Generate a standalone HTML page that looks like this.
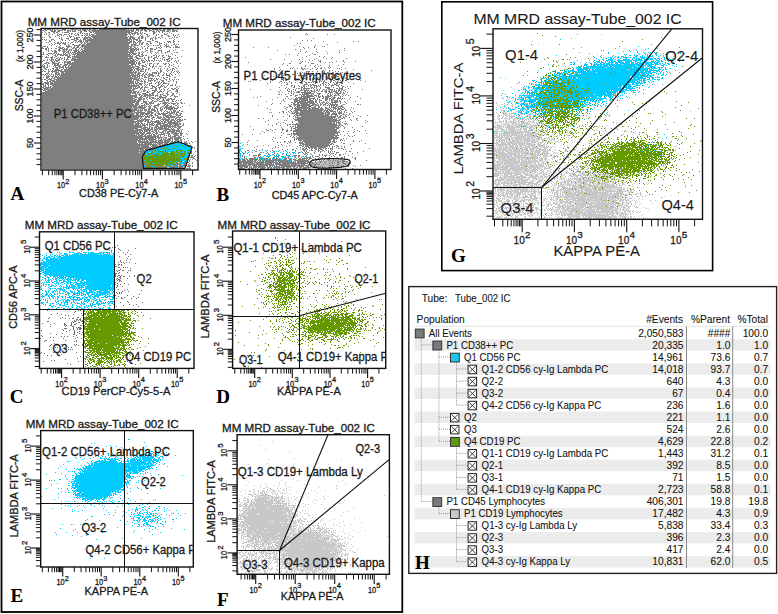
<!DOCTYPE html>
<html><head><meta charset="utf-8"><style>
html,body{margin:0;padding:0;background:#fff;overflow:hidden;width:778px;height:614px;}
svg{display:block;font-family:"Liberation Sans",sans-serif;}
text{stroke:#1a1a1a;stroke-width:0.3px;}
.tb text{stroke-width:0.08px;}
</style></head><body>
<svg width="778" height="614" viewBox="0 0 778 614">
<defs><clipPath id="cD"><rect x="232.6" y="231" width="152.4" height="137.4"/></clipPath><clipPath id="cE"><rect x="40.7" y="430.6" width="151.9" height="136.4"/></clipPath></defs>
<rect width="778" height="614" fill="#fff"/>
<g><path d="M44 29.5h2m1 0h4m1 0h1m1 0h1m2 0h1m4 0h4m5 0h3m1 0h2m1 0h1m1 0h1m1 0h4m1 0h1m1 0h2m2 0h3m1 0h1m1 0h28m1 0h1m2 0h1m1 0h1m2 0h3m2 0h2m1 0h2m1 0h3m2 0h6m1 0h2m2 0h3m1 0h4m1 0h2m3 0h1M42 30.5h2m1 0h2m3 0h3m1 0h2m2 0h5m1 0h2m1 0h4m1 0h1m1 0h2m2 0h3m1 0h5m1 0h2m1 0h43m2 0h3m1 0h3m1 0h3m2 0h3m1 0h1m2 0h3m1 0h5m2 0h3m2 0h5M44 31.5h1m6 0h5m1 0h3m7 0h2m1 0h1m1 0h4m4 0h2m2 0h3m2 0h2m1 0h38m1 0h3m1 0h1m2 0h1m1 0h1m4 0h2m2 0h1m2 0h3m1 0h1m1 0h2m2 0h3m1 0h3m1 0h1m1 0h3m1 0h2M42 32.5h1m2 0h1m2 0h2m3 0h2m1 0h2m4 0h1m1 0h5m9 0h1m1 0h2m8 0h2m1 0h1m1 0h37m2 0h4m2 0h1m1 0h1m10 0h3m3 0h1m2 0h1m6 0h1M46 33.5h1m2 0h1m4 0h1m3 0h1m10 0h1m1 0h2m2 0h1m1 0h1m2 0h1m1 0h1m1 0h1m1 0h2m1 0h1m4 0h33m1 0h2m1 0h5m1 0h2m1 0h2m2 0h2m7 0h2m9 0h1m2 0h1m3 0h1m134 0h1M44 34.5h1m1 0h1m2 0h1m2 0h1m4 0h1m1 0h3m2 0h3m1 0h1m2 0h1m2 0h1m2 0h2m6 0h1m1 0h1m1 0h1m1 0h3m2 0h32m1 0h2m1 0h1m1 0h1m2 0h2m2 0h1m4 0h2m5 0h1m2 0h1m1 0h1m5 0h3m6 0h1m4 0h1m126 0h1m1 0h1m19 0h1m6 0h1M48 35.5h1m8 0h2m2 0h1m1 0h1m5 0h1m5 0h2m1 0h1m2 0h2m1 0h1m1 0h2m1 0h2m1 0h35m3 0h1m2 0h1m6 0h1m1 0h1m4 0h1m1 0h1m6 0h1m4 0h2m4 0h2m4 0h1m1 0h1m1 0h1M49 36.5h1m5 0h1m3 0h1m7 0h1m1 0h3m1 0h1m11 0h1m2 0h1m2 0h36m1 0h1m1 0h3m6 0h1m1 0h2m4 0h2m6 0h1m5 0h1m6 0h2m4 0h1m4 0h1M42 37.5h1m1 0h1m4 0h2m10 0h1m8 0h1m3 0h1m1 0h4m2 0h1m1 0h7m1 0h36m1 0h6m3 0h2m1 0h3m1 0h1m7 0h1m1 0h1m2 0h2m2 0h1m9 0h1m1 0h1m1 0h2m112 0h1M59 38.5h1m1 0h1m4 0h3m5 0h4m5 0h5m1 0h3m1 0h35m1 0h2m1 0h3m3 0h2m1 0h2m2 0h1m4 0h3m2 0h2m3 0h1m4 0h1m3 0h1m1 0h1m141 0h1M42 39.5h1m1 0h1m1 0h1m4 0h3m7 0h2m5 0h1m2 0h4m1 0h3m1 0h1m2 0h3m1 0h45m1 0h5m1 0h1m5 0h1m4 0h1m1 0h1m2 0h1m18 0h1M45 40.5h1m3 0h1m1 0h1m2 0h1m7 0h1m2 0h1m3 0h1m4 0h3m2 0h3m1 0h1m1 0h45m1 0h1m1 0h1m2 0h2m1 0h3m3 0h1m6 0h2m19 0h1m128 0h1m4 0h1m3 0h1M49 41.5h2m9 0h1m12 0h1m2 0h1m1 0h4m1 0h1m1 0h3m1 0h39m1 0h3m1 0h2m3 0h3m6 0h4m4 0h3m9 0h4m2 0h2m3 0h1m144 0h1m29 0h1m4 0h1M46 42.5h1m1 0h1m5 0h1m2 0h2m2 0h1m1 0h1m1 0h1m2 0h1m2 0h2m2 0h1m1 0h1m2 0h3m1 0h1m1 0h3m1 0h42m1 0h3m1 0h1m1 0h2m1 0h2m6 0h1m6 0h1m1 0h1m4 0h1m3 0h1m1 0h1m2 0h1m163 0h1M51 43.5h1m3 0h1m1 0h4m1 0h4m4 0h1m10 0h1m2 0h2m1 0h43m3 0h1m1 0h2m2 0h1m1 0h2m3 0h2m2 0h2m7 0h3m4 0h1m7 0h1m122 0h1m2 0h1M49 44.5h1m2 0h1m1 0h1m4 0h1m4 0h2m2 0h1m3 0h2m5 0h2m1 0h3m1 0h43m2 0h5m3 0h1m1 0h2m3 0h1m1 0h1m10 0h1m4 0h1m1 0h1m6 0h2m1 0h1m1 0h1m148 0h1M51 45.5h1m8 0h1m5 0h1m1 0h2m4 0h6m1 0h48m2 0h2m1 0h5m8 0h1m2 0h1m2 0h1m1 0h1m1 0h2m1 0h1m4 0h2m1 0h1m2 0h1m3 0h1m118 0h1m20 0h1M43 46.5h3m1 0h1m8 0h1m2 0h1m6 0h5m3 0h1m2 0h2m2 0h51m1 0h2m6 0h1m2 0h1m3 0h1m11 0h1m3 0h1m1 0h3m6 0h3m121 0h1m14 0h1m7 0h1m1 0h1M42 47.5h1m4 0h1m10 0h3m1 0h2m3 0h2m2 0h1m1 0h2m1 0h3m1 0h1m1 0h1m1 0h45m1 0h2m2 0h2m1 0h1m4 0h1m4 0h1m8 0h1m1 0h2m1 0h1m4 0h1m2 0h2m2 0h1m1 0h5m73 0h1m14 0h1m34 0h1m4 0h1m5 0h1M42 48.5h2m1 0h2m1 0h1m2 0h1m3 0h2m2 0h4m1 0h1m1 0h2m4 0h2m1 0h2m2 0h1m1 0h1m1 0h51m1 0h2m1 0h1m3 0h1m2 0h1m1 0h1m2 0h3m3 0h1m3 0h1m143 0h1m39 0h1M45 49.5h2m1 0h1m9 0h2m2 0h6m1 0h3m3 0h2m1 0h1m2 0h2m1 0h45m1 0h9m1 0h1m4 0h1m4 0h3m1 0h2m19 0h1m119 0h1m4 0h1m15 0h1M46 50.5h1m1 0h1m2 0h1m2 0h2m2 0h3m2 0h2m1 0h1m1 0h2m1 0h1m1 0h6m1 0h1m1 0h46m1 0h6m1 0h1m1 0h1m7 0h2m2 0h1m7 0h4m7 0h1m3 0h1m8 0h1m94 0h1m61 0h1m4 0h1M48 51.5h1m3 0h1m1 0h3m2 0h1m2 0h4m1 0h2m1 0h1m3 0h3m1 0h2m1 0h48m1 0h4m1 0h1m6 0h1m2 0h1m4 0h3m5 0h1m2 0h1m5 0h3m130 0h1m5 0h1m9 0h1m9 0h1M43 52.5h1m10 0h3m6 0h2m1 0h3m1 0h1m1 0h4m1 0h57m4 0h2m1 0h1m1 0h1m3 0h1m2 0h1m4 0h1m1 0h1m3 0h1m3 0h1m1 0h1m6 0h1m1 0h2m127 0h1m11 0h1m21 0h1M43 53.5h1m4 0h4m1 0h2m1 0h1m1 0h1m4 0h1m1 0h1m2 0h2m1 0h1m1 0h1m1 0h53m1 0h2m1 0h5m1 0h2m2 0h1m8 0h1m4 0h1m1 0h1m3 0h1m2 0h1m5 0h1m126 0h1m13 0h1m14 0h1M42 54.5h2m2 0h2m4 0h1m2 0h1m1 0h5m1 0h5m1 0h1m2 0h4m1 0h53m1 0h1m1 0h3m2 0h1m2 0h2m12 0h1m16 0h1m112 0h1m3 0h1m24 0h2M48 55.5h1m5 0h2m1 0h1m2 0h4m1 0h3m1 0h2m3 0h1m1 0h55m1 0h1m3 0h4m2 0h2m1 0h2m6 0h2m1 0h1m2 0h1m2 0h2m2 0h1m1 0h1m6 0h1m121 0h1m11 0h1M42 56.5h1m3 0h1m5 0h1m2 0h2m10 0h3m2 0h61m2 0h2m2 0h4m5 0h1m2 0h1m4 0h1m1 0h1m3 0h1m5 0h3m10 0h1m124 0h1m12 0h1m4 0h1M45 57.5h4m1 0h3m1 0h1m3 0h1m1 0h1m3 0h1m2 0h4m1 0h1m1 0h54m1 0h4m1 0h1m1 0h2m6 0h1m3 0h2m1 0h1m2 0h3m6 0h2m4 0h1m7 0h1m67 0h1m56 0h1m20 0h1m8 0h1M51 58.5h2m3 0h2m1 0h1m1 0h2m1 0h1m2 0h1m4 0h4m1 0h56m3 0h5m1 0h1m1 0h1m3 0h1m4 0h2m2 0h1m2 0h1m1 0h1m5 0h2m1 0h2m2 0h1m140 0h1m9 0h1m4 0h1m14 0h1M47 59.5h1m1 0h1m1 0h3m1 0h1m2 0h2m1 0h1m2 0h1m1 0h3m2 0h60m1 0h2m1 0h1m2 0h1m2 0h1m3 0h1m2 0h1m5 0h1m7 0h1m1 0h1m1 0h3m2 0h1m98 0h1m13 0h1m14 0h1m2 0h1m11 0h1M43 60.5h2m2 0h1m2 0h2m1 0h1m1 0h5m3 0h1m2 0h1m4 0h58m1 0h5m1 0h2m3 0h3m2 0h1m1 0h2m1 0h2m1 0h1m1 0h1m1 0h1m1 0h1m3 0h1m2 0h1m1 0h1m5 0h1m2 0h1m130 0h1m2 0h1m5 0h1m1 0h1m22 0h1M42 61.5h1m8 0h2m1 0h1m1 0h2m6 0h2m1 0h4m3 0h62m3 0h1m2 0h1m1 0h2m1 0h1m1 0h1m3 0h1m5 0h1m1 0h1m5 0h3m4 0h1m1 0h1m1 0h1m112 0h1m8 0h1m1 0h1m2 0h1m13 0h2m15 0h1m6 0h1m11 0h1M46 62.5h3m3 0h3m3 0h2m2 0h1m1 0h7m1 0h63m1 0h1m1 0h2m2 0h3m26 0h1m4 0h1m71 0h1m52 0h1m6 0h1m11 0h1m4 0h1m3 0h1m2 0h1m11 0h1M44 63.5h3m1 0h2m2 0h7m5 0h1m2 0h68m1 0h1m1 0h3m6 0h1m1 0h3m2 0h1m2 0h2m4 0h1m1 0h2m1 0h1m8 0h1m2 0h1m102 0h1m5 0h2m8 0h2m10 0h3M43 64.5h1m3 0h1m4 0h1m1 0h2m1 0h2m1 0h2m2 0h4m1 0h60m2 0h5m2 0h2m5 0h1m3 0h1m3 0h1m3 0h1m6 0h2m3 0h1m3 0h1m108 0h1m34 0h1m25 0h1M42 65.5h1m1 0h1m2 0h1m6 0h6m3 0h4m1 0h2m1 0h62m2 0h1m3 0h1m1 0h3m2 0h1m2 0h1m3 0h1m15 0h1m1 0h1m115 0h1m17 0h1m4 0h1m4 0h1m4 0h1m8 0h1m8 0h1M42 66.5h3m2 0h1m1 0h1m3 0h1m1 0h1m2 0h3m1 0h2m1 0h1m2 0h1m1 0h61m1 0h2m1 0h4m3 0h4m4 0h1m1 0h2m1 0h2m2 0h3m3 0h1m2 0h1m4 0h1m4 0h1m126 0h1m8 0h1m3 0h1m10 0h1M43 67.5h2m1 0h2m7 0h3m1 0h5m1 0h70m2 0h3m2 0h1m3 0h1m5 0h1m16 0h1m5 0h1m103 0h1m13 0h1m7 0h1m13 0h1m5 0h1m2 0h1m3 0h1m1 0h1m10 0h1M44 68.5h2m6 0h2m2 0h2m1 0h1m3 0h1m2 0h1m1 0h64m1 0h1m1 0h4m1 0h1m1 0h2m4 0h2m4 0h1m3 0h1m1 0h1m3 0h1m2 0h1m4 0h2m2 0h1m97 0h1m15 0h1m1 0h1m4 0h1m3 0h2m1 0h1m2 0h1m4 0h1m4 0h1m2 0h2m7 0h1m7 0h1m1 0h1m5 0h1M42 69.5h1m2 0h2m1 0h1m1 0h1m2 0h1m1 0h4m2 0h2m1 0h69m1 0h1m1 0h4m1 0h3m1 0h2m1 0h1m11 0h1m6 0h1m2 0h1m1 0h1m1 0h1m99 0h1m5 0h1m13 0h1m7 0h2m1 0h1m4 0h1m5 0h1m8 0h1m15 0h1m11 0h1M43 70.5h1m4 0h1m3 0h1m1 0h8m2 0h69m1 0h1m2 0h2m1 0h2m3 0h1m4 0h1m5 0h1m3 0h2m4 0h1m1 0h1m3 0h1m4 0h1m101 0h1m2 0h1m40 0h1m5 0h1m2 0h1m38 0h1M42 71.5h1m1 0h2m2 0h2m1 0h6m1 0h1m1 0h72m1 0h1m1 0h2m1 0h1m1 0h4m1 0h1m11 0h1m2 0h2m5 0h1m3 0h1m2 0h1m1 0h1m1 0h1m127 0h4m2 0h1m4 0h1m6 0h1m4 0h1m5 0h1m2 0h1M48 72.5h1m3 0h1m2 0h4m2 0h3m1 0h72m1 0h2m4 0h1m2 0h1m4 0h5m1 0h1m1 0h1m2 0h1m7 0h1m1 0h1m3 0h1m1 0h1m101 0h1m18 0h1m1 0h1m3 0h1m1 0h1m15 0h1m2 0h2m3 0h2m8 0h1M46 73.5h3m2 0h1m3 0h2m1 0h2m1 0h72m1 0h2m1 0h4m2 0h1m2 0h1m2 0h1m2 0h1m1 0h3m1 0h2m4 0h1m1 0h1m3 0h1m7 0h1m103 0h1m1 0h1m12 0h1m14 0h2m3 0h1m9 0h3m1 0h1m1 0h1M42 74.5h2m1 0h1m1 0h1m1 0h1m1 0h1m1 0h1m1 0h5m1 0h69m1 0h3m1 0h1m1 0h3m2 0h2m1 0h2m1 0h5m5 0h1m4 0h1m2 0h1m2 0h1m1 0h1m3 0h1m94 0h1m7 0h1m13 0h2m14 0h1m3 0h1m6 0h1m8 0h1m2 0h1m2 0h1m2 0h1m15 0h1M44 75.5h1m1 0h1m1 0h1m1 0h1m2 0h1m1 0h1m1 0h1m1 0h79m1 0h1m1 0h2m1 0h1m2 0h1m1 0h5m3 0h2m3 0h2m2 0h4m2 0h1m6 0h1m84 0h1m18 0h1m14 0h3m1 0h1m2 0h2m3 0h2m2 0h2m6 0h1m5 0h1m5 0h1m1 0h1m9 0h1m8 0h1m4 0h1M46 76.5h4m1 0h3m1 0h2m1 0h1m1 0h71m1 0h4m1 0h3m2 0h1m1 0h2m2 0h2m2 0h2m1 0h1m3 0h1m9 0h2m102 0h1m3 0h2m11 0h1m10 0h1m2 0h1m1 0h1m2 0h2m9 0h1m2 0h1m2 0h1m4 0h1m3 0h4M43 77.5h1m2 0h3m3 0h1m1 0h79m1 0h4m1 0h1m4 0h3m1 0h1m12 0h1m1 0h1m2 0h2m6 0h2m100 0h1m6 0h1m11 0h1m10 0h1m6 0h1m4 0h1m3 0h1m4 0h1m3 0h2m1 0h1m6 0h1M46 78.5h2m1 0h1m1 0h1m1 0h2m2 0h80m1 0h2m1 0h2m5 0h5m1 0h1m1 0h1m1 0h1m4 0h2m4 0h1m113 0h1m10 0h1m8 0h3m6 0h1m1 0h2m1 0h1m1 0h1m2 0h1m4 0h4m3 0h1m2 0h1m7 0h1M42 79.5h1m1 0h2m2 0h4m2 0h78m1 0h6m1 0h1m2 0h1m1 0h1m2 0h1m2 0h1m1 0h1m2 0h2m2 0h1m4 0h2m2 0h1m2 0h1m1 0h1m1 0h1m1 0h1m104 0h1m10 0h1m8 0h1m6 0h1m1 0h1m3 0h1m13 0h1m5 0h1m1 0h2M46 80.5h2m2 0h5m1 0h76m1 0h1m2 0h4m1 0h1m2 0h1m3 0h5m1 0h2m5 0h3m2 0h1m3 0h1m2 0h1m86 0h1m11 0h1m10 0h1m1 0h2m8 0h1m4 0h1m9 0h1m1 0h1m6 0h2m3 0h1m5 0h2m1 0h2m3 0h1m1 0h1m1 0h1m2 0h2m13 0h1M42 81.5h1m4 0h1m1 0h2m1 0h82m1 0h1m1 0h1m2 0h3m1 0h2m2 0h1m1 0h1m3 0h1m2 0h1m1 0h1m2 0h2m4 0h2m3 0h1m2 0h1m71 0h1m1 0h1m19 0h1m9 0h2m7 0h1m12 0h1m1 0h1m7 0h4m3 0h1m1 0h1m1 0h2m5 0h2m3 0h1m1 0h1m4 0h1m22 0h1M44 82.5h5m1 0h3m1 0h80m1 0h1m1 0h2m5 0h2m1 0h1m3 0h1m4 0h1m1 0h2m1 0h1m1 0h2m11 0h1m93 0h1m8 0h1m4 0h1m1 0h1m4 0h1m3 0h1m9 0h2m1 0h2m1 0h1m1 0h1m1 0h3m1 0h1m3 0h1m1 0h2m3 0h1m2 0h1m2 0h4m8 0h1M42 83.5h2m1 0h4m1 0h84m1 0h3m1 0h4m1 0h1m4 0h3m3 0h1m2 0h1m1 0h1m2 0h4m1 0h1m7 0h1m90 0h1m13 0h1m5 0h1m3 0h1m9 0h2m3 0h1m8 0h1m6 0h2m4 0h1m5 0h1m1 0h2m3 0h2m10 0h1M42 84.5h2m1 0h1m1 0h2m1 0h80m1 0h1m1 0h2m1 0h1m1 0h4m3 0h1m1 0h1m1 0h1m8 0h2m2 0h1m5 0h1m3 0h1m2 0h1m110 0h2m16 0h4m2 0h1m1 0h2m6 0h1m2 0h1m1 0h1m3 0h1m2 0h1m1 0h3m2 0h1M43 85.5h1m1 0h1m2 0h1m3 0h87m2 0h1m2 0h1m1 0h1m2 0h1m1 0h2m4 0h2m2 0h1m1 0h1m3 0h1m2 0h3m2 0h1m105 0h1m2 0h1m6 0h2m1 0h1m3 0h1m4 0h2m3 0h1m1 0h2m1 0h4m1 0h1m1 0h1m2 0h1m2 0h1m1 0h1m2 0h3m2 0h3m2 0h1M43 86.5h3m2 0h1m1 0h2m1 0h84m1 0h2m2 0h1m2 0h1m6 0h3m1 0h1m3 0h3m1 0h1m1 0h1m10 0h1m1 0h1m111 0h1m2 0h1m4 0h1m1 0h1m1 0h2m1 0h1m3 0h1m3 0h1m1 0h2m1 0h1m5 0h1m5 0h1m6 0h1m3 0h2m3 0h1m2 0h1M42 87.5h2m1 0h6m1 0h80m1 0h1m1 0h1m1 0h3m1 0h2m1 0h4m4 0h1m1 0h2m2 0h3m3 0h2m10 0h1m102 0h1m6 0h1m6 0h2m6 0h2m1 0h1m6 0h2m1 0h1m1 0h1m3 0h1m4 0h5m3 0h1m5 0h1m2 0h1m2 0h1M43 88.5h6m1 0h82m1 0h5m2 0h2m2 0h1m5 0h3m2 0h2m2 0h1m3 0h1m4 0h1m2 0h2m1 0h2m2 0h1m106 0h1m2 0h1m7 0h1m1 0h2m1 0h1m1 0h7m1 0h1m1 0h1m2 0h1m3 0h1m6 0h3m6 0h2m1 0h4m5 0h1M42 89.5h1m1 0h87m1 0h3m5 0h1m1 0h1m1 0h1m3 0h1m6 0h2m2 0h1m1 0h1m2 0h1m2 0h1m4 0h2m2 0h2m72 0h1m19 0h1m16 0h1m1 0h1m3 0h1m1 0h1m5 0h1m1 0h2m1 0h1m1 0h1m5 0h1m2 0h1m1 0h1m3 0h2m1 0h1m1 0h5m1 0h1m3 0h2m1 0h2m2 0h1m16 0h1M43 90.5h3m1 0h87m5 0h1m3 0h3m6 0h5m3 0h1m3 0h1m4 0h2m5 0h2m102 0h1m6 0h1m3 0h1m3 0h1m4 0h3m1 0h5m1 0h2m2 0h1m1 0h2m1 0h1m2 0h1m2 0h2m2 0h1m1 0h2m1 0h1m1 0h1m1 0h2m1 0h1m1 0h2M45 91.5h87m1 0h4m1 0h1m2 0h1m1 0h2m2 0h1m1 0h1m4 0h2m1 0h1m1 0h3m1 0h1m3 0h2m6 0h3m100 0h1m9 0h2m1 0h1m1 0h1m3 0h3m4 0h2m1 0h1m1 0h1m1 0h4m3 0h1m2 0h2m1 0h3m1 0h2m1 0h1m1 0h4m1 0h1m1 0h1m4 0h1M42 92.5h94m1 0h2m1 0h1m5 0h3m3 0h3m3 0h2m2 0h1m4 0h1m3 0h1m5 0h1m101 0h1m2 0h1m8 0h1m2 0h1m1 0h4m1 0h10m3 0h1m1 0h1m8 0h2m2 0h4m2 0h3m2 0h2m1 0h1m3 0h1M42 93.5h89m1 0h4m1 0h1m1 0h1m2 0h4m3 0h1m1 0h3m3 0h1m5 0h1m2 0h2m4 0h2m2 0h1m111 0h1m2 0h1m1 0h1m8 0h1m1 0h10m3 0h4m7 0h1m1 0h1m3 0h1m1 0h5m2 0h2M42 94.5h89m4 0h2m1 0h3m2 0h5m1 0h2m1 0h2m3 0h1m2 0h3m4 0h2m3 0h2m5 0h1m98 0h2m1 0h1m3 0h1m7 0h1m5 0h2m1 0h7m2 0h1m1 0h1m4 0h2m7 0h1m2 0h1m1 0h1m2 0h1m1 0h2m3 0h1m3 0h1M42 95.5h95m2 0h1m1 0h2m1 0h10m1 0h3m2 0h1m2 0h3m1 0h1m3 0h2m1 0h1m115 0h2m3 0h3m3 0h1m1 0h2m1 0h7m1 0h3m1 0h1m3 0h1m4 0h2m1 0h2m2 0h3m1 0h2m3 0h1m1 0h1m2 0h1M42 96.5h95m3 0h2m1 0h3m1 0h1m1 0h2m4 0h1m1 0h1m1 0h3m3 0h2m3 0h1m3 0h4m82 0h1m25 0h2m7 0h1m5 0h13m2 0h1m1 0h3m1 0h2m1 0h6m1 0h1m1 0h1m5 0h1m1 0h1m14 0h1M42 97.5h91m1 0h4m1 0h4m3 0h2m1 0h1m1 0h3m5 0h7m9 0h1m77 0h1m3 0h1m19 0h1m18 0h1m1 0h4m1 0h7m4 0h1m3 0h2m3 0h1m1 0h4m2 0h1m1 0h3m2 0h1m1 0h1m9 0h1M42 98.5h93m3 0h4m1 0h2m1 0h1m2 0h2m1 0h4m1 0h2m1 0h1m1 0h2m1 0h1m2 0h1m1 0h2m2 0h1m110 0h1m2 0h1m2 0h1m3 0h3m1 0h9m1 0h6m2 0h1m4 0h2m1 0h3m1 0h2m1 0h3m2 0h4m1 0h1m1 0h1m15 0h1M42 99.5h91m1 0h3m1 0h4m1 0h2m2 0h1m3 0h1m4 0h2m1 0h1m3 0h1m2 0h4m1 0h4m6 0h1m90 0h1m10 0h1m6 0h1m2 0h5m1 0h9m1 0h2m2 0h1m1 0h1m1 0h1m1 0h1m5 0h3m1 0h1m1 0h3m3 0h1m3 0h1m7 0h1M42 100.5h94m1 0h4m2 0h1m8 0h2m3 0h2m3 0h3m1 0h3m3 0h1m3 0h1m1 0h1m1 0h1m102 0h1m10 0h6m1 0h7m1 0h4m2 0h2m2 0h3m3 0h2m2 0h1m1 0h2m1 0h4m1 0h1m7 0h1M42 101.5h98m3 0h4m1 0h1m2 0h2m1 0h3m2 0h4m1 0h1m3 0h1m3 0h2m1 0h1m90 0h1m14 0h1m2 0h1m9 0h4m1 0h7m1 0h7m1 0h2m2 0h1m3 0h1m3 0h1m3 0h2m1 0h4m1 0h2m3 0h1m10 0h1M42 102.5h93m1 0h3m4 0h4m2 0h3m1 0h1m9 0h5m3 0h1m4 0h1m3 0h2m109 0h2m1 0h2m1 0h17m1 0h2m2 0h1m1 0h4m1 0h1m1 0h1m2 0h7m2 0h1m4 0h1M42 103.5h91m2 0h4m2 0h2m2 0h3m1 0h5m4 0h1m1 0h1m1 0h5m1 0h2m1 0h5m1 0h2m2 0h2m1 0h1m87 0h1m7 0h1m12 0h2m2 0h2m1 0h8m1 0h6m2 0h1m2 0h1m1 0h1m2 0h3m1 0h2m1 0h1m2 0h1m4 0h1m5 0h1M42 104.5h92m1 0h4m5 0h1m1 0h3m1 0h1m6 0h3m4 0h2m1 0h1m5 0h2m2 0h1m93 0h1m16 0h1m2 0h1m1 0h7m1 0h9m2 0h5m1 0h1m1 0h2m1 0h3m2 0h1m1 0h8m5 0h2m12 0h2m1 0h1M42 105.5h96m1 0h1m1 0h5m3 0h1m1 0h1m2 0h5m5 0h1m1 0h3m2 0h1m3 0h2m1 0h1m10 0h1m68 0h1m30 0h2m3 0h2m1 0h17m1 0h4m1 0h1m2 0h1m1 0h1m1 0h1m1 0h1m1 0h4m1 0h2m3 0h2M42 106.5h95m1 0h5m1 0h1m1 0h1m1 0h3m2 0h3m2 0h1m3 0h2m1 0h3m1 0h3m1 0h1m3 0h1m4 0h1m101 0h1m4 0h3m2 0h1m1 0h4m1 0h6m1 0h3m3 0h2m2 0h2m9 0h1m1 0h1m1 0h1m1 0h2m1 0h5M42 107.5h90m1 0h13m3 0h2m3 0h3m3 0h2m2 0h11m2 0h2m1 0h1m105 0h2m4 0h1m2 0h1m1 0h13m1 0h5m2 0h2m1 0h1m3 0h2m2 0h1m1 0h5m1 0h2m1 0h1m1 0h2m7 0h1M42 108.5h91m1 0h4m1 0h6m3 0h3m1 0h1m1 0h1m1 0h2m2 0h1m1 0h1m1 0h1m1 0h7m1 0h4m89 0h1m17 0h1m6 0h1m1 0h17m1 0h7m1 0h3m2 0h4m1 0h1m2 0h4m1 0h4m2 0h1m8 0h1M42 109.5h95m1 0h1m1 0h1m1 0h1m1 0h3m1 0h2m1 0h4m2 0h1m2 0h3m3 0h1m1 0h5m1 0h1m1 0h1m93 0h1m15 0h1m4 0h1m3 0h7m1 0h4m1 0h16m1 0h1m1 0h3m1 0h1m1 0h1m1 0h1m1 0h3m1 0h3m1 0h1m4 0h1M42 110.5h101m1 0h3m1 0h2m1 0h5m1 0h1m2 0h2m3 0h1m4 0h1m2 0h3m3 0h1m110 0h1m3 0h29m1 0h4m1 0h4m4 0h1m2 0h1m4 0h2M42 111.5h93m2 0h2m1 0h2m3 0h1m1 0h5m2 0h2m1 0h2m2 0h1m2 0h1m1 0h2m1 0h1m1 0h1m1 0h3m1 0h2m2 0h2m99 0h2m4 0h1m2 0h1m1 0h1m1 0h3m2 0h22m1 0h2m1 0h3m1 0h6m1 0h1m1 0h1m1 0h1m2 0h1m6 0h1m2 0h1M42 112.5h91m1 0h11m2 0h7m2 0h1m1 0h1m4 0h1m3 0h3m1 0h4m1 0h3m90 0h1m1 0h1m7 0h1m3 0h1m2 0h1m2 0h1m2 0h1m1 0h5m1 0h24m1 0h5m3 0h1m1 0h1m2 0h4m2 0h1m1 0h1m5 0h1M42 113.5h93m1 0h3m1 0h10m1 0h2m2 0h1m1 0h3m1 0h7m1 0h4m1 0h1m1 0h1m2 0h3m101 0h1m7 0h4m1 0h30m1 0h3m2 0h5m1 0h4m1 0h1m5 0h1M42 114.5h92m2 0h3m1 0h4m1 0h4m1 0h2m2 0h2m2 0h3m1 0h4m3 0h2m2 0h1m1 0h3m2 0h1m106 0h1m7 0h3m1 0h25m1 0h5m1 0h6m2 0h1m2 0h3m1 0h1m2 0h1M42 115.5h99m1 0h1m1 0h1m2 0h1m1 0h4m2 0h3m5 0h9m4 0h5m91 0h1m16 0h1m4 0h1m1 0h33m2 0h1m3 0h3m2 0h2m3 0h1m2 0h1m9 0h1m8 0h1M42 116.5h102m1 0h5m1 0h1m1 0h1m3 0h2m1 0h1m2 0h1m1 0h4m1 0h6m2 0h1m2 0h2m89 0h1m10 0h1m5 0h1m3 0h1m1 0h1m1 0h1m3 0h35m1 0h1m1 0h2m2 0h1m1 0h2m6 0h1m6 0h1M42 117.5h97m1 0h2m3 0h2m1 0h2m2 0h3m2 0h5m1 0h2m1 0h9m1 0h5m114 0h41m2 0h3m2 0h2m4 0h1M42 118.5h97m1 0h1m1 0h1m1 0h2m5 0h2m3 0h1m1 0h3m1 0h1m1 0h2m2 0h2m5 0h2m2 0h1m78 0h1m4 0h1m23 0h1m5 0h1m3 0h36m1 0h1m1 0h1m1 0h1m2 0h2m1 0h1m11 0h2M42 119.5h96m1 0h1m1 0h9m2 0h1m1 0h1m6 0h9m1 0h3m1 0h1m1 0h4m1 0h1m1 0h2m91 0h1m16 0h43m2 0h2m9 0h1m5 0h1M42 120.5h92m3 0h7m1 0h4m2 0h1m4 0h3m1 0h1m2 0h1m1 0h4m1 0h5m1 0h2m1 0h4m85 0h1m15 0h1m1 0h1m8 0h45m11 0h1m5 0h1m7 0h1M42 121.5h101m1 0h2m1 0h2m1 0h10m1 0h2m1 0h2m1 0h5m2 0h2m1 0h4m84 0h1m26 0h1m5 0h39m1 0h1m1 0h1m4 0h1m21 0h1M42 122.5h94m1 0h2m1 0h2m5 0h4m1 0h1m1 0h7m1 0h1m1 0h3m1 0h11m99 0h1m4 0h1m8 0h1m5 0h34m1 0h2m1 0h4m2 0h1m22 0h1M42 123.5h92m1 0h5m1 0h2m1 0h1m2 0h1m1 0h1m1 0h3m3 0h8m2 0h11m1 0h2m2 0h1m92 0h1m3 0h1m4 0h1m10 0h2m1 0h36m1 0h1m1 0h3m3 0h3M42 124.5h92m1 0h4m1 0h1m1 0h3m1 0h2m1 0h4m1 0h1m1 0h5m2 0h5m1 0h3m1 0h8m2 0h1m84 0h1m7 0h1m10 0h1m1 0h2m1 0h45m2 0h2m4 0h1m1 0h1M42 125.5h99m1 0h4m1 0h1m1 0h1m1 0h3m1 0h3m2 0h11m1 0h1m1 0h5m3 0h2m88 0h1m7 0h1m6 0h1m7 0h1m1 0h43m1 0h2M42 126.5h101m1 0h2m3 0h2m4 0h4m1 0h16m1 0h5m68 0h1m39 0h1m1 0h2m1 0h1m1 0h40m1 0h1m1 0h1m2 0h1m18 0h1M42 127.5h100m1 0h5m1 0h1m1 0h2m1 0h3m1 0h5m1 0h3m1 0h3m1 0h1m1 0h3m1 0h3m100 0h1m9 0h1m3 0h45m4 0h1m7 0h1M42 128.5h96m3 0h5m1 0h3m1 0h2m1 0h1m1 0h13m2 0h1m1 0h1m3 0h3m102 0h1m8 0h1m1 0h3m1 0h38m1 0h3m5 0h1M42 129.5h92m1 0h7m1 0h10m1 0h4m1 0h4m1 0h11m2 0h2m1 0h1m1 0h1m70 0h1m12 0h1m3 0h1m4 0h1m6 0h2m3 0h1m3 0h1m3 0h42m17 0h1M42 130.5h101m1 0h7m1 0h1m1 0h3m1 0h1m4 0h4m2 0h2m1 0h8m1 0h1m85 0h2m3 0h1m9 0h1m3 0h2m2 0h2m1 0h44m2 0h1m17 0h1m7 0h1M42 131.5h96m1 0h2m1 0h1m1 0h4m1 0h1m1 0h3m1 0h2m1 0h1m3 0h2m1 0h1m1 0h8m1 0h4m1 0h1m6 0h1m73 0h1m23 0h2m5 0h44m1 0h1m4 0h1m4 0h1m5 0h1m4 0h1M42 132.5h100m1 0h2m2 0h4m2 0h2m1 0h2m1 0h5m1 0h1m1 0h2m2 0h6m2 0h3m82 0h1m9 0h1m6 0h1m11 0h1m2 0h44m13 0h1M42 133.5h97m1 0h5m1 0h5m1 0h1m2 0h3m3 0h1m1 0h2m1 0h4m1 0h2m1 0h5m1 0h3m3 0h1m73 0h1m22 0h1m7 0h1m1 0h45m9 0h1m18 0h1M42 134.5h93m1 0h4m1 0h3m1 0h2m2 0h1m1 0h1m1 0h2m1 0h1m1 0h7m3 0h2m3 0h5m2 0h2m5 0h1m54 0h1m9 0h1m34 0h3m1 0h1m1 0h42m2 0h1m2 0h1M42 135.5h95m1 0h5m1 0h2m1 0h5m1 0h3m1 0h2m1 0h1m3 0h1m1 0h1m1 0h1m1 0h1m3 0h5m1 0h2m99 0h1m9 0h1m2 0h1m2 0h42m5 0h1m3 0h1m5 0h1M42 136.5h117m1 0h1m2 0h1m4 0h3m1 0h4m2 0h2m3 0h1m106 0h1m2 0h1m2 0h1m2 0h35m1 0h2m12 0h1m2 0h1M42 137.5h101m2 0h11m1 0h6m1 0h3m3 0h3m1 0h8m91 0h1m6 0h1m5 0h1m5 0h1m1 0h1m2 0h42M42 138.5h112m1 0h2m1 0h2m1 0h1m1 0h1m1 0h2m1 0h5m1 0h7m2 0h1m3 0h1m87 0h1m18 0h1m1 0h42m5 0h1m2 0h1M42 139.5h96m1 0h8m1 0h8m2 0h1m1 0h2m1 0h3m1 0h4m1 0h1m1 0h5m1 0h2m2 0h1m87 0h1m21 0h1m1 0h1m1 0h34m1 0h2m1 0h1m3 0h2M42 140.5h99m1 0h1m1 0h1m1 0h2m1 0h5m1 0h2m1 0h5m1 0h7m1 0h1m2 0h4m1 0h2m6 0h1m59 0h1m8 0h1m32 0h1m3 0h1m3 0h4m1 0h28m2 0h2m5 0h1m1 0h1m1 0h1m8 0h1m7 0h1M42 141.5h95m1 0h11m1 0h7m1 0h5m1 0h6m1 0h2m1 0h2m1 0h2m2 0h1m2 0h1m1 0h1m4 0h1m3 0h1m77 0h1m10 0h2m2 0h1m1 0h1m9 0h1m1 0h29m1 0h3m1 0h1m16 0h1m5 0h1M42 142.5h95m1 0h31m1 0h6m1 0h1m3 0h1m2 0h3m2 0h1m2 0h1m54 0h1m29 0h1m2 0h1m3 0h1m4 0h2m4 0h1m3 0h4m1 0h27m2 0h3m5 0h1M42 143.5h96m1 0h1m1 0h2m1 0h8m1 0h1m1 0h1m1 0h6m1 0h4m1 0h2m6 0h2m5 0h4m1 0h1m97 0h1m11 0h5m1 0h25m1 0h2m10 0h2m20 0h1M42 144.5h115m1 0h3m1 0h6m79 0h1m33 0h1m18 0h1m1 0h27m1 0h2m1 0h1m16 0h1M42 145.5h107m1 0h1m1 0h6m1 0h4m11 0h1m14 0h2m77 0h1m9 0h1m3 0h1m6 0h1m9 0h3m1 0h1m1 0h25m6 0h2M42 146.5h98m1 0h8m2 0h10m96 0h1m17 0h1m10 0h1m10 0h1m4 0h2m1 0h4m1 0h18m1 0h1m2 0h1m1 0h1m2 0h2m2 0h1m2 0h1M42 147.5h109m1 0h3m1 0h1m35 0h1m1 0h1m59 0h1m20 0h1m2 0h1m21 0h1m3 0h1m1 0h1m1 0h9m1 0h8m6 0h1m3 0h1m7 0h1M42 148.5h110m1 0h1m6 0h1m33 0h1m47 0h1m29 0h1m23 0h1m5 0h2m1 0h2m2 0h1m1 0h2m1 0h3m1 0h4m1 0h1m1 0h2m1 0h1m1 0h3m5 0h2m1 0h2m8 0h1m17 0h1M42 149.5h102m1 0h5m1 0h1m3 0h1m33 0h1m66 0h1m5 0h1m19 0h1m4 0h1m4 0h2m6 0h1m1 0h4m1 0h1m3 0h1m3 0h2m1 0h1m1 0h3m2 0h1m4 0h1m1 0h1m10 0h1m1 0h1M42 150.5h97m1 0h5m1 0h1m4 0h2m86 0h1m7 0h2m5 0h1m4 0h1m5 0h1m6 0h1m12 0h1m9 0h1m7 0h2m1 0h1m2 0h1m1 0h2m1 0h1m3 0h2m2 0h2m2 0h1m1 0h1m2 0h1M42 151.5h103m2 0h1m4 0h1m38 0h1m3 0h1m45 0h1m3 0h1m10 0h1m13 0h1m2 0h2m26 0h1m2 0h1m1 0h1m8 0h1m2 0h1m1 0h2m2 0h1m3 0h1m1 0h1m1 0h1m1 0h1m11 0h1m2 0h2m12 0h1M42 152.5h97m1 0h6m45 0h1m60 0h1m7 0h2m1 0h1m3 0h1m6 0h1m12 0h1m1 0h1m3 0h1m4 0h2m2 0h1m2 0h1m1 0h2m5 0h1m5 0h1m7 0h1m1 0h1m5 0h3m18 0h1M42 153.5h103m45 0h2m51 0h2m2 0h1m11 0h1m6 0h1m1 0h1m5 0h1m2 0h1m5 0h1m9 0h1m4 0h1m4 0h1m1 0h2m3 0h1m3 0h1m14 0h1m1 0h3m2 0h1m8 0h1m6 0h1M42 154.5h102m4 0h1m3 0h1m40 0h1m49 0h1m5 0h1m8 0h3m12 0h1m4 0h1m3 0h1m3 0h1m17 0h2m1 0h1m3 0h1m7 0h1m2 0h1m3 0h1m3 0h1m4 0h1m3 0h2m2 0h1M42 155.5h101m46 0h1m1 0h2m2 0h1m46 0h1m10 0h4m1 0h1m15 0h1m1 0h1m10 0h1m1 0h1m3 0h4m1 0h2m6 0h1m5 0h1m6 0h1m2 0h1m1 0h3m2 0h1m3 0h1m5 0h2m7 0h1M42 156.5h101m46 0h1m1 0h2m1 0h1m45 0h1m1 0h1m1 0h1m8 0h1m4 0h1m1 0h1m6 0h1m1 0h1m7 0h2m4 0h1m1 0h1m2 0h2m4 0h2m2 0h1m3 0h2m1 0h1m4 0h1m1 0h1m2 0h4m6 0h1m5 0h1m2 0h1m9 0h1M42 157.5h100m30 0h1m17 0h4m50 0h1m9 0h2m3 0h3m11 0h2m1 0h1m1 0h1m4 0h1m1 0h1m2 0h1m6 0h1m2 0h1m2 0h1m2 0h1m1 0h5m2 0h1m5 0h1m2 0h1m6 0h1m7 0h1m3 0h2m1 0h1m7 0h1m2 0h1M42 158.5h100m51 0h2m44 0h1m4 0h3m2 0h7m1 0h1m1 0h1m3 0h2m1 0h2m2 0h1m2 0h1m2 0h2m1 0h1m4 0h3m1 0h1m2 0h1m2 0h1m1 0h1m2 0h2m1 0h2m1 0h3m1 0h3m3 0h1m2 0h1m2 0h1m7 0h1m4 0h1m1 0h1m1 0h1m2 0h1m2 0h1m9 0h2M42 159.5h100m3 0h1m42 0h1m1 0h1m1 0h1m2 0h1m46 0h3m1 0h2m1 0h1m2 0h4m1 0h1m1 0h1m1 0h2m1 0h3m2 0h2m1 0h8m3 0h4m2 0h3m1 0h3m3 0h6m1 0h1m1 0h2m2 0h1m3 0h3m5 0h1m2 0h3m3 0h1m6 0h1m3 0h3m8 0h1M42 160.5h102m43 0h1m1 0h1m6 0h1m42 0h2m1 0h4m1 0h6m1 0h3m1 0h1m1 0h1m1 0h2m1 0h4m1 0h1m1 0h18m1 0h1m2 0h15m7 0h1m2 0h1m1 0h1m1 0h1m4 0h1m1 0h1m2 0h1m1 0h1m1 0h1m4 0h3m21 0h1M42 161.5h101m46 0h1m49 0h14m1 0h2m1 0h1m1 0h2m1 0h2m1 0h9m4 0h1m1 0h5m1 0h2m1 0h3m1 0h1m1 0h1m1 0h12m1 0h1m4 0h1m4 0h2m2 0h1m4 0h1m2 0h1m4 0h2m1 0h1m1 0h3m1 0h2M42 162.5h101m1 0h1m18 0h1m12 0h1m7 0h2m1 0h2m3 0h1m46 0h14m1 0h9m1 0h5m1 0h5m1 0h1m3 0h16m1 0h9m1 0h6m2 0h1m4 0h1m4 0h1m6 0h1m1 0h1m2 0h3m2 0h2M42 163.5h101m1 0h1m1 0h1m6 0h1m9 0h1m12 0h2m5 0h2m4 0h1m2 0h1m46 0h3m1 0h12m1 0h8m1 0h7m1 0h1m1 0h6m1 0h26m1 0h1m2 0h2m2 0h1m1 0h1m6 0h1m3 0h2m1 0h1m5 0h1m4 0h3m2 0h1M42 164.5h101m1 0h3m2 0h1m17 0h1m5 0h1m2 0h1m1 0h3m3 0h1m3 0h1m51 0h1m1 0h5m1 0h26m1 0h15m1 0h6m1 0h2m1 0h4m3 0h2m1 0h2m1 0h2m1 0h1m1 0h1m3 0h1m13 0h2m6 0h1M42 165.5h101m6 0h3m2 0h4m1 0h1m3 0h1m2 0h3m5 0h2m1 0h1m2 0h1m2 0h4m1 0h3m1 0h1m46 0h12m1 0h5m1 0h10m1 0h6m1 0h1m2 0h30m1 0h2m2 0h2m13 0h2m1 0h2m2 0h1m3 0h1m2 0h1m4 0h1m4 0h1m6 0h1M42 166.5h101m2 0h2m1 0h1m1 0h1m3 0h1m2 0h2m1 0h1m1 0h1m1 0h3m2 0h2m1 0h1m1 0h1m1 0h7m2 0h1m1 0h3m2 0h1m46 0h9m1 0h1m1 0h1m1 0h12m1 0h2m1 0h2m1 0h1m2 0h5m1 0h15m1 0h7m2 0h3m4 0h2m1 0h1m1 0h1m1 0h1m1 0h1m7 0h1m2 0h1m3 0h1m3 0h2m2 0h1m2 0h1m6 0h1M42 167.5h104m5 0h2m2 0h3m1 0h5m1 0h1m5 0h5m1 0h1m1 0h2m1 0h1m6 0h1m50 0h3m1 0h4m1 0h3m1 0h4m1 0h8m1 0h5m1 0h12m1 0h5m2 0h2m1 0h2m1 0h3m1 0h8m11 0h1m1 0h1m3 0h2m1 0h1m1 0h1m1 0h1m2 0h1m2 0h1M42 168.5h105m1 0h4m2 0h1m1 0h5m1 0h3m1 0h3m1 0h3m2 0h1m3 0h1m1 0h1m1 0h2m1 0h5m48 0h6m3 0h2m1 0h3m1 0h1m1 0h1m2 0h5m2 0h2m1 0h2m1 0h2m1 0h2m1 0h1m2 0h3m1 0h3m1 0h2m1 0h4m2 0h2m1 0h5m1 0h1m9 0h1m6 0h1m3 0h1m1 0h1m13 0h1m6 0h1" stroke="#7f7f7f" stroke-width="1" fill="none"/><path d="M577 34.5h1M571 38.5h1M560 39.5h1M651 44.5h1M638 46.5h1M581 47.5h1M573 48.5h1m41 0h1m32 0h1m8 0h1M645 49.5h1M601 50.5h1m1 0h1m25 0h1m6 0h1m22 0h1M623 51.5h1m6 0h1m6 0h1M579 52.5h1m28 0h1m28 0h1m5 0h1m4 0h1m1 0h1m1 0h1m1 0h1m1 0h2m22 0h1M589 53.5h1m18 0h1m9 0h1m19 0h1m5 0h2m3 0h1m5 0h1m7 0h1m2 0h1m13 0h1m3 0h1M624 54.5h1m1 0h1m7 0h1m4 0h1m5 0h1m1 0h1m7 0h2m4 0h1m3 0h3M556 55.5h1m44 0h1m11 0h1m11 0h1m3 0h2m3 0h1m1 0h2m4 0h1m4 0h1m1 0h2m1 0h1m3 0h1m3 0h1m2 0h1M593 56.5h1m6 0h1m11 0h1m2 0h1m2 0h1m2 0h3m1 0h1m9 0h2m3 0h1m1 0h1m1 0h1m2 0h1m1 0h4m5 0h1m4 0h1m2 0h1m6 0h1M575 57.5h1m18 0h1m6 0h1m1 0h1m4 0h1m1 0h2m2 0h1m2 0h2m2 0h1m1 0h6m1 0h1m2 0h2m1 0h1m3 0h5m1 0h1m1 0h2m3 0h1m10 0h1M596 58.5h1m8 0h2m3 0h2m1 0h1m6 0h1m4 0h2m5 0h1m1 0h1m1 0h4m1 0h4m1 0h1m1 0h5m1 0h2m1 0h3m1 0h1m2 0h1m1 0h1m5 0h1M567 59.5h1m30 0h1m3 0h2m4 0h5m2 0h1m2 0h2m3 0h7m2 0h1m2 0h2m1 0h4m2 0h2m1 0h2m1 0h3m2 0h2m2 0h1m4 0h1m5 0h1m6 0h1m5 0h1M553 60.5h1m23 0h1m11 0h1m4 0h1m4 0h1m3 0h1m2 0h3m1 0h3m1 0h1m2 0h15m1 0h10m1 0h1m1 0h2m3 0h1m1 0h1m2 0h3m2 0h1m3 0h1m1 0h1m2 0h1M553 61.5h1m39 0h1m2 0h4m1 0h1m3 0h1m1 0h1m1 0h1m1 0h5m2 0h1m1 0h2m3 0h7m3 0h2m3 0h1m2 0h2m1 0h1m4 0h3m1 0h1m1 0h3m1 0h2m5 0h1m3 0h1m6 0h1M570 62.5h2m1 0h2m5 0h1m5 0h1m2 0h1m4 0h2m1 0h3m1 0h3m1 0h1m2 0h6m1 0h9m1 0h5m1 0h3m1 0h1m1 0h4m1 0h13m1 0h3m6 0h1m7 0h1M574 63.5h1m10 0h1m4 0h2m2 0h1m1 0h1m3 0h2m1 0h2m1 0h4m1 0h2m2 0h3m2 0h10m1 0h3m1 0h3m1 0h5m1 0h4m1 0h2m2 0h4m1 0h2m1 0h1m2 0h1m1 0h2M548 64.5h1m21 0h2m1 0h2m9 0h4m3 0h1m1 0h12m1 0h9m1 0h6m1 0h21m1 0h2m1 0h6m1 0h4m1 0h1m2 0h2m3 0h2m6 0h1M581 65.5h1m2 0h3m4 0h1m1 0h3m1 0h2m1 0h2m1 0h5m1 0h26m1 0h10m1 0h5m3 0h1m5 0h3m2 0h1m5 0h1M565 66.5h1m13 0h3m1 0h1m2 0h23m1 0h2m1 0h24m1 0h2m1 0h3m1 0h1m1 0h2m1 0h5m8 0h1m10 0h1m1 0h1M572 67.5h1m3 0h5m2 0h6m1 0h16m1 0h7m1 0h17m1 0h6m1 0h4m2 0h1m2 0h7m1 0h3m1 0h2m2 0h1M541 68.5h1m27 0h1m3 0h1m2 0h1m1 0h4m1 0h3m1 0h4m1 0h3m1 0h32m1 0h21m1 0h2m1 0h3m2 0h1m1 0h1m3 0h1m4 0h1M549 69.5h1m22 0h2m3 0h2m1 0h8m1 0h1m1 0h3m1 0h33m1 0h19m1 0h3m1 0h1m4 0h3m2 0h1m1 0h2M538 70.5h1m22 0h2m3 0h1m1 0h1m1 0h4m3 0h7m1 0h6m1 0h56m1 0h11m2 0h1m12 0h1M552 71.5h1m11 0h1m1 0h1m1 0h3m1 0h5m1 0h3m1 0h4m1 0h52m1 0h4m1 0h6m2 0h1m2 0h2m1 0h1m1 0h1m4 0h1M550 72.5h1m4 0h1m1 0h3m1 0h1m2 0h1m1 0h1m2 0h1m3 0h1m1 0h21m1 0h18m1 0h31m1 0h3m1 0h4m4 0h1m2 0h1m3 0h1m1 0h1m9 0h1M554 73.5h1m3 0h2m1 0h2m3 0h2m2 0h2m1 0h1m1 0h3m1 0h1m1 0h29m1 0h29m1 0h4m1 0h3m1 0h2m4 0h1m1 0h1m1 0h1m2 0h1M554 74.5h1m1 0h1m2 0h2m1 0h2m3 0h5m2 0h2m1 0h64m1 0h4m1 0h2m2 0h1m1 0h1m4 0h1m3 0h2m2 0h1M527 75.5h1m20 0h1m1 0h1m2 0h7m2 0h1m1 0h1m4 0h8m1 0h64m1 0h8m1 0h2m7 0h2m2 0h1M550 76.5h1m5 0h1m2 0h2m1 0h4m1 0h2m1 0h15m1 0h44m2 0h7m1 0h8m1 0h3m5 0h1M500 77.5h1m36 0h1m2 0h1m6 0h1m5 0h2m3 0h3m1 0h3m1 0h1m1 0h3m3 0h2m1 0h53m1 0h12m2 0h1m1 0h3m1 0h3m1 0h1m1 0h3m2 0h1M541 78.5h1m1 0h2m3 0h2m4 0h2m1 0h3m1 0h12m1 0h3m1 0h8m1 0h45m1 0h3m1 0h9m3 0h1m2 0h2m7 0h2M540 79.5h1m5 0h1m1 0h2m5 0h1m1 0h3m2 0h6m1 0h71m1 0h1m1 0h2m2 0h3m2 0h1m1 0h2m1 0h3M532 80.5h3m11 0h1m2 0h1m2 0h1m2 0h1m1 0h1m1 0h5m1 0h2m2 0h3m1 0h65m1 0h3m1 0h3m4 0h1m7 0h1M533 81.5h1m2 0h1m4 0h2m1 0h1m1 0h3m1 0h3m4 0h2m2 0h1m1 0h5m2 0h7m1 0h57m2 0h3m1 0h1m1 0h2m3 0h1m3 0h2M538 82.5h2m1 0h1m8 0h1m1 0h2m4 0h4m4 0h1m4 0h3m1 0h12m1 0h52m1 0h1m1 0h3m3 0h1m1 0h1M517 83.5h1m11 0h1m11 0h1m5 0h1m1 0h1m2 0h1m4 0h1m4 0h5m2 0h4m1 0h5m1 0h24m1 0h24m3 0h2m1 0h4m1 0h3m1 0h1M531 84.5h1m1 0h1m1 0h2m1 0h1m2 0h1m1 0h1m1 0h1m1 0h1m1 0h1m2 0h3m1 0h1m1 0h1m5 0h2m3 0h18m1 0h5m1 0h37m1 0h3m1 0h2m2 0h1m6 0h1m4 0h1m9 0h1M535 85.5h8m1 0h1m1 0h1m7 0h2m1 0h3m2 0h2m1 0h2m1 0h1m1 0h2m1 0h3m1 0h8m1 0h36m1 0h2m1 0h5m4 0h5m2 0h2M524 86.5h1m1 0h1m1 0h1m3 0h2m4 0h2m2 0h7m1 0h1m1 0h1m2 0h2m1 0h1m1 0h1m6 0h9m1 0h45m1 0h4m1 0h4m1 0h3m13 0h1M523 87.5h1m4 0h2m1 0h1m1 0h2m1 0h2m1 0h2m5 0h2m3 0h2m2 0h1m5 0h1m1 0h2m1 0h3m1 0h1m3 0h2m1 0h18m1 0h22m1 0h2m1 0h9m1 0h1m3 0h2m1 0h1m8 0h1M523 88.5h1m1 0h1m2 0h1m4 0h4m1 0h1m1 0h2m1 0h1m2 0h2m1 0h2m1 0h4m2 0h2m3 0h1m2 0h1m1 0h1m3 0h2m1 0h7m1 0h5m1 0h35m2 0h9m4 0h1M521 89.5h1m1 0h3m6 0h1m2 0h3m1 0h4m1 0h3m1 0h3m4 0h3m2 0h1m2 0h1m1 0h2m1 0h1m2 0h2m1 0h3m1 0h44m1 0h4m2 0h3M518 90.5h2m5 0h2m4 0h1m2 0h3m1 0h1m1 0h4m1 0h1m3 0h2m1 0h1m3 0h1m2 0h2m2 0h1m1 0h1m1 0h1m1 0h1m2 0h2m1 0h2m1 0h6m1 0h1m1 0h1m1 0h21m1 0h1m1 0h11m1 0h4m1 0h1m1 0h4m1 0h1M525 91.5h1m1 0h2m3 0h1m1 0h4m1 0h2m2 0h1m1 0h2m1 0h1m1 0h1m1 0h2m1 0h2m3 0h1m1 0h1m3 0h1m4 0h1m1 0h2m3 0h1m2 0h4m1 0h32m1 0h6m6 0h1m1 0h1m5 0h1M522 92.5h1m2 0h1m1 0h2m2 0h1m2 0h3m2 0h1m1 0h1m1 0h1m3 0h1m1 0h1m1 0h1m1 0h1m1 0h3m4 0h1m1 0h2m7 0h2m1 0h1m1 0h1m1 0h1m1 0h4m1 0h3m1 0h25m1 0h1m2 0h3m1 0h1m8 0h2m3 0h1M502 93.5h1m9 0h1m8 0h1m2 0h1m2 0h1m1 0h4m4 0h2m2 0h3m2 0h1m1 0h1m1 0h1m1 0h1m2 0h1m1 0h1m2 0h2m1 0h1m2 0h3m3 0h1m1 0h1m1 0h2m1 0h2m1 0h3m1 0h20m1 0h5m1 0h3m1 0h2m5 0h1M505 94.5h1m17 0h1m3 0h1m1 0h1m1 0h4m1 0h2m1 0h5m1 0h1m2 0h2m2 0h1m1 0h1m3 0h1m1 0h2m1 0h3m1 0h3m2 0h1m1 0h2m4 0h14m1 0h19m1 0h1m1 0h1m4 0h1m12 0h1M501 95.5h1m13 0h1m3 0h2m1 0h5m1 0h13m1 0h1m1 0h2m1 0h2m1 0h1m1 0h2m5 0h5m1 0h1m2 0h1m1 0h1m1 0h3m3 0h3m1 0h1m1 0h19m1 0h8m1 0h1m1 0h1m1 0h1m2 0h1m1 0h1M506 96.5h2m11 0h1m1 0h1m2 0h1m2 0h3m1 0h3m2 0h1m1 0h3m1 0h5m1 0h1m3 0h1m2 0h8m4 0h3m1 0h4m2 0h6m1 0h13m1 0h4m4 0h1m1 0h5m2 0h2m1 0h1m7 0h1M509 97.5h1m2 0h2m4 0h1m1 0h2m1 0h1m1 0h7m1 0h1m1 0h1m2 0h1m3 0h1m2 0h1m3 0h2m2 0h1m3 0h1m1 0h1m1 0h1m1 0h5m2 0h1m3 0h4m1 0h3m1 0h2m2 0h3m1 0h6m1 0h1m1 0h1m3 0h2m3 0h2m1 0h1m4 0h1m9 0h1m1 0h1M503 98.5h1m11 0h1m3 0h1m1 0h3m1 0h1m2 0h3m3 0h5m2 0h3m2 0h1m2 0h2m1 0h3m1 0h4m1 0h1m1 0h3m2 0h9m1 0h1m3 0h2m1 0h21m4 0h2m8 0h1m1 0h1M515 99.5h1m1 0h2m1 0h4m1 0h1m1 0h1m1 0h7m1 0h5m1 0h4m3 0h1m1 0h1m8 0h1m3 0h1m2 0h5m1 0h1m1 0h18m2 0h2m1 0h4m3 0h1m3 0h1m6 0h1M506 100.5h1m8 0h1m5 0h6m1 0h8m2 0h1m3 0h1m1 0h6m2 0h1m3 0h1m4 0h2m3 0h1m3 0h3m1 0h2m5 0h1m3 0h4m1 0h4m1 0h2m1 0h3m8 0h2m6 0h1m1 0h1M509 101.5h2m3 0h1m5 0h2m2 0h7m1 0h4m2 0h3m2 0h2m4 0h1m12 0h2m3 0h1m1 0h1m6 0h1m2 0h7m1 0h1m2 0h1m1 0h5m1 0h1m3 0h3m1 0h1M508 102.5h1m8 0h1m5 0h2m4 0h5m2 0h2m1 0h2m1 0h1m1 0h2m7 0h5m2 0h3m1 0h2m2 0h1m1 0h4m4 0h1m1 0h3m1 0h1m1 0h2m1 0h1m5 0h1m2 0h2m2 0h1M511 103.5h1m4 0h3m2 0h3m1 0h1m1 0h1m1 0h1m1 0h1m1 0h5m4 0h1m2 0h1m1 0h2m2 0h4m13 0h1m9 0h1m5 0h2m3 0h2m4 0h1m1 0h1m3 0h1m4 0h1m8 0h1M507 104.5h1m12 0h8m1 0h1m1 0h3m2 0h2m2 0h2m6 0h2m1 0h1m5 0h2m2 0h1m2 0h1m3 0h5m3 0h1m1 0h1m2 0h2m2 0h2m1 0h1m3 0h1m5 0h1m4 0h1M518 105.5h1m2 0h1m2 0h1m1 0h3m1 0h11m1 0h1m1 0h1m1 0h1m7 0h1m4 0h1m3 0h1m3 0h1m3 0h1m1 0h3m5 0h2m1 0h1m2 0h1m1 0h2m3 0h2m1 0h1m2 0h1m5 0h1M504 106.5h1m13 0h1m2 0h1m3 0h1m1 0h1m1 0h4m1 0h2m1 0h2m3 0h1m2 0h1m1 0h2m2 0h1m15 0h1m5 0h1m3 0h1m2 0h1m1 0h4m15 0h1m3 0h1M500 107.5h1m4 0h1m2 0h1m7 0h2m4 0h2m2 0h9m2 0h1m2 0h1m3 0h1m1 0h1m2 0h1m2 0h1m1 0h1m3 0h1m12 0h1m1 0h2m1 0h1m1 0h1m2 0h1m1 0h1m3 0h1m6 0h1M503 108.5h1m4 0h2m8 0h2m1 0h4m3 0h1m6 0h1m4 0h2m3 0h1m1 0h2m1 0h2m1 0h2m9 0h1m3 0h1m1 0h2m6 0h1m12 0h1M496 109.5h1m13 0h1m1 0h2m6 0h1m1 0h1m2 0h1m1 0h2m3 0h2m8 0h2m1 0h1m3 0h1m10 0h1m13 0h1m3 0h2m3 0h1m2 0h1m3 0h1m1 0h1M510 110.5h2m6 0h1m1 0h1m1 0h1m3 0h1m3 0h2m3 0h2m4 0h1m1 0h1m8 0h1m2 0h2m5 0h2m3 0h1m1 0h1m6 0h1m1 0h1m3 0h2m44 0h1M504 111.5h1m2 0h2m10 0h1m1 0h1m1 0h1m2 0h3m2 0h1m3 0h5m2 0h1m1 0h1m4 0h2m6 0h1m6 0h1m4 0h2m2 0h1m16 0h1M518 112.5h1m1 0h2m3 0h2m1 0h1m5 0h1m4 0h1m2 0h2m2 0h1m4 0h1m25 0h1m29 0h1M503 113.5h1m5 0h1m1 0h1m2 0h2m5 0h2m1 0h1m1 0h1m11 0h1m5 0h1m9 0h1m15 0h1m7 0h1m4 0h1m3 0h1m1 0h1m16 0h1M518 114.5h1m11 0h1m9 0h1m1 0h2m63 0h1M516 115.5h1m2 0h1m14 0h1m8 0h1m3 0h1m1 0h1m1 0h1m24 0h1m1 0h1M503 116.5h1m17 0h1m5 0h1m1 0h1m9 0h1m4 0h1m7 0h1m11 0h1M516 117.5h1m7 0h1m8 0h1m2 0h1m8 0h1m8 0h1m34 0h1M520 118.5h1m1 0h1m7 0h1m26 0h1M535 119.5h1m1 0h1m16 0h1m10 0h1m18 0h1M545 120.5h1M513 121.5h1m7 0h1M540 122.5h1M539 123.5h1M557 124.5h1M548 125.5h1M524 126.5h1m49 0h1M548 127.5h1m8 0h1M562 128.5h1M667 129.5h1M531 130.5h2M494 131.5h1M504 132.5h1M664 134.5h1M666 137.5h1M662 138.5h1M651 139.5h1M545 140.5h1m131 0h1M652 141.5h1m18 0h1M176 142.5h1m1 0h3m60 0h1m401 0h1m17 0h1M172 143.5h5m2 0h4m57 0h1m416 0h1M168 144.5h15m1 0h2m57 0h1m404 0h1m6 0h1M165 145.5h9m1 0h4m1 0h2m2 0h4m54 0h1m20 0h1m383 0h1m10 0h1M161 146.5h15m1 0h11m2 0h1m48 0h2m434 0h1M157 147.5h7m1 0h27m454 0h1M154 148.5h6m1 0h1m1 0h3m1 0h7m1 0h17m48 0h1m418 0h1M153 149.5h2m1 0h1m1 0h6m1 0h3m2 0h1m1 0h17m1 0h1m48 0h2m414 0h1m1 0h1M147 150.5h1m1 0h2m2 0h1m2 0h1m3 0h5m1 0h1m1 0h8m1 0h1m3 0h1m1 0h5m1 0h2m49 0h1m11 0h1m9 0h1m4 0h1m11 0h1m12 0h1m348 0h1m7 0h1m4 0h1m20 0h1M145 151.5h2m1 0h1m1 0h2m1 0h1m1 0h2m1 0h1m5 0h1m1 0h1m1 0h3m3 0h2m2 0h2m2 0h2m1 0h5m49 0h1m9 0h1m5 0h1m10 0h1m9 0h1m1 0h1m4 0h1m2 0h1m8 0h1m346 0h1m7 0h1m8 0h2M146 152.5h1m1 0h1m1 0h1m2 0h6m1 0h1m2 0h1m1 0h1m2 0h1m6 0h1m1 0h1m1 0h2m1 0h2m1 0h3m1 0h1m49 0h1m2 0h1m2 0h1m2 0h1m23 0h1m7 0h1m11 0h1m1 0h1m5 0h1M145 153.5h2m5 0h1m1 0h1m4 0h4m10 0h1m2 0h1m8 0h2m52 0h2m41 0h1m3 0h1m8 0h1m367 0h1M145 154.5h3m2 0h2m1 0h1m2 0h1m2 0h2m7 0h1m6 0h1m1 0h1m1 0h2m2 0h1m1 0h5m50 0h1m27 0h2m2 0h1m3 0h1m13 0h1M148 155.5h2m1 0h1m6 0h1m10 0h1m9 0h1m5 0h3m51 0h2m8 0h1m9 0h1m4 0h2m1 0h1m1 0h2m7 0h2m6 0h1m1 0h1m370 0h2M143 156.5h1m2 0h1m28 0h1m1 0h1m2 0h1m3 0h1m1 0h1m1 0h1m57 0h1m16 0h1m2 0h1m1 0h1m5 0h3m4 0h2m7 0h1m1 0h1m6 0h1m6 0h1M154 157.5h1m16 0h1m9 0h2m1 0h3m1 0h1m51 0h1m16 0h1m4 0h1m19 0h1m1 0h1m2 0h1M147 158.5h1m27 0h1m4 0h4m1 0h1m55 0h2m13 0h1m3 0h3m2 0h1m3 0h1m2 0h1m1 0h1m5 0h1m1 0h1m6 0h2m360 0h1M167 159.5h1m14 0h2m1 0h1m1 0h1m51 0h2m19 0h1m2 0h1m3 0h2m11 0h1M144 160.5h2m4 0h1m29 0h1m1 0h1m1 0h3m72 0h1m4 0h1m25 0h1M170 161.5h1m4 0h2m2 0h1m2 0h1m1 0h1m1 0h1m66 0h1m7 0h1m13 0h2m8 0h1m2 0h1m376 0h1M145 162.5h1m27 0h1m1 0h1m3 0h5m91 0h1m1 0h1M147 163.5h1m4 0h1m1 0h1m2 0h1m10 0h1m5 0h2m3 0h2m1 0h1m2 0h1M147 164.5h1m17 0h1m4 0h1m10 0h1m1 0h1m1 0h1M144 165.5h1m20 0h1m3 0h1m1 0h3m2 0h1m2 0h1m1 0h2M143 166.5h2m7 0h2m7 0h1m1 0h1m3 0h2m2 0h1m3 0h1m7 0h2m89 0h1M154 167.5h1m14 0h2m5 0h1m4 0h1M79 248.5h1m8 0h1m15 0h1M91 249.5h1m14 0h1M50 250.5h1m2 0h1m34 0h1m20 0h1M69 251.5h1m11 0h1m29 0h1M50 252.5h1m6 0h1m1 0h1m9 0h2m1 0h2m3 0h1m1 0h1m3 0h4m1 0h1m1 0h4m5 0h3m1 0h7m1 0h1M46 253.5h1m13 0h2m2 0h3m7 0h8m3 0h1m2 0h13m1 0h2m3 0h1m1 0h1m2 0h2M40 254.5h1m9 0h1m1 0h1m3 0h1m2 0h1m4 0h4m1 0h1m2 0h7m1 0h19m1 0h2m1 0h7m1 0h1m1 0h1M42 255.5h1m3 0h1m3 0h1m3 0h2m1 0h1m1 0h1m1 0h3m1 0h3m1 0h42m1 0h2M44 256.5h1m3 0h2m1 0h2m1 0h1m1 0h1m1 0h3m2 0h51M44 257.5h1m1 0h5m2 0h2m2 0h57M40 258.5h1m2 0h2m1 0h2m2 0h8m1 0h55M42 259.5h1m2 0h69M41 260.5h2m3 0h68M43 261.5h2m1 0h68M41 262.5h6m1 0h66M40 263.5h74M40 264.5h74M40 265.5h2m1 0h6m1 0h64M41 266.5h73M40 267.5h7m1 0h66M40 268.5h4m1 0h69M40 269.5h74M41 270.5h3m1 0h69M40 271.5h2m1 0h71M42 272.5h72M40 273.5h2m2 0h5m1 0h64M40 274.5h1m2 0h1m1 0h69M44 275.5h3m2 0h65M40 276.5h1m4 0h1m1 0h1m2 0h1m2 0h5m1 0h5m1 0h49M42 277.5h2m3 0h3m3 0h1m1 0h1m1 0h2m1 0h6m2 0h46M44 278.5h2m2 0h1m3 0h1m2 0h3m1 0h5m1 0h1m1 0h2m1 0h1m2 0h1m1 0h39M42 279.5h1m2 0h1m2 0h1m1 0h1m2 0h1m1 0h2m1 0h1m3 0h1m1 0h1m1 0h6m1 0h7m1 0h33M41 280.5h1m3 0h1m1 0h3m1 0h1m4 0h2m1 0h3m1 0h2m2 0h2m1 0h1m1 0h4m1 0h2m2 0h3m2 0h28M46 281.5h1m1 0h1m2 0h1m2 0h3m2 0h1m3 0h4m1 0h3m4 0h1m1 0h2m1 0h2m2 0h1m1 0h28M42 282.5h1m1 0h1m1 0h4m2 0h2m2 0h3m2 0h3m2 0h3m1 0h3m1 0h3m3 0h34M41 283.5h1m1 0h1m10 0h1m1 0h1m1 0h1m1 0h1m3 0h1m2 0h2m1 0h1m2 0h1m2 0h9m1 0h28M43 284.5h1m1 0h2m1 0h2m1 0h1m3 0h1m2 0h1m3 0h1m3 0h1m3 0h3m2 0h6m1 0h32M41 285.5h1m1 0h1m4 0h1m2 0h3m2 0h1m3 0h1m5 0h2m1 0h1m1 0h4m2 0h8m2 0h24m1 0h2M41 286.5h1m3 0h1m3 0h3m2 0h2m3 0h1m1 0h1m1 0h1m2 0h2m1 0h1m1 0h5m1 0h3m1 0h2m2 0h26m1 0h2M40 287.5h1m7 0h1m11 0h1m2 0h4m1 0h7m1 0h1m1 0h6m1 0h29M41 288.5h1m7 0h2m1 0h1m1 0h2m1 0h5m1 0h1m2 0h4m2 0h3m1 0h1m1 0h2m1 0h1m3 0h29M40 289.5h2m8 0h1m5 0h1m2 0h4m1 0h1m8 0h1m1 0h1m1 0h1m2 0h2m1 0h4m1 0h26M42 290.5h1m2 0h1m2 0h2m4 0h1m1 0h1m3 0h1m1 0h4m4 0h1m6 0h3m1 0h2m1 0h1m1 0h1m2 0h3m1 0h3m3 0h9m1 0h2m1 0h1M45 291.5h2m1 0h1m3 0h2m1 0h1m1 0h1m1 0h1m3 0h2m1 0h1m3 0h3m1 0h1m3 0h2m2 0h5m2 0h5m2 0h6m1 0h7m1 0h1m1 0h1M46 292.5h1m1 0h1m3 0h2m5 0h1m5 0h1m1 0h2m2 0h2m1 0h1m2 0h5m1 0h1m2 0h7m1 0h2m1 0h13m2 0h2M42 293.5h1m3 0h2m2 0h1m3 0h1m2 0h1m1 0h2m1 0h2m3 0h3m3 0h7m1 0h3m2 0h4m2 0h1m1 0h1m1 0h2m1 0h9m1 0h2m1 0h1M41 294.5h1m3 0h3m1 0h1m1 0h1m2 0h2m1 0h1m7 0h1m2 0h1m4 0h1m1 0h1m1 0h1m1 0h1m1 0h1m1 0h3m1 0h2m2 0h4m1 0h10m1 0h2m1 0h1m2 0h1M42 295.5h1m2 0h2m1 0h1m1 0h1m1 0h2m5 0h1m8 0h1m3 0h1m3 0h3m2 0h2m2 0h1m2 0h1m1 0h2m2 0h7m1 0h1m2 0h2m2 0h1M41 296.5h4m3 0h2m1 0h2m1 0h1m2 0h2m2 0h2m2 0h1m3 0h3m1 0h3m8 0h1m3 0h3m1 0h1m1 0h5m5 0h2m1 0h7M42 297.5h1m6 0h1m2 0h2m3 0h2m3 0h1m2 0h1m1 0h4m1 0h3m1 0h1m1 0h2m2 0h2m1 0h3m1 0h2m2 0h2m2 0h2m2 0h3m1 0h3m4 0h1M47 298.5h1m1 0h1m3 0h1m1 0h1m1 0h1m7 0h1m4 0h1m2 0h1m3 0h1m1 0h2m1 0h1m1 0h1m1 0h1m3 0h1m3 0h2m3 0h1m9 0h1m2 0h2M41 299.5h1m1 0h1m1 0h1m4 0h1m6 0h1m4 0h1m1 0h1m2 0h2m2 0h7m1 0h3m2 0h2m1 0h3m2 0h2m2 0h2m1 0h1m2 0h1m2 0h1m4 0h3M40 300.5h1m4 0h1m1 0h1m7 0h1m2 0h1m1 0h1m2 0h1m1 0h5m3 0h1m1 0h2m1 0h2m4 0h1m1 0h4m1 0h1m2 0h3m2 0h2m3 0h1M47 301.5h1m7 0h1m1 0h2m4 0h1m1 0h3m1 0h1m3 0h1m7 0h1m2 0h3m1 0h1m2 0h1m1 0h1m3 0h5m6 0h1m1 0h1m2 0h1M41 302.5h3m2 0h2m8 0h1m4 0h2m1 0h3m4 0h1m1 0h2m2 0h1m3 0h1m1 0h1m3 0h1m5 0h1m2 0h2m3 0h1m1 0h1m1 0h1m1 0h1m1 0h2m1 0h1M41 303.5h2m7 0h1m1 0h2m4 0h1m2 0h1m2 0h1m2 0h1m3 0h1m3 0h1m1 0h3m1 0h2m1 0h1m5 0h1m1 0h1m3 0h4m1 0h4m3 0h2m1 0h2M43 304.5h1m1 0h1m4 0h1m5 0h1m2 0h2m3 0h1m1 0h2m4 0h1m7 0h1m2 0h2m7 0h4m1 0h4m7 0h1m4 0h1M45 305.5h1m3 0h2m2 0h1m5 0h2m1 0h3m7 0h1m3 0h1m4 0h1m4 0h1m1 0h1m1 0h3m5 0h1m4 0h2m4 0h2M51 306.5h2m2 0h1m9 0h2m1 0h1m3 0h1m4 0h3m1 0h1m2 0h1m3 0h1m2 0h1m2 0h2m9 0h1M52 307.5h1m4 0h3m1 0h1m6 0h1m2 0h2m3 0h1m2 0h2m3 0h2m1 0h1m3 0h1m6 0h1m4 0h1m4 0h2M48 308.5h1m7 0h1m7 0h1m2 0h1m1 0h2m5 0h2m3 0h2m1 0h1m3 0h1m5 0h1m4 0h2m1 0h1m5 0h3M124 435.5h1M128 439.5h2M144 442.5h1M91 443.5h1m2 0h1M89 445.5h1m20 0h1M106 446.5h1m9 0h1m29 0h1M121 447.5h1M129 448.5h1M161 449.5h1M105 451.5h1m5 0h1m22 0h1m8 0h1m1 0h1m2 0h2m1 0h2m3 0h1M132 452.5h1m5 0h1m4 0h1m3 0h1m1 0h1m3 0h1m1 0h3m5 0h1m2 0h1M91 453.5h1m15 0h2m3 0h1m24 0h2m10 0h4m2 0h1m2 0h1m2 0h1m2 0h1M63 454.5h1m44 0h1m4 0h1m17 0h1m2 0h1m2 0h1m2 0h5m1 0h1m1 0h4m1 0h1m2 0h2m5 0h1M46 455.5h1m54 0h1m6 0h1m5 0h1m7 0h1m9 0h1m4 0h1m3 0h1m1 0h1m1 0h1m2 0h2m1 0h1m1 0h1m2 0h1m1 0h1m16 0h1M95 456.5h1m2 0h1m3 0h1m2 0h1m4 0h1m5 0h1m16 0h1m2 0h2m1 0h7m1 0h2m1 0h4m1 0h2m3 0h3M75 457.5h1m4 0h1m12 0h1m6 0h1m4 0h1m3 0h1m5 0h1m1 0h1m9 0h1m3 0h1m2 0h2m1 0h2m1 0h1m1 0h12m3 0h1m1 0h1m2 0h2M76 458.5h1m7 0h1m5 0h1m9 0h3m1 0h1m1 0h1m1 0h1m2 0h2m1 0h2m2 0h1m1 0h2m3 0h1m2 0h1m3 0h3m1 0h1m2 0h2m1 0h11m1 0h1m3 0h2M82 459.5h1m21 0h2m1 0h6m1 0h4m6 0h1m2 0h1m2 0h11m1 0h10m1 0h4m1 0h1m1 0h1m1 0h1M92 460.5h1m5 0h2m1 0h2m1 0h2m3 0h7m2 0h2m4 0h1m2 0h2m1 0h6m1 0h5m1 0h16m1 0h1M67 461.5h2m1 0h1m20 0h1m3 0h22m4 0h1m1 0h1m1 0h4m1 0h17m1 0h3m1 0h2m2 0h3M41 462.5h1m36 0h1m8 0h1m3 0h1m1 0h5m1 0h19m1 0h3m2 0h1m3 0h1m1 0h16m1 0h4m1 0h4m3 0h1M88 463.5h1m2 0h2m1 0h58m1 0h1m2 0h1m7 0h1M63 464.5h1m25 0h1m1 0h2m1 0h49m1 0h5m1 0h3m2 0h1m3 0h1m3 0h1M81 465.5h1m2 0h1m3 0h42m1 0h10m1 0h3m1 0h1m1 0h7M60 466.5h1m24 0h7m1 0h44m1 0h13m16 0h1M82 467.5h2m1 0h65m1 0h1m4 0h1M58 468.5h1m15 0h1m2 0h1m2 0h1m2 0h44m1 0h18m2 0h3m1 0h1M66 469.5h1m9 0h1m1 0h4m1 0h3m1 0h50m1 0h7m1 0h2m1 0h1m6 0h1M79 470.5h1m1 0h2m1 0h58m3 0h1M68 471.5h1m3 0h1m1 0h1m5 0h1m1 0h49m1 0h6m1 0h2m1 0h2M55 472.5h1m18 0h1m3 0h1m1 0h1m1 0h1m1 0h43m2 0h3m1 0h6m6 0h1m1 0h1M61 473.5h1m13 0h2m2 0h47m1 0h1m1 0h2m1 0h6m2 0h1m4 0h1m4 0h1M46 474.5h1m29 0h1m3 0h50m13 0h1m14 0h1M65 475.5h1m6 0h2m2 0h49m1 0h4m21 0h1m30 0h1M65 476.5h1m9 0h56m1 0h2m3 0h1m1 0h1m2 0h1M72 477.5h1m2 0h51m1 0h4m2 0h1m1 0h1m8 0h1M66 478.5h1m7 0h52m3 0h1m1 0h2m22 0h1M59 479.5h2m6 0h1m4 0h2m1 0h52M49 480.5h1m1 0h1m2 0h1m19 0h51m2 0h1m1 0h2m7 0h1m5 0h1M69 481.5h1m1 0h55m1 0h2M71 482.5h1m2 0h1m1 0h53m7 0h1m1 0h1M57 483.5h1m10 0h1m3 0h51m1 0h3m1 0h1M51 484.5h1m20 0h2m1 0h3m1 0h46m1 0h1m2 0h1M68 485.5h2m2 0h52m2 0h1m28 0h1M71 486.5h2m2 0h49m3 0h1M72 487.5h51m4 0h1m9 0h1M46 488.5h1m11 0h1m2 0h1m5 0h1m3 0h1m1 0h3m1 0h44m2 0h1m6 0h1m7 0h1m21 0h1M67 489.5h1m8 0h48m17 0h1M68 490.5h1m3 0h1m1 0h42m1 0h2m2 0h3M61 491.5h1m11 0h2m1 0h43m1 0h1m9 0h1M65 492.5h1m2 0h2m3 0h1m1 0h1m3 0h3m1 0h28m1 0h1m2 0h1m1 0h4M58 493.5h1m15 0h2m1 0h35m1 0h3m11 0h1m19 0h1M73 494.5h1m1 0h5m1 0h29m1 0h1m1 0h1m1 0h2M75 495.5h37m1 0h1m6 0h1M41 496.5h1m35 0h1m1 0h29m1 0h1M58 497.5h1m15 0h1m1 0h1m1 0h1m1 0h1m1 0h1m2 0h18m1 0h3m2 0h1m1 0h2M77 498.5h1m1 0h1m2 0h20m1 0h3m4 0h1m9 0h1m7 0h1M54 499.5h1m18 0h1m8 0h4m1 0h7m2 0h1m1 0h2m2 0h3m36 0h1m13 0h1M85 500.5h3m2 0h2m3 0h1m1 0h1m5 0h1m5 0h1m2 0h1m9 0h1m7 0h1m22 0h1M61 501.5h1m6 0h1m5 0h2m6 0h1m2 0h1m2 0h2m7 0h2m1 0h1m3 0h1m1 0h1m3 0h2m2 0h1m3 0h2m4 0h1m10 0h1M87 502.5h1m6 0h1m7 0h1m9 0h2m13 0h1m21 0h1M85 503.5h1m3 0h1m4 0h1m2 0h1m5 0h1m4 0h1M61 504.5h1m28 0h1m8 0h1m28 0h1m13 0h1m4 0h1M65 505.5h1m2 0h1m10 0h1m3 0h1m7 0h1m10 0h1m19 0h1m16 0h1M70 506.5h1m6 0h1m16 0h1m9 0h1m12 0h1m26 0h1m4 0h1m8 0h2M84 507.5h1m51 0h1m5 0h2m20 0h1M52 508.5h1m8 0h1m41 0h1m20 0h1m11 0h1m2 0h1m8 0h2m6 0h1m2 0h1m7 0h1M72 509.5h1m59 0h1m2 0h3m4 0h1m2 0h1m18 0h1M74 510.5h1m7 0h1m23 0h1m8 0h1m12 0h1m6 0h1m1 0h1m5 0h1m2 0h1m7 0h2m2 0h1m7 0h1m2 0h1m6 0h1M72 511.5h1m5 0h1m44 0h1m11 0h1m4 0h1m6 0h1m4 0h1m11 0h1M108 512.5h1m6 0h1m10 0h1m4 0h1m5 0h1m1 0h1m4 0h1m1 0h2m1 0h1M134 513.5h1m2 0h1m1 0h2m1 0h1m4 0h1m2 0h2m1 0h1m1 0h2m14 0h1m1 0h1m4 0h1m6 0h1M104 514.5h1m4 0h1m21 0h1m1 0h1m4 0h2m3 0h1m2 0h1m1 0h1m1 0h2m1 0h1m3 0h1m3 0h1m4 0h1M113 515.5h1m9 0h1m10 0h1m1 0h5m8 0h1m2 0h2m1 0h1m3 0h1m9 0h1m10 0h1M91 516.5h2m29 0h1m7 0h1m3 0h1m5 0h1m1 0h2m2 0h5m2 0h1m4 0h1M133 517.5h1m2 0h4m2 0h1m2 0h2m1 0h1m1 0h1m4 0h3m2 0h1M131 518.5h1m1 0h1m4 0h2m4 0h1m2 0h1m5 0h2m3 0h1m5 0h1m11 0h1M87 519.5h1m45 0h1m4 0h1m1 0h1m2 0h3m3 0h2m1 0h1m2 0h1m1 0h1m2 0h1m11 0h2M85 520.5h1m13 0h1m20 0h1m3 0h1m8 0h2m1 0h2m1 0h1m3 0h4m1 0h1m2 0h3m1 0h1m2 0h1M127 521.5h1m9 0h1m1 0h1m2 0h1m1 0h2m2 0h1m1 0h1m1 0h1m1 0h1m2 0h1m4 0h1m2 0h1m7 0h1M132 522.5h1m5 0h1m7 0h2m3 0h1m5 0h1m7 0h1M134 523.5h1m9 0h1m1 0h2m8 0h1m3 0h2M62 524.5h1m8 0h1m1 0h1m6 0h1m3 0h1m41 0h1m11 0h2m3 0h1m2 0h3m13 0h2M100 525.5h1m31 0h1m6 0h1m3 0h2m2 0h1m1 0h2M137 526.5h2m2 0h1m8 0h1m1 0h2m4 0h1m4 0h1M117 527.5h1m37 0h1M60 528.5h1m21 0h1m66 0h1m5 0h1m15 0h1M75 529.5h1m68 0h1m7 0h1m4 0h1m26 0h1M73 530.5h1m60 0h1M106 531.5h1m42 0h1M55 532.5h1m10 0h1m10 0h1m24 0h1m30 0h1m26 0h1M56 534.5h1m95 0h1M72 535.5h1m13 0h1M81 536.5h1M122 538.5h1m18 0h1M96 539.5h1M90 546.5h1M90 558.5h1m13 0h1" stroke="#00ccff" stroke-width="1" fill="none"/><path d="M537 33.5h1M542 35.5h1M555 36.5h1M661 37.5h1M642 39.5h1M622 41.5h1M531 44.5h1m27 0h1M619 46.5h1M679 47.5h1M656 53.5h1M566 54.5h1M547 57.5h1m22 0h1M548 58.5h1m39 0h1M526 59.5h1m17 0h1m17 0h2m5 0h1M556 61.5h1m62 0h1M520 62.5h1m36 0h1M564 63.5h1M553 64.5h1M552 65.5h1m5 0h1M552 66.5h2m2 0h1m21 0h1m103 0h1M543 67.5h1M540 68.5h1m27 0h1m1 0h1m15 0h1m41 0h1M564 69.5h1m2 0h1m11 0h1M555 70.5h1m4 0h1m3 0h1M527 71.5h1m25 0h3m9 0h1m15 0h1M537 72.5h1m25 0h1m4 0h1m3 0h1m42 0h1M548 73.5h1m1 0h1m6 0h1m2 0h1m3 0h2m6 0h1m37 0h1m59 0h1M546 74.5h1m5 0h1m11 0h2m10 0h1M523 75.5h1m21 0h2m2 0h1m2 0h1m10 0h1m1 0h1m11 0h1m64 0h1M543 76.5h1m4 0h2m4 0h2m5 0h1m4 0h1m2 0h1m15 0h1M543 77.5h1m1 0h1m2 0h1m2 0h2m3 0h2m7 0h1m5 0h1m1 0h1M542 78.5h1m3 0h1m3 0h2m1 0h1m6 0h1m12 0h1m12 0h1M541 79.5h1m5 0h1m3 0h2m1 0h1m5 0h2m6 0h1M541 80.5h1m2 0h2m2 0h1m1 0h1m2 0h1m2 0h1m1 0h1m5 0h1m2 0h2m3 0h1M545 81.5h1m3 0h1m3 0h4m5 0h1m5 0h2m7 0h1M519 82.5h1m15 0h1m4 0h1m2 0h1m1 0h5m1 0h1m2 0h4m4 0h4m1 0h4m3 0h1m12 0h1M531 83.5h1m11 0h1m1 0h2m1 0h1m1 0h2m1 0h4m1 0h4m5 0h2m4 0h1m5 0h1m24 0h1M539 84.5h1m4 0h1m1 0h1m3 0h1m4 0h1m1 0h1m1 0h5m3 0h2m18 0h1m5 0h1M543 85.5h1m1 0h1m1 0h7m2 0h1m3 0h2m2 0h1m2 0h1m1 0h1m2 0h1m3 0h1m8 0h1m39 0h1M534 86.5h1m14 0h1m1 0h1m1 0h2m2 0h1m1 0h1m1 0h6m9 0h1M538 87.5h1m2 0h4m3 0h3m2 0h2m1 0h5m1 0h1m2 0h1m3 0h1m1 0h3m2 0h1m18 0h1M537 88.5h1m1 0h1m2 0h1m2 0h1m2 0h1m2 0h1m4 0h2m2 0h3m1 0h2m1 0h1m1 0h3m2 0h1m7 0h1m5 0h1M543 89.5h1m3 0h1m3 0h4m3 0h2m1 0h2m1 0h1m2 0h1m1 0h2m2 0h1m3 0h1m65 0h1M529 90.5h1m14 0h1m1 0h3m2 0h1m1 0h3m1 0h2m2 0h2m1 0h1m1 0h1m1 0h1m1 0h2m2 0h1m2 0h1m6 0h1m1 0h1m1 0h1M541 91.5h2m4 0h1m1 0h1m1 0h1m2 0h1m2 0h3m1 0h1m1 0h3m1 0h4m1 0h1m2 0h3m1 0h2m4 0h1m78 0h1m10 0h1M529 92.5h1m2 0h2m6 0h1m1 0h1m1 0h3m1 0h1m1 0h1m1 0h1m1 0h1m3 0h4m1 0h1m2 0h7m2 0h1m1 0h1m1 0h1m1 0h1m4 0h1m3 0h1M534 93.5h1m1 0h1m2 0h2m3 0h2m3 0h1m1 0h1m1 0h2m1 0h1m1 0h2m2 0h1m1 0h2m3 0h3m1 0h1m1 0h1m2 0h1m2 0h1m3 0h1m57 0h1m22 0h1M538 94.5h1m5 0h1m1 0h2m2 0h2m1 0h1m1 0h3m1 0h1m2 0h1m3 0h1m3 0h2m1 0h1m2 0h4M541 95.5h1m1 0h1m2 0h1m2 0h1m1 0h1m2 0h5m5 0h1m1 0h2m1 0h1m1 0h1m3 0h3m3 0h1m1 0h1m30 0h1M537 96.5h1m3 0h1m5 0h1m1 0h3m1 0h2m8 0h4m3 0h1m4 0h2m6 0h1m20 0h1M536 97.5h1m2 0h3m1 0h2m1 0h3m2 0h2m1 0h3m1 0h1m1 0h1m1 0h1m5 0h2m1 0h3m4 0h1m3 0h1m3 0h1M539 98.5h2m3 0h2m1 0h2m2 0h1m3 0h1m4 0h1m1 0h1m3 0h2m9 0h1m1 0h3m2 0h1M536 99.5h1m5 0h1m4 0h3m1 0h1m1 0h8m1 0h3m1 0h2m5 0h1m1 0h1m18 0h1m17 0h2M539 100.5h2m2 0h1m6 0h2m1 0h3m1 0h4m2 0h3m1 0h3m3 0h1m2 0h4m4 0h1M531 101.5h1m5 0h1m3 0h2m2 0h4m1 0h12m2 0h3m1 0h1m1 0h2m1 0h3m1 0h2m70 0h1m26 0h1M516 102.5h1m21 0h1m2 0h1m1 0h1m2 0h7m5 0h2m3 0h1m2 0h2m1 0h1m4 0h4m54 0h1m13 0h1m41 0h1M538 103.5h4m1 0h2m1 0h1m2 0h2m5 0h12m1 0h2m1 0h6m1 0h2m1 0h1m59 0h1m3 0h1M534 104.5h1m3 0h2m2 0h6m2 0h1m1 0h3m1 0h1m2 0h2m1 0h2m1 0h3m5 0h3m1 0h1m2 0h1m2 0h1m10 0h1m39 0h1M541 105.5h1m1 0h1m1 0h1m1 0h7m1 0h4m1 0h3m1 0h3m1 0h3m1 0h1m3 0h3m1 0h1m100 0h1M526 106.5h1m6 0h1m2 0h1m3 0h1m2 0h2m1 0h1m2 0h2m1 0h15m1 0h4m2 0h3m1 0h2m17 0h1m9 0h1m9 0h1M536 107.5h1m2 0h1m2 0h2m1 0h1m1 0h1m2 0h2m1 0h1m1 0h3m1 0h12m1 0h1m2 0h1m1 0h1m1 0h1m2 0h1m5 0h1m86 0h1M527 108.5h1m3 0h1m4 0h2m5 0h2m4 0h1m2 0h1m2 0h5m1 0h2m2 0h3m1 0h1m2 0h1m4 0h1m2 0h1m9 0h1m107 0h1M534 109.5h1m1 0h1m1 0h2m1 0h1m2 0h1m1 0h3m1 0h3m2 0h1m1 0h1m1 0h1m1 0h2m1 0h4m1 0h1m2 0h2m1 0h2m3 0h2m5 0h1m18 0h1m37 0h1M533 110.5h2m3 0h2m2 0h1m2 0h2m1 0h4m2 0h1m3 0h1m1 0h2m2 0h2m2 0h1m2 0h2m7 0h1m6 0h1m49 0h1m1 0h1m40 0h1M532 111.5h1m8 0h1m3 0h1m1 0h2m2 0h6m1 0h6m1 0h1m1 0h2m3 0h1m1 0h1m1 0h1m2 0h1m1 0h1m5 0h1m73 0h1M500 112.5h1m32 0h1m1 0h1m8 0h2m1 0h4m1 0h1m3 0h4m1 0h9m2 0h1m6 0h1m6 0h1m75 0h1M527 113.5h1m7 0h1m4 0h2m1 0h1m1 0h1m1 0h1m1 0h4m2 0h1m1 0h11m3 0h2m3 0h1m5 0h1m17 0h1m36 0h1m10 0h1m1 0h1M537 114.5h1m3 0h1m2 0h3m1 0h2m1 0h3m1 0h6m2 0h4m1 0h2m1 0h2m1 0h2m1 0h1m26 0h1m19 0h1m40 0h1M535 115.5h1m3 0h1m1 0h1m2 0h1m1 0h1m1 0h1m1 0h1m1 0h1m2 0h5m1 0h2m1 0h2m1 0h2m2 0h1m2 0h2m3 0h1m3 0h1m21 0h1m3 0h1M526 116.5h1m6 0h2m3 0h1m1 0h1m1 0h2m1 0h3m2 0h2m1 0h1m1 0h2m1 0h6m1 0h7m1 0h2m20 0h1m2 0h1m2 0h1m30 0h1m29 0h1M537 117.5h1m3 0h1m1 0h1m2 0h1m3 0h2m1 0h1m1 0h4m1 0h8m3 0h2m2 0h5m18 0h1M518 118.5h1m13 0h1m3 0h1m2 0h1m3 0h1m1 0h1m2 0h4m1 0h1m1 0h2m1 0h1m1 0h2m1 0h2m2 0h2m3 0h4m1 0h3m2 0h1m5 0h1m47 0h1m49 0h1m7 0h1M543 119.5h1m3 0h4m1 0h1m2 0h1m2 0h5m1 0h1m3 0h1m1 0h5m1 0h2m1 0h1m25 0h1M538 120.5h1m2 0h2m1 0h1m2 0h3m1 0h2m2 0h3m1 0h2m1 0h2m1 0h2m4 0h1m2 0h3m2 0h1m24 0h1m1 0h1m22 0h1m22 0h1M540 121.5h4m1 0h3m1 0h3m1 0h2m1 0h1m1 0h5m2 0h1m1 0h1m3 0h1m1 0h2m3 0h1m11 0h1M539 122.5h1m6 0h4m1 0h2m1 0h1m1 0h1m2 0h1m1 0h1m1 0h1m1 0h1m1 0h3m1 0h1m2 0h1m12 0h1m25 0h1m12 0h1m9 0h1m37 0h1M541 123.5h1m4 0h6m4 0h1m1 0h1m4 0h2m5 0h2m1 0h2m1 0h1m14 0h1m48 0h1m9 0h1M537 124.5h1m6 0h1m7 0h2m1 0h2m6 0h2m1 0h2m1 0h1m1 0h2m12 0h1m35 0h1m43 0h1m25 0h1M538 125.5h1m2 0h1m3 0h2m4 0h2m2 0h4m1 0h1m1 0h1m3 0h3m3 0h2m8 0h1m7 0h1m99 0h1M521 126.5h1m1 0h1m17 0h1m1 0h1m3 0h1m1 0h1m3 0h1m1 0h1m2 0h1m5 0h1m3 0h1m4 0h1m5 0h1m5 0h1m3 0h1m4 0h1m1 0h1m5 0h1m19 0h1m5 0h1m9 0h1m55 0h1M536 127.5h1m3 0h1m1 0h1m6 0h2m1 0h4m2 0h1m1 0h4m2 0h1m10 0h1m15 0h1m41 0h1M536 128.5h1m8 0h1m4 0h2m1 0h1m1 0h1m2 0h1m1 0h1m10 0h2m7 0h3m3 0h1m4 0h1m9 0h1m2 0h1m6 0h1m19 0h1m12 0h1m43 0h1M542 129.5h1m4 0h1m1 0h1m3 0h1m5 0h1m1 0h1m3 0h1m7 0h2m12 0h1m4 0h1m24 0h1m15 0h1m23 0h1M536 130.5h1m6 0h1m1 0h1m6 0h1m4 0h3m2 0h1m1 0h1m1 0h1m7 0h1m1 0h1m6 0h1m10 0h1m10 0h1m40 0h1M540 131.5h3m3 0h1m2 0h1m2 0h1m2 0h1m2 0h3m1 0h1m2 0h1m4 0h1m4 0h1m23 0h1m24 0h1m6 0h1m47 0h1M532 132.5h2m9 0h2m3 0h1m3 0h1m1 0h1m1 0h1m5 0h1m2 0h1m3 0h1m1 0h2m5 0h1m3 0h1m16 0h1m14 0h1m18 0h1m5 0h1m2 0h2m12 0h2m23 0h1M519 133.5h1m35 0h1m3 0h1m2 0h1m7 0h2m1 0h1m2 0h1m5 0h1m12 0h1m3 0h1m72 0h1M538 134.5h1m1 0h1m6 0h2m5 0h1m5 0h1m11 0h1m13 0h1m7 0h1m44 0h1m6 0h1m10 0h1m35 0h1M533 135.5h1m9 0h1m17 0h1m2 0h1m4 0h1m3 0h1m26 0h2m5 0h1m13 0h1m5 0h1m19 0h1m33 0h1M537 136.5h1m12 0h2m4 0h1m17 0h1m1 0h1m1 0h1m18 0h1m26 0h1m2 0h1m9 0h1m2 0h1m6 0h1m1 0h1m4 0h1m17 0h2m2 0h1m5 0h1M561 137.5h1m9 0h1m3 0h1m15 0h1m16 0h1m8 0h1m13 0h1m1 0h1m3 0h1m6 0h1m2 0h1m10 0h1M554 138.5h1m2 0h1m6 0h1m15 0h1m16 0h1m10 0h1m17 0h1m8 0h1m2 0h1m2 0h1m3 0h1m7 0h2m20 0h2m9 0h1M509 139.5h1m50 0h1m1 0h1m27 0h1m3 0h1m10 0h1m11 0h2m2 0h1m4 0h1m3 0h2m1 0h2m11 0h1m2 0h1m7 0h1m20 0h1M544 140.5h1m49 0h1m9 0h1m20 0h1m3 0h1m4 0h1m3 0h1m1 0h5m10 0h1m45 0h1M542 141.5h1m5 0h1m17 0h1m23 0h1m16 0h2m9 0h1m2 0h1m5 0h1m3 0h1m1 0h4m1 0h1m1 0h2m4 0h1m10 0h1m3 0h1m38 0h1M564 142.5h1m2 0h1m9 0h1m23 0h2m3 0h2m1 0h1m3 0h1m4 0h2m1 0h3m2 0h2m4 0h3m2 0h4m1 0h1m1 0h1m3 0h2m1 0h1m1 0h2m1 0h3m1 0h1m4 0h1m4 0h1m11 0h1M547 143.5h1m2 0h1m3 0h1m34 0h1m1 0h1m4 0h1m3 0h1m13 0h1m1 0h4m1 0h2m1 0h1m1 0h11m2 0h1m1 0h5m12 0h1m1 0h2m3 0h1m3 0h1m7 0h1m3 0h1m12 0h1M563 144.5h1m14 0h1m21 0h1m2 0h1m1 0h1m1 0h2m1 0h1m1 0h2m1 0h2m2 0h3m2 0h3m1 0h8m1 0h1m1 0h5m1 0h3m1 0h3m1 0h1m2 0h1m1 0h1m1 0h2m1 0h1m2 0h1m3 0h1m8 0h1M179 145.5h1m2 0h2m357 0h1m41 0h1m9 0h1m3 0h1m2 0h3m2 0h1m7 0h3m1 0h2m2 0h16m2 0h3m1 0h4m1 0h1m1 0h1m1 0h5m2 0h4m4 0h2m1 0h1M176 146.5h1m11 0h1m347 0h1m11 0h1m49 0h1m2 0h1m1 0h2m1 0h1m1 0h1m2 0h3m1 0h15m1 0h5m1 0h3m1 0h2m1 0h3m1 0h1m1 0h6m3 0h2m1 0h1m27 0h1M164 147.5h1m402 0h2m19 0h1m5 0h1m6 0h2m1 0h1m1 0h1m3 0h3m1 0h3m2 0h7m1 0h1m1 0h2m1 0h10m1 0h1m1 0h1m1 0h2m2 0h3m1 0h1m1 0h3m1 0h2m1 0h4m2 0h1M162 148.5h1m3 0h1m7 0h1m341 0h1m46 0h1m21 0h1m2 0h1m10 0h1m2 0h1m4 0h7m1 0h1m1 0h2m1 0h13m2 0h3m1 0h3m1 0h10m1 0h1m1 0h2m5 0h1m1 0h1m2 0h1m10 0h1M150 149.5h1m1 0h1m4 0h1m6 0h1m3 0h2m1 0h1m402 0h1m20 0h2m4 0h1m2 0h2m3 0h1m1 0h2m1 0h11m1 0h9m1 0h13m1 0h5m1 0h1m2 0h4m1 0h1m3 0h3m1 0h2M154 150.5h2m1 0h3m5 0h1m1 0h1m8 0h1m1 0h3m1 0h1m5 0h1m338 0h1m31 0h1m5 0h1m16 0h1m5 0h1m2 0h3m1 0h3m5 0h1m2 0h1m1 0h3m1 0h3m2 0h3m1 0h3m1 0h5m1 0h8m1 0h1m1 0h1m1 0h5m1 0h1m1 0h2m1 0h1m5 0h2m1 0h4m1 0h2m1 0h2m25 0h1M149 151.5h1m4 0h1m2 0h1m1 0h5m1 0h1m1 0h1m3 0h3m2 0h2m2 0h2m2 0h1m5 0h1m369 0h1m6 0h1m2 0h1m23 0h1m2 0h7m1 0h2m3 0h1m1 0h23m1 0h1m1 0h4m1 0h2m1 0h3m2 0h2m1 0h5m2 0h1m2 0h2m7 0h1m16 0h1M147 152.5h1m3 0h2m6 0h1m1 0h2m1 0h1m1 0h2m2 0h5m1 0h1m1 0h1m2 0h1m2 0h1m3 0h1m374 0h1m15 0h2m3 0h1m2 0h1m4 0h1m1 0h2m1 0h3m1 0h6m1 0h1m4 0h32m1 0h6m1 0h3m1 0h8m2 0h1m2 0h3m14 0h1M147 153.5h5m1 0h1m1 0h4m4 0h10m1 0h2m1 0h8m2 0h3m337 0h1m4 0h1m27 0h2m24 0h1m4 0h6m2 0h4m1 0h1m1 0h2m1 0h1m1 0h22m1 0h5m1 0h22m2 0h1m4 0h1m1 0h1M144 154.5h1m4 0h1m4 0h2m1 0h2m2 0h7m1 0h6m1 0h1m1 0h1m2 0h2m1 0h1m357 0h1m27 0h1m2 0h1m1 0h1m2 0h2m1 0h1m3 0h1m5 0h3m5 0h3m1 0h1m1 0h6m1 0h16m1 0h19m1 0h13m1 0h2m1 0h4m1 0h1m2 0h1m8 0h1m14 0h1M143 155.5h5m2 0h1m1 0h6m1 0h10m1 0h9m1 0h5m3 0h1m307 0h1m54 0h1m10 0h1m11 0h1m13 0h3m4 0h1m1 0h1m2 0h3m1 0h4m1 0h6m1 0h11m1 0h3m1 0h1m1 0h6m1 0h11m1 0h6m2 0h1m7 0h1m1 0h2m3 0h1m3 0h1M144 156.5h2m1 0h28m1 0h1m1 0h2m1 0h3m1 0h1m1 0h1m366 0h2m1 0h1m27 0h1m1 0h1m5 0h3m2 0h2m1 0h3m1 0h20m1 0h27m1 0h3m1 0h7m3 0h2m3 0h2M142 157.5h12m1 0h16m2 0h8m2 0h1m3 0h1m80 0h1m258 0h1m40 0h1m10 0h3m2 0h1m1 0h1m1 0h1m5 0h2m1 0h2m1 0h12m1 0h28m1 0h5m1 0h2m1 0h6m1 0h1m1 0h2m3 0h1m1 0h2m2 0h1m4 0h1m13 0h1M142 158.5h5m1 0h27m1 0h4m4 0h1m1 0h2m116 0h1m227 0h1m30 0h1m16 0h1m1 0h1m1 0h1m1 0h1m2 0h2m1 0h1m2 0h1m1 0h1m1 0h5m1 0h46m1 0h1m1 0h4m1 0h1m1 0h2m1 0h1m1 0h1m2 0h1m1 0h1m1 0h1m1 0h1m8 0h1M142 159.5h3m1 0h21m1 0h14m2 0h1m1 0h1m63 0h2m4 0h1m24 0h1m16 0h1m261 0h1m9 0h1m8 0h1m1 0h1m9 0h1m1 0h3m1 0h16m1 0h27m1 0h6m1 0h1m1 0h3m1 0h2m1 0h5m1 0h3m1 0h2m2 0h1m6 0h1M146 160.5h4m1 0h29m1 0h1m1 0h1m85 0h1m1 0h1m283 0h1m19 0h1m11 0h1m1 0h1m1 0h3m1 0h6m1 0h20m1 0h7m1 0h2m1 0h2m1 0h8m1 0h6m1 0h4m1 0h1m2 0h1m3 0h4m6 0h1M143 161.5h27m1 0h4m2 0h2m1 0h2m3 0h1m93 0h1m273 0h1m2 0h1m14 0h1m12 0h3m1 0h1m2 0h19m1 0h15m1 0h9m1 0h10m1 0h5m1 0h1m1 0h9m2 0h1m1 0h1m4 0h1M143 162.5h1m2 0h17m1 0h9m1 0h1m2 0h1m8 0h1m76 0h1m5 0h1m9 0h1m267 0h2m15 0h1m3 0h1m5 0h1m7 0h1m2 0h1m5 0h1m2 0h1m1 0h3m1 0h15m2 0h38m4 0h2m1 0h2m1 0h1m1 0h4m27 0h1M143 163.5h1m1 0h1m2 0h4m3 0h2m1 0h5m1 0h4m1 0h5m4 0h1m2 0h1m365 0h1m34 0h2m1 0h1m1 0h1m2 0h1m1 0h2m4 0h9m2 0h6m2 0h40m1 0h3m1 0h3m1 0h2m1 0h1M143 164.5h1m4 0h1m1 0h15m1 0h1m1 0h2m1 0h2m1 0h2m1 0h1m63 0h1m308 0h1m38 0h1m2 0h2m1 0h3m1 0h1m1 0h32m1 0h1m1 0h6m1 0h2m1 0h13m2 0h1m3 0h1m1 0h1m4 0h1m11 0h1M143 165.5h1m1 0h4m3 0h2m4 0h1m1 0h3m7 0h1m381 0h1m19 0h1m13 0h1m2 0h1m2 0h2m2 0h3m2 0h12m1 0h11m1 0h11m1 0h5m2 0h1m1 0h3m1 0h1m1 0h2m1 0h2m3 0h1m1 0h1m7 0h2m3 0h1M147 166.5h1m1 0h1m1 0h1m3 0h2m2 0h1m13 0h1m352 0h1m53 0h1m1 0h2m6 0h1m2 0h2m1 0h1m3 0h35m1 0h13m2 0h4m1 0h1m1 0h2m6 0h1m6 0h1M146 167.5h5m2 0h1m4 0h1m5 0h1m1 0h1m406 0h1m7 0h1m2 0h1m6 0h2m1 0h3m1 0h5m1 0h3m1 0h6m1 0h4m1 0h2m1 0h2m1 0h15m1 0h1m1 0h3m1 0h4m2 0h2m3 0h1m5 0h2m3 0h2m1 0h1M559 168.5h1m9 0h1m12 0h2m6 0h1m1 0h4m1 0h3m3 0h2m1 0h1m1 0h6m1 0h1m1 0h5m1 0h6m1 0h7m1 0h3m1 0h7m1 0h1m1 0h1m1 0h1m2 0h1m2 0h1m4 0h1m2 0h1m7 0h1M582 169.5h1m8 0h2m1 0h2m1 0h3m1 0h5m1 0h1m1 0h2m1 0h2m2 0h4m1 0h11m1 0h7m2 0h3m2 0h2m1 0h2m1 0h1m3 0h1m2 0h3m1 0h1m14 0h1m12 0h1M571 170.5h1m22 0h3m2 0h2m1 0h6m3 0h2m1 0h6m1 0h4m1 0h2m1 0h2m1 0h10m1 0h3m1 0h6m5 0h1m4 0h1m6 0h1m5 0h1M573 171.5h1m3 0h1m1 0h2m4 0h1m2 0h1m4 0h2m2 0h2m2 0h3m2 0h2m2 0h1m1 0h1m1 0h1m1 0h15m1 0h8m1 0h1m1 0h2m1 0h1m3 0h2m2 0h1m8 0h1m1 0h1m33 0h1M566 172.5h1m18 0h3m5 0h1m3 0h1m2 0h1m1 0h1m1 0h4m3 0h9m1 0h1m1 0h12m2 0h2m1 0h1m4 0h1m3 0h1m2 0h2m27 0h1m4 0h1m2 0h1M588 173.5h1m3 0h1m10 0h1m1 0h1m1 0h7m1 0h9m2 0h2m2 0h1m2 0h2m4 0h1m1 0h1m2 0h1m1 0h1m1 0h1m1 0h1m3 0h1m5 0h1M561 174.5h1m11 0h1m14 0h1m6 0h1m3 0h1m4 0h1m5 0h5m3 0h5m1 0h1m1 0h3m1 0h1m1 0h2m2 0h3m2 0h2m2 0h1m4 0h1m5 0h1m7 0h1m4 0h1m4 0h1m8 0h1M587 175.5h1m7 0h2m12 0h1m5 0h5m1 0h2m2 0h3m1 0h2m1 0h1m1 0h3m1 0h2m1 0h1m3 0h1m2 0h1m6 0h2m6 0h1m6 0h1m11 0h1m10 0h1M560 176.5h1m35 0h1m1 0h1m2 0h4m1 0h2m2 0h3m3 0h2m1 0h2m7 0h2m2 0h1m3 0h2m6 0h2m2 0h1m1 0h1m3 0h1m9 0h1m7 0h1M585 177.5h1m6 0h1m7 0h2m1 0h1m3 0h1m1 0h2m3 0h1m4 0h2m1 0h3m1 0h2m4 0h1m14 0h2m12 0h1m26 0h1M552 178.5h1m30 0h1m4 0h1m5 0h1m6 0h6m16 0h1m1 0h2m2 0h1m6 0h1m6 0h3m8 0h1m23 0h1M579 179.5h1m26 0h1m5 0h1m1 0h1m1 0h1m13 0h1m8 0h1m14 0h1m8 0h1m9 0h1m9 0h1m7 0h1M544 180.5h1m57 0h1m1 0h1m13 0h1m3 0h2m5 0h1m3 0h1m2 0h1m2 0h1m8 0h1m1 0h1M571 181.5h1m22 0h1m9 0h1m3 0h1m1 0h1m7 0h1m7 0h1m3 0h1m4 0h1m3 0h1M547 182.5h1m27 0h1m7 0h1m8 0h1m5 0h1m16 0h1m6 0h1m5 0h1m55 0h1M558 183.5h1m24 0h1m15 0h1m15 0h1m11 0h1m11 0h1m3 0h1m7 0h1M644 184.5h1M580 185.5h1m9 0h1m38 0h1m32 0h1m7 0h1m20 0h1M583 186.5h1m101 0h1M546 187.5h1m1 0h1m32 0h1m12 0h1m7 0h1m34 0h1m21 0h1m5 0h1M563 188.5h1m8 0h1m22 0h1m6 0h1m27 0h1M575 189.5h1m22 0h1m31 0h1m30 0h1M553 190.5h1m65 0h1m19 0h1m26 0h1m29 0h1M646 191.5h1m8 0h1M566 192.5h1m65 0h1m14 0h1m30 0h1m10 0h1M584 193.5h1m1 0h1M589 194.5h1m39 0h1m19 0h1m2 0h1M577 195.5h1m47 0h1M615 196.5h1M622 197.5h1m38 0h1M560 199.5h1m40 0h1M604 200.5h1m3 0h1M523 201.5h1m89 0h1M586 202.5h1m29 0h1M575 203.5h1m42 0h1M606 206.5h1m4 0h1m5 0h1m45 0h1M587 207.5h1M576 211.5h1M545 214.5h1M589 217.5h1M275 237.5h1M275 238.5h1M285 239.5h1M277 240.5h1M341 241.5h1M284 243.5h1m24 0h1M293 245.5h1M287 248.5h1m4 0h1m6 0h1m14 0h1M277 249.5h2m7 0h1m14 0h1M286 250.5h1m64 0h1M279 251.5h1M242 252.5h1m28 0h1m10 0h1m4 0h1m4 0h1M263 253.5h1m25 0h1m4 0h1m4 0h1m3 0h1m15 0h1M279 254.5h2m9 0h1M273 255.5h1m7 0h1m5 0h1m61 0h1M281 256.5h1m2 0h1m7 0h1m33 0h1M269 257.5h1m5 0h1m4 0h1m6 0h1m2 0h1M262 258.5h1m8 0h2m2 0h1m6 0h1m13 0h1m42 0h1M279 259.5h1m5 0h2m1 0h1m35 0h1m5 0h1M255 260.5h1m12 0h1m9 0h1m1 0h1m7 0h2m1 0h3m32 0h1m9 0h1m4 0h2M251 261.5h1m1 0h1m20 0h2m3 0h1m2 0h1m3 0h1m1 0h1m15 0h1m2 0h1m1 0h1m4 0h1m24 0h1M270 262.5h2m4 0h1m3 0h1m2 0h1m2 0h1m1 0h3m3 0h1m9 0h1m23 0h1m9 0h1M266 263.5h1m1 0h1m7 0h1m3 0h1m5 0h1m5 0h2m7 0h1m1 0h1m42 0h2M264 264.5h1m14 0h1m2 0h1m2 0h3m2 0h2m18 0h1m25 0h1m6 0h1M268 265.5h1m1 0h1m5 0h1m3 0h2m1 0h1m2 0h1m1 0h2M255 266.5h1m13 0h1m5 0h1m1 0h1m1 0h2m7 0h1m2 0h1M265 267.5h1m6 0h1m3 0h1m5 0h1m6 0h1m1 0h1m14 0h1m58 0h1M266 268.5h1m6 0h1m1 0h1m1 0h1m4 0h2m1 0h1m4 0h1m1 0h1m2 0h1m2 0h1m11 0h2m4 0h1m6 0h1m23 0h1M267 269.5h1m9 0h1m3 0h2m1 0h2m5 0h1m3 0h1m4 0h1m3 0h1m9 0h2m7 0h1m3 0h1m4 0h1m14 0h1M271 270.5h4m2 0h1m1 0h3m1 0h1m3 0h1m1 0h2m1 0h1m4 0h1m1 0h1M250 271.5h1m21 0h1m4 0h1m1 0h1m1 0h1m2 0h1m2 0h1m1 0h2m1 0h3m1 0h1m4 0h1m1 0h1m29 0h1M265 272.5h1m5 0h1m1 0h1m4 0h6m1 0h2m1 0h2m1 0h1m1 0h2m1 0h1m3 0h1m1 0h2m1 0h1m4 0h1m14 0h1m1 0h1M268 273.5h2m2 0h3m1 0h1m3 0h2m1 0h2m1 0h7m5 0h1m2 0h1m7 0h1m7 0h1m21 0h1M261 274.5h2m3 0h1m3 0h3m1 0h2m1 0h1m2 0h2m1 0h2m3 0h5m3 0h7m22 0h1m4 0h1m8 0h1M258 275.5h1m11 0h1m3 0h4m2 0h4m2 0h2m1 0h5m4 0h1m4 0h2m19 0h1m4 0h1m19 0h1M268 276.5h1m4 0h1m3 0h3m2 0h2m2 0h2m1 0h4m1 0h1m1 0h1m3 0h1m6 0h1m27 0h1m4 0h1m9 0h1M263 277.5h1m1 0h1m2 0h2m3 0h1m2 0h1m1 0h5m1 0h3m1 0h4m2 0h1m1 0h1m3 0h1m13 0h1m25 0h1m12 0h1M259 278.5h1m5 0h1m4 0h1m2 0h2m1 0h1m1 0h4m1 0h3m1 0h4m3 0h1m1 0h1m1 0h1m2 0h1m1 0h2m5 0h1m14 0h1m2 0h1m7 0h1m7 0h1M262 279.5h1m4 0h1m1 0h1m4 0h1m2 0h4m1 0h6m1 0h1m1 0h3m1 0h2m22 0h1m10 0h1m25 0h1M254 280.5h1m9 0h2m8 0h1m2 0h19m8 0h1m24 0h1m9 0h2m14 0h1M240 281.5h1m14 0h1m5 0h2m1 0h1m6 0h1m3 0h1m1 0h8m1 0h1m1 0h3m1 0h2m4 0h1m8 0h1m7 0h1m19 0h1m12 0h1m7 0h1M266 282.5h2m1 0h1m3 0h2m1 0h2m1 0h3m1 0h3m1 0h1m1 0h2m2 0h2m1 0h2m4 0h2m5 0h1m2 0h1m3 0h1m2 0h1m4 0h1m2 0h1m7 0h1m2 0h1M265 283.5h1m7 0h1m1 0h3m1 0h1m1 0h14m2 0h1m1 0h1m1 0h1m3 0h1m2 0h1m4 0h1m5 0h1m13 0h1M247 284.5h1m15 0h1m5 0h3m1 0h1m1 0h2m1 0h4m2 0h5m1 0h3m1 0h1m12 0h1m6 0h1m6 0h1m22 0h1m17 0h1M257 285.5h1m11 0h2m1 0h2m3 0h5m1 0h3m2 0h3m1 0h2m1 0h2m30 0h1m22 0h1M268 286.5h4m1 0h14m1 0h1m1 0h3m1 0h1m2 0h1m1 0h1m2 0h1m2 0h1m21 0h1m3 0h1m1 0h1m5 0h1m5 0h1m1 0h1m4 0h1m3 0h1m15 0h1M267 287.5h1m1 0h2m3 0h4m1 0h8m1 0h1m1 0h1m1 0h3m1 0h1m3 0h1m2 0h1m27 0h1m19 0h1m8 0h1M261 288.5h1m7 0h1m1 0h1m3 0h1m2 0h2m1 0h4m3 0h1m2 0h2m3 0h1m4 0h1m28 0h1m2 0h1m2 0h1m7 0h1m13 0h1M256 289.5h1m6 0h1m10 0h11m2 0h2m1 0h4m2 0h1m1 0h1m46 0h1m7 0h1M258 290.5h2m6 0h1m1 0h1m1 0h2m1 0h1m2 0h14m1 0h2m5 0h1m1 0h1m15 0h1m2 0h1m7 0h1m6 0h1m17 0h1M256 291.5h1m13 0h3m6 0h7m1 0h6m1 0h1m9 0h1m28 0h1m3 0h1m7 0h1m3 0h1M261 292.5h1m9 0h1m5 0h4m1 0h1m1 0h8m1 0h1m5 0h2m35 0h1m8 0h1m2 0h1m22 0h1M267 293.5h1m4 0h1m1 0h1m1 0h2m1 0h4m1 0h2m1 0h8m2 0h1m1 0h1m2 0h1m2 0h1m7 0h2m2 0h1m11 0h1m2 0h1m1 0h1m1 0h1m1 0h1m3 0h1M259 294.5h1m2 0h1m8 0h1m1 0h1m1 0h2m1 0h6m1 0h1m1 0h4m1 0h2m7 0h1m33 0h1m5 0h1m12 0h1M266 295.5h1m1 0h1m5 0h1m1 0h1m1 0h1m1 0h1m1 0h6m2 0h4m2 0h2m28 0h1m5 0h2M261 296.5h1m5 0h4m1 0h1m1 0h1m2 0h6m1 0h1m1 0h1m1 0h2m1 0h2m1 0h1m3 0h1m3 0h1m6 0h1m21 0h1m1 0h1m4 0h1m3 0h1m2 0h1M264 297.5h1m1 0h1m7 0h3m1 0h1m2 0h1m1 0h9m1 0h3m5 0h1m13 0h1m8 0h1m3 0h1m2 0h1m3 0h1M257 298.5h1m10 0h1m4 0h1m2 0h3m1 0h2m1 0h4m2 0h3m2 0h1m1 0h1m3 0h2m1 0h1m3 0h1m15 0h1m12 0h1m5 0h2M268 299.5h1m2 0h1m3 0h3m1 0h2m1 0h1m2 0h2m1 0h1m2 0h1m1 0h2m1 0h1m36 0h1m7 0h1m14 0h1m22 0h1m1 0h1M266 300.5h1m5 0h1m2 0h2m1 0h1m1 0h1m2 0h1m2 0h1m1 0h1m2 0h1m4 0h1m19 0h1m20 0h1M265 301.5h1m2 0h1m2 0h1m6 0h2m2 0h5m4 0h2m50 0h1m2 0h1m6 0h2M261 302.5h1m1 0h1m5 0h1m8 0h1m1 0h3m1 0h2m1 0h1m1 0h2m9 0h1m16 0h1m27 0h1M263 303.5h1m2 0h1m5 0h1m1 0h1m1 0h1m1 0h1m3 0h1m1 0h2m1 0h1m5 0h2m42 0h1m10 0h1m2 0h1M254 304.5h1m9 0h1m1 0h1m6 0h1m4 0h1m1 0h7m2 0h2m19 0h1m11 0h1m3 0h1m26 0h1m28 0h1M274 305.5h1m2 0h1m1 0h1m1 0h1m1 0h1m32 0h1m7 0h1m11 0h1m7 0h1m3 0h1m4 0h1m19 0h1M242 306.5h1m22 0h1m8 0h1m2 0h1m2 0h1m3 0h1m2 0h1m1 0h1m1 0h1m4 0h1m14 0h1m3 0h1m9 0h1m2 0h1m2 0h1m3 0h1m5 0h1m4 0h1m1 0h1m23 0h1M263 307.5h1m8 0h2m1 0h1m1 0h3m1 0h1m2 0h1m1 0h1m1 0h1m8 0h1m4 0h1m11 0h1m9 0h1m4 0h1m8 0h1m2 0h1m4 0h1m8 0h1m5 0h1m3 0h1M258 308.5h1m10 0h1m4 0h1m8 0h1m2 0h1m4 0h1m28 0h1m9 0h1m2 0h1m9 0h2m1 0h1m4 0h1m11 0h1M84 309.5h2m5 0h4m1 0h4m2 0h6m1 0h6m1 0h2m1 0h5m154 0h1m1 0h1m1 0h1m3 0h1m1 0h1m1 0h1m17 0h1m7 0h2m1 0h1m1 0h1m3 0h1m1 0h1m4 0h1m1 0h1m2 0h2m2 0h2m11 0h1m4 0h1m20 0h1M84 310.5h1m2 0h1m1 0h2m1 0h2m1 0h6m1 0h9m1 0h8m1 0h4m2 0h2m5 0h1m138 0h1m3 0h2m7 0h1m13 0h1m13 0h1m1 0h1m1 0h2m10 0h1m3 0h1m2 0h1m2 0h1m1 0h1m1 0h1m1 0h2m5 0h1m4 0h2m1 0h2M84 311.5h1m1 0h1m1 0h1m1 0h4m3 0h20m1 0h4m1 0h1m8 0h1m2 0h1m133 0h1m1 0h1m3 0h1m21 0h1m1 0h1m10 0h1m6 0h3m4 0h1m5 0h1m3 0h1m3 0h2m1 0h1m2 0h2m12 0h1m6 0h1M86 312.5h1m1 0h7m1 0h15m1 0h4m1 0h1m1 0h2m1 0h4m2 0h1m2 0h1m5 0h1m3 0h1m138 0h1m4 0h2m2 0h1m8 0h1m7 0h1m5 0h1m2 0h1m1 0h1m3 0h1m3 0h2m1 0h2m2 0h5m1 0h1m1 0h1m5 0h1m5 0h3m7 0h1M85 313.5h1m1 0h5m1 0h9m1 0h4m1 0h14m1 0h2m3 0h1m3 0h1m2 0h1m123 0h1m12 0h1m5 0h1m6 0h1m5 0h3m21 0h4m1 0h2m1 0h2m2 0h2m2 0h1m5 0h1m3 0h3m1 0h5m3 0h1m5 0h1m2 0h1m7 0h1M84 314.5h2m1 0h2m2 0h8m1 0h8m1 0h9m1 0h4m1 0h1m3 0h2m4 0h1m134 0h1m3 0h1m3 0h1m9 0h1m7 0h1m3 0h1m11 0h2m1 0h2m1 0h3m2 0h1m2 0h4m1 0h1m2 0h6m1 0h3m1 0h4m3 0h2m6 0h1m1 0h1m1 0h2m1 0h1m5 0h2m10 0h1M87 315.5h19m1 0h13m1 0h6m3 0h1m6 0h1m5 0h1m137 0h1m7 0h1m5 0h1m5 0h1m1 0h1m2 0h1m5 0h1m1 0h1m1 0h6m1 0h9m1 0h1m1 0h2m1 0h2m1 0h2m2 0h2m2 0h5m3 0h3m10 0h2m9 0h1M86 316.5h1m1 0h9m1 0h2m1 0h21m1 0h4m1 0h3m7 0h1m123 0h1m5 0h1m28 0h1m1 0h2m2 0h1m3 0h4m1 0h7m1 0h3m1 0h3m2 0h1m1 0h5m1 0h2m3 0h2m1 0h8m9 0h1m4 0h1M84 317.5h8m1 0h31m3 0h1m1 0h1m136 0h1m10 0h1m6 0h2m1 0h1m3 0h2m9 0h1m2 0h1m4 0h1m1 0h1m2 0h5m1 0h5m1 0h9m1 0h13m2 0h1m1 0h2m3 0h1m3 0h1m1 0h1m7 0h1m2 0h1m2 0h1M84 318.5h4m1 0h14m1 0h16m1 0h6m1 0h1m1 0h1m2 0h1m16 0h1m129 0h1m1 0h1m5 0h1m8 0h2m1 0h1m1 0h4m1 0h1m1 0h1m3 0h3m1 0h3m1 0h7m1 0h1m1 0h8m2 0h3m1 0h6m1 0h4m1 0h3m9 0h1m11 0h1M84 319.5h2m1 0h37m1 0h6m132 0h1m12 0h1m2 0h1m4 0h1m5 0h1m5 0h1m3 0h3m2 0h4m1 0h1m1 0h1m2 0h1m1 0h1m1 0h11m1 0h21m2 0h2m1 0h3m1 0h2m1 0h2m15 0h1M85 320.5h2m2 0h33m1 0h8m2 0h3m2 0h1m111 0h1m19 0h1m5 0h1m5 0h1m8 0h1m3 0h1m4 0h3m1 0h1m1 0h1m1 0h1m2 0h4m1 0h32m1 0h4m1 0h1m1 0h1m2 0h2m1 0h2m10 0h1M84 321.5h1m1 0h36m2 0h3m5 0h1m2 0h1m134 0h1m5 0h1m2 0h1m8 0h1m4 0h1m1 0h1m2 0h1m3 0h2m2 0h3m1 0h13m1 0h6m1 0h9m1 0h1m1 0h6m1 0h3m1 0h1m2 0h1m2 0h3m4 0h2M84 322.5h2m3 0h30m1 0h6m1 0h2m2 0h1m106 0h1m44 0h1m2 0h1m4 0h1m8 0h3m2 0h1m2 0h1m1 0h24m1 0h12m1 0h8m1 0h1m1 0h1m2 0h1m4 0h1M85 323.5h2m1 0h32m1 0h8m2 0h3m138 0h1m16 0h2m5 0h4m4 0h1m1 0h2m1 0h6m2 0h2m1 0h15m1 0h21m4 0h1m3 0h2M85 324.5h11m1 0h23m1 0h6m2 0h2m161 0h1m2 0h1m2 0h2m1 0h2m1 0h1m5 0h1m2 0h3m1 0h17m1 0h11m1 0h9m2 0h2m4 0h2m6 0h1M84 325.5h1m2 0h34m1 0h6m2 0h2m1 0h1m155 0h1m2 0h2m8 0h3m2 0h2m1 0h1m1 0h32m1 0h5m1 0h5m1 0h1m1 0h3m3 0h1m2 0h1m4 0h1m9 0h1M84 326.5h46m1 0h1m127 0h1m10 0h1m3 0h1m3 0h1m2 0h1m1 0h1m7 0h1m1 0h2m3 0h2m1 0h1m1 0h4m1 0h2m1 0h34m2 0h1m1 0h2m1 0h2m1 0h2m4 0h2m2 0h2M84 327.5h2m1 0h39m2 0h3m2 0h1m139 0h1m5 0h1m5 0h1m4 0h1m3 0h3m2 0h1m2 0h3m2 0h20m1 0h12m1 0h1m1 0h11m1 0h1m4 0h1m11 0h1m6 0h1M84 328.5h10m1 0h26m1 0h6m2 0h1m1 0h2m1 0h1m6 0h1m135 0h1m8 0h1m5 0h1m3 0h1m2 0h2m1 0h4m1 0h35m1 0h2m1 0h5m1 0h2m2 0h1m2 0h2m1 0h1m1 0h1m6 0h1m6 0h1m2 0h1M84 329.5h15m1 0h28m1 0h1m142 0h1m2 0h2m1 0h1m2 0h1m7 0h1m1 0h1m1 0h1m4 0h1m7 0h30m1 0h5m2 0h9m1 0h1m1 0h1m1 0h4m3 0h1m9 0h1m8 0h1M86 330.5h2m1 0h34m2 0h1m1 0h3m105 0h1m27 0h1m24 0h1m3 0h2m5 0h1m4 0h1m3 0h5m1 0h14m1 0h6m1 0h15m1 0h2m2 0h1m7 0h1m1 0h1m1 0h1m1 0h1m9 0h1M84 331.5h1m1 0h39m1 0h2m1 0h1m1 0h1m144 0h1m9 0h1m2 0h1m6 0h1m2 0h1m4 0h2m1 0h2m1 0h6m1 0h4m1 0h1m1 0h2m1 0h6m1 0h7m1 0h3m1 0h1m2 0h1m1 0h1m1 0h1m2 0h5m17 0h1M85 332.5h39m1 0h3m1 0h1m1 0h5m113 0h1m24 0h1m12 0h2m2 0h1m2 0h1m4 0h1m2 0h2m2 0h1m1 0h6m1 0h8m1 0h7m2 0h1m1 0h8m1 0h5m3 0h1m4 0h1m19 0h1M84 333.5h5m1 0h2m1 0h41m132 0h1m15 0h1m16 0h1m5 0h1m3 0h1m2 0h1m4 0h2m2 0h1m1 0h4m1 0h6m1 0h2m1 0h9m1 0h2m4 0h3m2 0h2m16 0h1M84 334.5h1m1 0h41m1 0h3m2 0h2m127 0h1m29 0h2m1 0h1m2 0h1m2 0h3m1 0h1m4 0h1m1 0h1m1 0h1m5 0h6m7 0h5m1 0h3m2 0h3M84 335.5h1m2 0h25m1 0h11m1 0h2m1 0h3m3 0h2m99 0h1m22 0h1m24 0h1m12 0h1m7 0h2m2 0h4m2 0h1m1 0h2m5 0h4m3 0h1m3 0h1m1 0h3m1 0h1m2 0h1m7 0h1m1 0h2m1 0h1m1 0h1m14 0h1M84 336.5h3m1 0h29m1 0h4m1 0h3m1 0h2m1 0h2m6 0h1m146 0h1m4 0h1m1 0h2m8 0h2m1 0h2m1 0h1m2 0h3m1 0h1m6 0h1m2 0h3m3 0h3m1 0h2m3 0h1m1 0h2m5 0h2m8 0h1m2 0h1M84 337.5h1m2 0h33m1 0h2m1 0h1m1 0h1m3 0h2m1 0h1m7 0h1m142 0h2m1 0h1m20 0h3m4 0h1m2 0h5m2 0h2m6 0h1m1 0h1m2 0h1m2 0h1m3 0h2m3 0h2m2 0h1m28 0h1M85 338.5h2m1 0h1m1 0h32m3 0h5m2 0h3m13 0h1m109 0h1m15 0h1m13 0h1m13 0h1m5 0h2m4 0h1m2 0h1m1 0h1m4 0h1m6 0h1m1 0h1m5 0h1m3 0h1m4 0h1m2 0h1m2 0h1m8 0h2M86 339.5h2m1 0h42m1 0h1m149 0h1m6 0h1m7 0h1m3 0h2m4 0h2m3 0h1m2 0h3m3 0h3m3 0h7m1 0h1m1 0h1m6 0h1m12 0h1m15 0h1M84 340.5h41m3 0h1m2 0h1m1 0h2m1 0h2m144 0h1m7 0h1m7 0h1m1 0h1m2 0h1m5 0h1m1 0h2m10 0h2m6 0h1m5 0h1m12 0h1m19 0h1M84 341.5h1m2 0h6m1 0h30m1 0h1m1 0h2m1 0h1m4 0h1m4 0h1m151 0h1m1 0h1m10 0h1m4 0h1m13 0h1m1 0h1m3 0h1m7 0h2m9 0h1M84 342.5h1m2 0h42m109 0h1m58 0h1m10 0h1m10 0h1m1 0h1m8 0h1m27 0h1m19 0h1M84 343.5h3m1 0h10m1 0h7m1 0h13m1 0h3m2 0h1m1 0h1m10 0h1m8 0h1m116 0h1m14 0h1m20 0h2m22 0h1m20 0h1m7 0h1m21 0h1M85 344.5h1m2 0h4m1 0h28m1 0h4m1 0h1m1 0h1m1 0h1m1 0h1m134 0h1m29 0h1m1 0h1m11 0h1m11 0h1m6 0h1m14 0h1M85 345.5h32m1 0h9m1 0h2m114 0h1m13 0h1m9 0h1m30 0h1m8 0h1m25 0h2m2 0h1m4 0h2M84 346.5h4m1 0h25m1 0h2m1 0h2m2 0h3m20 0h1m202 0h1m25 0h1M84 347.5h2m3 0h4m1 0h21m1 0h4m1 0h1m1 0h2m4 0h2m9 0h1m137 0h1m59 0h3m1 0h1M85 348.5h1m1 0h15m1 0h16m1 0h5m1 0h1m1 0h1m8 0h1m172 0h1m1 0h1m17 0h1m6 0h1M89 349.5h1m2 0h24m1 0h5m1 0h3m3 0h1m1 0h3m132 0h1m34 0h1m10 0h1M86 350.5h2m1 0h6m1 0h5m1 0h14m1 0h1m1 0h2m1 0h2m1 0h1m17 0h1m121 0h1m18 0h1M84 351.5h2m4 0h2m1 0h7m1 0h1m1 0h12m1 0h2m1 0h1m4 0h3m3 0h1m200 0h1M85 352.5h6m1 0h3m1 0h9m1 0h4m1 0h12m2 0h2m1 0h1m122 0h1m2 0h1m57 0h1m47 0h1M88 353.5h1m2 0h2m2 0h1m1 0h5m1 0h10m1 0h6m2 0h3m1 0h1m1 0h1m190 0h1M87 354.5h1m1 0h3m1 0h4m1 0h13m1 0h3m1 0h1m2 0h2m4 0h3m1 0h1m156 0h1m10 0h1M87 355.5h1m3 0h4m2 0h1m1 0h8m2 0h3m1 0h6m3 0h6m2 0h1m2 0h1m113 0h1m5 0h1M85 356.5h2m2 0h1m3 0h1m1 0h4m2 0h1m2 0h4m2 0h2m1 0h2m1 0h1m1 0h1m4 0h1m8 0h1m136 0h1m9 0h1M87 357.5h2m3 0h2m2 0h1m4 0h3m1 0h8m1 0h1m1 0h5m1 0h2m3 0h1m170 0h1m35 0h1m14 0h1M84 358.5h2m3 0h2m1 0h1m1 0h2m1 0h8m1 0h7m2 0h2m3 0h1m1 0h1m171 0h1M85 359.5h1m1 0h1m1 0h5m4 0h2m1 0h1m1 0h1m1 0h2m1 0h1m1 0h3m1 0h1m3 0h2m1 0h1m1 0h1m8 0h1m1 0h1m99 0h1m62 0h1M88 360.5h1m1 0h2m1 0h2m2 0h5m2 0h1m2 0h1m1 0h1m1 0h1m1 0h1m2 0h5M85 361.5h1m2 0h2m2 0h3m1 0h1m1 0h6m2 0h3m1 0h2m1 0h2m1 0h2m1 0h2m3 0h2m1 0h1M89 362.5h1m1 0h1m2 0h1m2 0h6m1 0h2m2 0h2m1 0h1m2 0h1m1 0h1m3 0h2m9 0h1m107 0h1M87 363.5h1m1 0h2m5 0h5m3 0h1m2 0h1m1 0h1m1 0h1m2 0h1m9 0h1m15 0h1m121 0h1M85 364.5h2m8 0h2m1 0h2m1 0h1m1 0h1m6 0h2m2 0h1m3 0h2m2 0h2m1 0h1m9 0h1M87 365.5h1m4 0h1m3 0h2m1 0h1m1 0h1m4 0h2m6 0h2m1 0h1m1 0h1m4 0h1M85 366.5h1m4 0h1m2 0h3m5 0h1m1 0h1m4 0h1m2 0h1m1 0h1m10 0h1m123 0h1M88 367.5h1m8 0h1m4 0h1m1 0h1m3 0h2m15 0h1m6 0h1m128 0h1" stroke="#669900" stroke-width="1" fill="none"/><path d="M325 160.5h3m1 0h1m1 0h2m1 0h1m1 0h1m1 0h4M317 161.5h3m2 0h2m1 0h4m1 0h2m1 0h4m2 0h1m1 0h1m3 0h1M313 162.5h2m1 0h4m1 0h4m1 0h6m1 0h1m1 0h2m3 0h2m2 0h6M311 163.5h1m2 0h2m1 0h1m1 0h6m1 0h3m2 0h1m1 0h5m1 0h4m3 0h2m1 0h1M310 164.5h1m2 0h1m2 0h1m1 0h1m1 0h3m1 0h13m2 0h6m1 0h3M312 165.5h2m2 0h13m2 0h1m2 0h2m1 0h3m1 0h2m1 0h2M315 166.5h1m1 0h1m1 0h1m1 0h1m1 0h7m1 0h2m1 0h3m1 0h2" stroke="#bcbcbc" stroke-width="1" fill="none"/><path d="M117 245.5h1M112 247.5h1m2 0h1M118 248.5h1m16 0h1M119 249.5h1M111 250.5h1m8 0h1m7 0h1M118 252.5h1m4 0h1m3 0h1M125 254.5h1m4 0h1M119 256.5h1m8 0h1M127 258.5h1M130 259.5h1M114 260.5h1m5 0h1m5 0h1M120 261.5h1M118 262.5h1m2 0h1m1 0h1m2 0h1m2 0h1M124 263.5h1m10 0h1M114 264.5h2m2 0h2m1 0h1M118 265.5h1m2 0h1M115 266.5h2M118 267.5h2m3 0h1m1 0h1m1 0h1M130 268.5h1M120 269.5h1M116 270.5h1m1 0h2m2 0h2m4 0h1m1 0h1M117 271.5h1M119 272.5h1m7 0h1M115 273.5h2m1 0h1M114 274.5h2m24 0h1M114 275.5h2m2 0h2m1 0h1m12 0h1M114 276.5h2m1 0h1m2 0h1m2 0h2m4 0h1m4 0h1M119 277.5h2M117 278.5h1m2 0h1m6 0h1M116 279.5h1m1 0h2M117 280.5h1m1 0h2M114 281.5h1m4 0h1m1 0h1M115 282.5h1M117 283.5h1m6 0h1M115 284.5h1m4 0h1m7 0h1M117 285.5h1M117 286.5h1m4 0h1M116 287.5h1M118 289.5h1m8 0h1M124 290.5h1m16 0h1M122 291.5h1m5 0h1M116 292.5h1m2 0h1m1 0h1M117 293.5h1m1 0h1m1 0h1M66 294.5h1m7 0h1m64 0h1M113 295.5h1m1 0h1m11 0h1M118 296.5h1m14 0h1M77 297.5h1m35 0h1m7 0h1m2 0h1m13 0h1M116 298.5h1m4 0h2m8 0h1m4 0h1M111 301.5h2m14 0h1M67 302.5h1m52 0h1m7 0h1m13 0h1M90 304.5h1m38 0h1m6 0h1M123 305.5h1m9 0h1M116 306.5h1m21 0h1M63 308.5h1M47 310.5h1m30 0h1m1 0h1M75 311.5h1M74 312.5h1M57 313.5h1m23 0h1m1 0h2M51 314.5h1m9 0h1m11 0h1M65 315.5h1m2 0h1m13 0h1M49 317.5h1m12 0h1m14 0h2M48 318.5h1m11 0h1m4 0h1m3 0h1m2 0h2m6 0h1m2 0h1m4 0h1M76 319.5h2m1 0h2m5 0h1M74 320.5h1m1 0h1m1 0h1m1 0h1m1 0h1M47 321.5h2m23 0h1m1 0h2m5 0h2M71 322.5h1m1 0h1m4 0h2M42 323.5h1m11 0h1m9 0h1m6 0h1m4 0h1m5 0h1M50 324.5h1m13 0h2m5 0h1m2 0h2M64 325.5h1m1 0h1m3 0h2m8 0h2M50 326.5h1m14 0h1m6 0h2M73 327.5h1m2 0h1m1 0h3M64 328.5h3m6 0h1m3 0h1m1 0h3m1 0h1M62 329.5h1m7 0h1m2 0h1m3 0h1m1 0h2M41 330.5h1m21 0h1m5 0h1m4 0h1M66 331.5h1m7 0h1m4 0h1M74 332.5h1m2 0h1m4 0h1M50 333.5h1m11 0h1m11 0h1m4 0h1m12 0h1M56 334.5h1m16 0h2m6 0h1M41 335.5h1m34 0h1M42 336.5h1m18 0h1m2 0h1m2 0h1m5 0h1M50 337.5h1m2 0h1m23 0h1M40 338.5h1m22 0h1m11 0h1m5 0h1M45 340.5h2m6 0h1m11 0h1m10 0h1M44 341.5h1m29 0h1m1 0h1M54 343.5h1M51 344.5h1m9 0h1m12 0h1m1 0h1m5 0h1m4 0h1M50 345.5h1m24 0h1m2 0h1m3 0h1M49 346.5h1M55 347.5h1m1 0h1m10 0h1m2 0h1M49 349.5h1m11 0h1m6 0h1m1 0h1m1 0h1M41 352.5h1m11 0h1m6 0h1m15 0h1M40 353.5h1m3 0h1M61 354.5h1M47 355.5h1m3 0h1m36 0h1M80 356.5h1M86 357.5h1M77 358.5h1M65 359.5h1M51 360.5h1m2 0h1M43 361.5h1m34 0h1M67 363.5h1M70 364.5h1" stroke="#707074" stroke-width="1" fill="none"/><path d="M601 34.5h1M532 41.5h1M538 44.5h1M597 54.5h1M581 59.5h1m3 0h1M558 60.5h1M541 61.5h1M565 69.5h1M524 73.5h1M505 78.5h1M511 87.5h1M530 89.5h1M503 90.5h1M635 92.5h1M626 93.5h1M527 95.5h1M526 96.5h1m3 0h1M502 97.5h1m4 0h1M501 98.5h1m5 0h1m3 0h1M508 99.5h1M507 100.5h1M501 101.5h1m159 0h1M496 102.5h1m10 0h1m1 0h1m9 0h1M496 103.5h1m7 0h1m10 0h1m8 0h1m1 0h1m3 0h1M501 104.5h2m9 0h1m2 0h1M497 105.5h1m1 0h1m4 0h1m1 0h1m4 0h2M502 106.5h1m9 0h2m1 0h1m3 0h1m3 0h1m4 0h1M496 107.5h1m18 0h1m8 0h1m128 0h1M506 108.5h1m3 0h1m1 0h1m2 0h1m17 0h1m12 0h1m55 0h1M501 109.5h1m3 0h1m3 0h1m1 0h1m2 0h2m5 0h1m1 0h2m1 0h1m13 0h1m36 0h1m4 0h1M501 110.5h4m1 0h1m1 0h1m15 0h1m7 0h1m7 0h1m66 0h1M503 111.5h1m7 0h1m4 0h3m1 0h1m169 0h1M496 112.5h1m5 0h3m1 0h1m6 0h1m1 0h1m3 0h1m11 0h1m49 0h1M494 113.5h1m2 0h1m3 0h1m2 0h3m5 0h2m6 0h1m4 0h1m6 0h1m3 0h1M498 114.5h1m4 0h5m2 0h1m4 0h1m4 0h5m3 0h2m3 0h1m1 0h1m2 0h1m70 0h1M498 115.5h2m1 0h1m3 0h2m1 0h2m1 0h1m1 0h2m3 0h1m8 0h1m1 0h2m2 0h1m3 0h1m15 0h1m28 0h1m2 0h2M494 116.5h1m2 0h3m5 0h1m1 0h1m1 0h6m3 0h2m10 0h1m4 0h1m21 0h1m48 0h1m1 0h1M502 117.5h1m3 0h1m2 0h4m2 0h1m2 0h3m1 0h1m6 0h2m8 0h2m28 0h1m30 0h1M497 118.5h3m1 0h2m1 0h4m1 0h1m1 0h1m2 0h4m5 0h2m2 0h3m3 0h1m1 0h1m8 0h1m55 0h1M494 119.5h1m3 0h2m5 0h1m2 0h2m3 0h2m2 0h1m1 0h5m1 0h2m1 0h1m1 0h2m1 0h1m10 0h2m53 0h1M499 120.5h1m3 0h1m1 0h2m3 0h1m2 0h3m2 0h2m2 0h1m1 0h1m1 0h1m1 0h1m4 0h2m1 0h1m2 0h2M495 121.5h1m3 0h3m1 0h1m2 0h2m1 0h3m4 0h3m1 0h1m1 0h3m3 0h6m4 0h1M495 122.5h3m1 0h3m1 0h1m1 0h2m1 0h1m1 0h6m2 0h2m1 0h7m1 0h1m2 0h3m1 0h1m1 0h1m2 0h1m74 0h1M494 123.5h1m2 0h1m5 0h1m1 0h3m1 0h1m1 0h7m1 0h1m1 0h4m1 0h4m1 0h1m2 0h1m1 0h2m4 0h2m1 0h1m6 0h1m7 0h1m55 0h1M495 124.5h1m1 0h1m1 0h1m1 0h2m1 0h1m1 0h4m2 0h2m1 0h2m1 0h5m1 0h5m1 0h1m2 0h1m1 0h1m3 0h1m2 0h2m32 0h1m10 0h1M496 125.5h5m2 0h3m1 0h6m1 0h13m2 0h9m1 0h1m2 0h1m1 0h1m2 0h1m5 0h1m16 0h1m3 0h1m4 0h1m27 0h1M494 126.5h2m1 0h7m1 0h1m1 0h3m1 0h4m1 0h5m4 0h3m1 0h4m1 0h3m1 0h1m1 0h1m1 0h1m3 0h1m19 0h1m3 0h1m12 0h1m11 0h1m3 0h1m23 0h1M494 127.5h8m1 0h1m1 0h15m1 0h3m1 0h9m1 0h1m1 0h1m3 0h1m2 0h2m52 0h1m6 0h1M495 128.5h1m1 0h6m3 0h1m1 0h7m1 0h1m1 0h1m1 0h2m1 0h4m2 0h3m1 0h2m7 0h2m3 0h1m40 0h1m16 0h1m10 0h1M496 129.5h3m1 0h5m1 0h9m1 0h2m1 0h3m1 0h4m2 0h5m2 0h1m1 0h1m2 0h1m36 0h1m4 0h1m12 0h1M495 130.5h2m4 0h4m1 0h1m2 0h7m1 0h4m1 0h1m1 0h3m1 0h3m3 0h1m3 0h5m4 0h1m19 0h1m2 0h2m30 0h1m22 0h1m1 0h1m26 0h1M495 131.5h7m1 0h16m1 0h3m1 0h6m1 0h1m2 0h3m1 0h2m7 0h1m5 0h1m49 0h1m22 0h1m8 0h1M494 132.5h1m1 0h2m3 0h1m1 0h1m1 0h26m3 0h2m1 0h1m2 0h1m1 0h1m4 0h1m3 0h1m7 0h1m6 0h2m38 0h1M494 133.5h4m1 0h19m2 0h3m2 0h1m1 0h12m2 0h1m3 0h1m1 0h1m13 0h1m2 0h1m31 0h1m4 0h1m2 0h1m39 0h1M495 134.5h2m1 0h2m1 0h1m1 0h7m1 0h8m2 0h13m1 0h2m2 0h1m1 0h1m2 0h3m19 0h1m26 0h1m28 0h2M494 135.5h4m1 0h24m1 0h9m1 0h3m2 0h4m3 0h1m1 0h1m2 0h1m5 0h1m1 0h1m7 0h2m11 0h1m3 0h1m58 0h1M494 136.5h1m1 0h4m1 0h2m1 0h1m1 0h6m2 0h1m1 0h10m1 0h10m1 0h2m1 0h1m12 0h1m2 0h1m6 0h1m7 0h1M495 137.5h14m1 0h16m1 0h3m1 0h5m1 0h5m4 0h1m1 0h1m2 0h1m1 0h1m14 0h1m7 0h1m4 0h1m36 0h1M494 138.5h2m1 0h1m1 0h3m3 0h5m1 0h2m1 0h8m1 0h10m1 0h1m1 0h6m2 0h2m1 0h3m2 0h1m16 0h1m41 0h1m5 0h1M496 139.5h1m1 0h11m2 0h3m1 0h8m1 0h7m1 0h8m1 0h4m4 0h1m1 0h4m13 0h1m10 0h2m33 0h1M494 140.5h1m1 0h4m1 0h4m1 0h1m1 0h3m1 0h7m1 0h10m1 0h4m2 0h2m3 0h2m2 0h1m3 0h2m2 0h1m3 0h1m12 0h2m15 0h1m10 0h1M496 141.5h1m1 0h5m1 0h4m1 0h12m1 0h1m1 0h14m8 0h1m2 0h2m5 0h2m2 0h2m12 0h1m14 0h1m1 0h1M494 142.5h1m1 0h2m1 0h1m1 0h4m1 0h9m1 0h9m1 0h3m2 0h5m2 0h4m1 0h1m1 0h1m1 0h3m1 0h2m2 0h1m3 0h1m12 0h1m8 0h1m46 0h1M494 143.5h5m2 0h5m1 0h25m1 0h2m2 0h2m1 0h2m2 0h1m19 0h1m82 0h1M496 144.5h15m1 0h5m1 0h7m1 0h10m1 0h4m2 0h2m1 0h1m6 0h1m1 0h1m20 0h1m8 0h1m5 0h2m5 0h1M494 145.5h1m1 0h1m1 0h9m1 0h6m1 0h3m1 0h8m1 0h7m2 0h4m1 0h3m2 0h1m12 0h1m6 0h1m21 0h1m21 0h1M495 146.5h2m1 0h4m1 0h1m1 0h3m1 0h5m1 0h4m1 0h2m3 0h5m1 0h5m2 0h3m1 0h3m1 0h1m5 0h1m1 0h1m9 0h1m24 0h1m7 0h1M494 147.5h1m2 0h1m1 0h19m1 0h12m1 0h6m2 0h2m1 0h5m2 0h2m3 0h1m20 0h1m40 0h1M494 148.5h2m1 0h5m1 0h5m1 0h2m1 0h3m2 0h2m1 0h3m1 0h4m1 0h12m3 0h3m3 0h1m14 0h1m2 0h1m13 0h2m13 0h1M494 149.5h13m1 0h20m1 0h6m1 0h1m1 0h8m1 0h1m1 0h2m3 0h1m11 0h1m8 0h1m6 0h1m4 0h1m10 0h2m82 0h1M494 150.5h3m1 0h14m1 0h7m1 0h2m1 0h3m1 0h1m1 0h4m1 0h11m1 0h4m4 0h1m10 0h1m3 0h1m2 0h1m9 0h1m14 0h1M494 151.5h7m1 0h2m1 0h4m1 0h14m1 0h2m1 0h1m1 0h11m2 0h5m4 0h1m8 0h1m3 0h1m5 0h1m5 0h1m2 0h1m64 0h1M494 152.5h1m1 0h9m2 0h6m1 0h15m1 0h3m1 0h6m2 0h3m1 0h2m5 0h2m1 0h1m5 0h1m26 0h1M494 153.5h3m1 0h19m1 0h2m1 0h6m1 0h4m2 0h2m1 0h4m1 0h8m5 0h1m1 0h1m5 0h1m3 0h1m16 0h1m2 0h1M494 154.5h14m1 0h11m1 0h2m1 0h3m1 0h11m1 0h2m2 0h4m2 0h1m3 0h1m3 0h1m2 0h1m4 0h1m17 0h1m13 0h1m12 0h1m36 0h1M494 155.5h2m1 0h15m1 0h15m1 0h1m1 0h5m1 0h4m2 0h4m1 0h1m1 0h1m2 0h1m2 0h1m7 0h1m5 0h1m4 0h1m3 0h1m83 0h1M494 156.5h1m1 0h17m1 0h8m1 0h3m2 0h1m1 0h8m2 0h1m2 0h5m1 0h1m10 0h1m2 0h1m4 0h1m7 0h1m2 0h1M494 157.5h1m1 0h14m1 0h16m1 0h10m1 0h1m1 0h1m1 0h1m1 0h2m5 0h3m2 0h1m6 0h1m2 0h1m14 0h1m2 0h1m1 0h1m3 0h1m4 0h1M494 158.5h7m1 0h4m1 0h9m1 0h3m1 0h11m1 0h6m1 0h3m1 0h3m4 0h1m2 0h1m5 0h1m5 0h1m37 0h1M494 159.5h1m3 0h19m1 0h6m1 0h6m1 0h4m1 0h1m1 0h4m1 0h3m1 0h1m3 0h1m6 0h1m3 0h1m5 0h1M494 160.5h2m1 0h1m1 0h2m1 0h14m1 0h3m1 0h6m1 0h4m1 0h5m1 0h4m2 0h1m1 0h1m9 0h1m10 0h1m19 0h1M494 161.5h1m1 0h24m1 0h18m1 0h2m1 0h2m1 0h2m7 0h1m22 0h1m1 0h1m55 0h1M495 162.5h4m1 0h3m1 0h32m1 0h2m3 0h2m1 0h1m5 0h2m3 0h2m1 0h1m1 0h1m1 0h1m1 0h1m9 0h1m1 0h1m3 0h1m4 0h1m1 0h1m1 0h1M494 163.5h1m2 0h21m1 0h13m2 0h2m2 0h2m1 0h5m7 0h1m8 0h1m5 0h1m7 0h2m2 0h1m5 0h1M494 164.5h7m1 0h1m1 0h3m1 0h11m1 0h9m1 0h7m1 0h4m1 0h1m1 0h1m1 0h3m4 0h1m2 0h1m9 0h1m18 0h2m2 0h1M494 165.5h10m1 0h10m1 0h12m1 0h5m1 0h9m2 0h1m1 0h1m5 0h1m11 0h2m1 0h1m8 0h1m1 0h2m3 0h1m5 0h1m7 0h2m12 0h1M494 166.5h6m1 0h19m1 0h5m1 0h12m1 0h5m1 0h1m1 0h4m13 0h1m7 0h2m1 0h2m1 0h1m4 0h1m2 0h1m9 0h1m1 0h1M494 167.5h15m1 0h17m1 0h13m1 0h1m1 0h2m2 0h3m2 0h1m3 0h1m2 0h1m15 0h2m2 0h1m1 0h2m1 0h1m2 0h1m4 0h1m9 0h1M494 168.5h7m1 0h6m1 0h19m1 0h3m1 0h3m1 0h4m3 0h6m6 0h1m1 0h1m3 0h2m3 0h1m3 0h1m2 0h1m3 0h1m2 0h1m5 0h2m2 0h1m4 0h1m3 0h1M494 169.5h36m1 0h7m1 0h1m1 0h2m1 0h1m1 0h1m3 0h2m3 0h2m2 0h1m3 0h1m5 0h2m4 0h4m1 0h2m2 0h1m1 0h2m8 0h1m14 0h1m2 0h2m4 0h1M494 170.5h4m2 0h11m1 0h10m2 0h5m1 0h6m1 0h2m1 0h2m1 0h1m3 0h2m1 0h1m2 0h1m4 0h1m3 0h1m3 0h1m5 0h2m3 0h2m8 0h1m2 0h1m34 0h1M495 171.5h6m1 0h2m1 0h5m1 0h1m1 0h7m1 0h16m2 0h1m2 0h2m1 0h1m3 0h2m2 0h1m1 0h1m2 0h3m4 0h1m1 0h1m8 0h1m1 0h1m4 0h1m2 0h2m1 0h2m1 0h1m2 0h2m7 0h1m4 0h1M495 172.5h2m1 0h3m1 0h11m1 0h11m2 0h1m1 0h3m2 0h2m1 0h1m2 0h4m2 0h2m3 0h1m1 0h1m1 0h1m12 0h1m3 0h1m1 0h3m1 0h3m1 0h2m4 0h3m1 0h1m2 0h2m1 0h2m1 0h1m6 0h1m1 0h1m32 0h1M494 173.5h27m2 0h6m1 0h1m1 0h3m2 0h5m1 0h2m1 0h1m2 0h2m2 0h2m3 0h1m1 0h2m2 0h1m1 0h2m1 0h6m5 0h5m4 0h3m2 0h1m3 0h4m4 0h1m7 0h1m9 0h1M494 174.5h5m1 0h1m3 0h8m2 0h8m1 0h1m1 0h3m1 0h4m2 0h3m4 0h6m1 0h1m1 0h2m4 0h1m6 0h1m5 0h1m1 0h1m1 0h2m2 0h3m1 0h6m2 0h1m2 0h2m3 0h1m1 0h1m1 0h2m1 0h1m1 0h2m6 0h1m1 0h1m13 0h1M494 175.5h6m1 0h2m1 0h4m2 0h8m2 0h3m2 0h9m1 0h3m1 0h1m1 0h1m1 0h2m3 0h2m1 0h1m1 0h1m3 0h1m3 0h3m5 0h3m1 0h9m1 0h4m1 0h1m1 0h2m1 0h2m2 0h1m1 0h2m1 0h6m2 0h1m1 0h2m9 0h2m26 0h1M494 176.5h4m2 0h1m2 0h12m1 0h10m3 0h10m1 0h3m1 0h5m4 0h1m3 0h1m4 0h1m2 0h1m2 0h1m2 0h3m1 0h3m3 0h2m2 0h1m3 0h1m1 0h1m1 0h3m1 0h1m1 0h1m5 0h1m2 0h2m4 0h2m2 0h1m3 0h2M497 177.5h1m1 0h4m1 0h3m1 0h12m1 0h6m1 0h9m1 0h1m1 0h3m1 0h3m9 0h2m2 0h2m1 0h2m5 0h2m2 0h1m1 0h2m2 0h5m1 0h6m1 0h1m1 0h5m2 0h1m2 0h2m1 0h1m2 0h2m8 0h1m18 0h1M497 178.5h1m2 0h6m1 0h3m1 0h4m1 0h9m2 0h2m3 0h5m1 0h2m2 0h2m2 0h1m2 0h1m4 0h2m1 0h1m2 0h3m5 0h1m1 0h1m1 0h9m1 0h1m1 0h1m1 0h1m2 0h2m1 0h1m2 0h5m7 0h1m2 0h5m3 0h1m1 0h1m3 0h1m2 0h2M495 179.5h9m1 0h12m1 0h5m1 0h7m2 0h1m1 0h3m1 0h4m11 0h1m4 0h1m1 0h4m1 0h1m1 0h2m1 0h2m1 0h3m1 0h1m1 0h13m1 0h9m1 0h2m1 0h3m1 0h1m1 0h1m4 0h2M495 180.5h10m1 0h3m1 0h18m4 0h3m3 0h5m4 0h2m2 0h1m5 0h1m2 0h1m3 0h1m2 0h4m5 0h6m1 0h18m2 0h1m1 0h4m1 0h2m2 0h2m4 0h2m13 0h1M494 181.5h2m2 0h3m1 0h1m1 0h2m1 0h5m1 0h7m1 0h6m2 0h5m3 0h5m3 0h1m3 0h4m3 0h2m4 0h1m1 0h7m2 0h3m1 0h17m1 0h1m1 0h4m1 0h1m2 0h1m1 0h1m3 0h3m1 0h1m1 0h1m1 0h1m1 0h2M495 182.5h2m1 0h2m1 0h1m1 0h6m1 0h23m3 0h4m2 0h2m1 0h1m7 0h1m1 0h2m3 0h6m1 0h2m2 0h3m2 0h6m2 0h3m2 0h3m1 0h1m2 0h2m1 0h1m1 0h8m1 0h1m1 0h3m1 0h1m6 0h3m1 0h1m2 0h2m9 0h1M494 183.5h2m1 0h3m1 0h12m1 0h2m2 0h8m2 0h10m2 0h1m2 0h1m7 0h1m2 0h1m1 0h2m2 0h2m2 0h2m1 0h3m1 0h2m1 0h3m1 0h1m1 0h3m1 0h4m1 0h2m1 0h4m1 0h2m1 0h8m1 0h1m2 0h3m3 0h1m1 0h1m1 0h2m10 0h1m11 0h1m1 0h1M495 184.5h6m2 0h2m2 0h2m1 0h2m1 0h8m1 0h8m1 0h2m1 0h3m1 0h2m3 0h1m4 0h1m4 0h1m1 0h2m1 0h1m1 0h4m1 0h7m1 0h1m1 0h2m1 0h4m1 0h8m2 0h2m1 0h4m1 0h9m1 0h3m2 0h2m1 0h1m2 0h3m7 0h1m14 0h1m37 0h1M496 185.5h3m4 0h5m1 0h2m1 0h6m1 0h3m1 0h1m3 0h2m1 0h5m1 0h1m2 0h3m1 0h2m3 0h1m3 0h1m1 0h1m1 0h1m1 0h3m1 0h2m1 0h1m1 0h3m1 0h5m1 0h3m1 0h1m1 0h3m1 0h3m1 0h8m1 0h3m1 0h11m1 0h1m2 0h4m2 0h1m2 0h1m1 0h1M495 186.5h3m1 0h3m1 0h2m1 0h6m1 0h4m1 0h6m1 0h8m1 0h5m1 0h1m1 0h1m8 0h1m2 0h1m3 0h7m4 0h2m1 0h11m1 0h3m1 0h1m1 0h27m2 0h1m12 0h2M494 187.5h1m1 0h2m1 0h1m2 0h3m1 0h1m2 0h6m1 0h5m3 0h3m1 0h5m1 0h2m3 0h2m1 0h2m1 0h1m1 0h1m1 0h1m3 0h1m1 0h1m1 0h2m3 0h6m1 0h1m2 0h9m1 0h9m1 0h1m2 0h7m1 0h12m1 0h7m1 0h1m3 0h1m10 0h1m3 0h1M494 188.5h2m1 0h1m1 0h9m1 0h12m1 0h6m1 0h1m1 0h2m1 0h2m1 0h10m6 0h2m2 0h2m2 0h1m2 0h8m1 0h4m1 0h12m1 0h4m1 0h1m1 0h4m1 0h2m1 0h5m1 0h1m1 0h2m1 0h2m1 0h2m1 0h1m1 0h1m1 0h1m5 0h1M494 189.5h2m1 0h8m2 0h2m1 0h2m2 0h15m1 0h5m1 0h1m1 0h1m6 0h1m2 0h1m1 0h4m3 0h1m2 0h6m1 0h8m1 0h3m1 0h17m2 0h7m1 0h1m1 0h3m1 0h1m1 0h7m1 0h2m2 0h1m3 0h3M495 190.5h1m1 0h1m1 0h6m1 0h4m1 0h8m1 0h8m1 0h1m1 0h1m1 0h3m1 0h2m2 0h1m9 0h1m2 0h1m1 0h6m2 0h10m1 0h5m1 0h2m1 0h8m1 0h22m2 0h1m2 0h3m2 0h4m1 0h2m2 0h1m11 0h1M495 191.5h1m1 0h2m1 0h2m1 0h1m2 0h13m1 0h17m1 0h4m1 0h1m1 0h1m1 0h1m3 0h2m3 0h2m2 0h1m1 0h9m1 0h2m1 0h9m1 0h13m1 0h2m1 0h2m1 0h21m1 0h2m1 0h2m1 0h1M494 192.5h1m3 0h3m1 0h3m1 0h3m1 0h2m1 0h10m2 0h1m1 0h2m2 0h1m1 0h3m1 0h4m6 0h1m2 0h1m1 0h1m1 0h4m2 0h1m1 0h4m1 0h5m1 0h36m1 0h2m2 0h1m1 0h7m5 0h4m8 0h1M494 193.5h3m1 0h1m2 0h3m1 0h8m1 0h1m1 0h5m1 0h1m1 0h2m2 0h1m1 0h6m3 0h3m6 0h1m3 0h1m1 0h1m1 0h3m1 0h1m1 0h1m1 0h12m1 0h7m1 0h1m1 0h21m1 0h3m1 0h11m3 0h1m1 0h1m6 0h1m1 0h1m1 0h2M497 194.5h2m1 0h1m1 0h2m1 0h3m1 0h5m1 0h6m1 0h2m1 0h1m1 0h3m1 0h2m2 0h1m2 0h2m5 0h1m8 0h1m1 0h2m2 0h1m1 0h2m1 0h24m1 0h8m1 0h20m1 0h7m1 0h1m1 0h2m1 0h1m1 0h2m3 0h1M494 195.5h1m2 0h8m1 0h2m3 0h2m1 0h1m1 0h4m3 0h1m1 0h2m2 0h7m4 0h1m8 0h1m1 0h1m2 0h1m2 0h4m1 0h2m1 0h12m1 0h2m1 0h29m1 0h8m1 0h2m1 0h1m2 0h2m3 0h1m8 0h1m5 0h1m23 0h1M495 196.5h1m2 0h1m1 0h1m2 0h3m1 0h6m1 0h4m1 0h1m1 0h1m1 0h5m2 0h2m1 0h3m2 0h1m5 0h1m1 0h1m3 0h1m2 0h6m1 0h3m1 0h11m1 0h1m1 0h11m1 0h25m1 0h7m2 0h1m6 0h1m3 0h3m3 0h1m2 0h1m19 0h1M496 197.5h1m2 0h1m2 0h1m1 0h1m1 0h3m1 0h1m2 0h5m1 0h2m1 0h10m2 0h4m2 0h3m5 0h1m2 0h1m1 0h1m2 0h6m1 0h23m1 0h11m1 0h8m1 0h11m1 0h1m2 0h5m2 0h1M496 198.5h3m1 0h1m1 0h3m4 0h4m1 0h2m2 0h2m1 0h1m1 0h2m5 0h8m1 0h3m2 0h2m1 0h1m2 0h2m1 0h1m2 0h3m3 0h1m2 0h3m1 0h1m1 0h51m3 0h2m2 0h3m2 0h1m4 0h1M494 199.5h1m2 0h3m2 0h1m1 0h1m1 0h3m4 0h6m2 0h2m1 0h7m1 0h5m6 0h2m1 0h1m3 0h3m2 0h3m1 0h1m2 0h1m1 0h12m1 0h16m1 0h7m2 0h4m1 0h6m1 0h1m1 0h2m1 0h6m1 0h2m9 0h1m3 0h1M495 200.5h2m1 0h4m4 0h4m2 0h1m2 0h4m1 0h5m1 0h1m1 0h3m1 0h1m2 0h2m1 0h1m4 0h2m6 0h1m1 0h2m1 0h1m2 0h4m3 0h4m2 0h32m1 0h3m1 0h9m1 0h5m1 0h4m3 0h1m1 0h1m15 0h1m4 0h1M494 201.5h1m1 0h1m2 0h3m2 0h1m1 0h4m2 0h1m1 0h4m1 0h3m2 0h1m3 0h1m2 0h1m1 0h1m2 0h1m3 0h2m4 0h1m1 0h1m6 0h2m1 0h10m1 0h5m1 0h12m1 0h2m1 0h2m1 0h6m1 0h3m1 0h5m1 0h2m1 0h2m3 0h2m1 0h1m3 0h1m2 0h3m3 0h1m3 0h1m10 0h1M496 202.5h1m1 0h1m2 0h4m2 0h2m3 0h4m2 0h1m1 0h1m4 0h1m3 0h1m2 0h1m2 0h1m1 0h2m3 0h2m2 0h1m2 0h2m2 0h2m1 0h1m3 0h3m1 0h10m1 0h2m1 0h2m1 0h5m1 0h2m1 0h5m1 0h11m1 0h8m1 0h2m3 0h3m1 0h2m1 0h1m5 0h1m1 0h1M494 203.5h1m1 0h2m4 0h1m2 0h1m2 0h1m1 0h7m2 0h1m1 0h1m1 0h1m1 0h3m2 0h5m2 0h2m1 0h1m7 0h1m4 0h5m1 0h4m2 0h1m1 0h5m2 0h1m1 0h38m1 0h3m1 0h2m1 0h2m2 0h3m1 0h2m3 0h1m5 0h1m10 0h1M494 204.5h2m3 0h2m5 0h5m2 0h1m2 0h1m1 0h2m3 0h1m2 0h4m1 0h2m1 0h2m2 0h1m3 0h1m3 0h6m3 0h2m1 0h2m3 0h3m1 0h1m1 0h2m1 0h2m1 0h17m1 0h1m1 0h14m1 0h6m1 0h3m1 0h2m1 0h1m1 0h1m1 0h1m2 0h1m3 0h1m3 0h1M496 205.5h2m4 0h3m3 0h2m2 0h2m1 0h1m1 0h2m1 0h1m2 0h1m4 0h1m1 0h1m1 0h2m6 0h1m1 0h3m2 0h2m2 0h1m5 0h4m1 0h4m1 0h2m1 0h5m1 0h10m1 0h1m1 0h22m1 0h2m1 0h1m1 0h6m2 0h3m2 0h1m2 0h1M494 206.5h1m2 0h1m2 0h3m2 0h1m4 0h1m3 0h3m4 0h1m1 0h6m4 0h1m7 0h1m5 0h2m4 0h2m3 0h6m1 0h13m1 0h7m1 0h19m1 0h2m1 0h1m1 0h3m1 0h1m1 0h1m1 0h1m2 0h2m1 0h3m1 0h1m3 0h1m1 0h1m1 0h1M494 207.5h1m3 0h3m2 0h1m1 0h4m1 0h1m2 0h3m2 0h3m1 0h2m2 0h3m2 0h3m1 0h3m3 0h1m4 0h1m5 0h1m2 0h6m1 0h4m1 0h4m1 0h2m1 0h9m1 0h2m1 0h28m1 0h1m1 0h1m1 0h5m2 0h2m5 0h3m5 0h1M496 208.5h1m1 0h2m4 0h3m1 0h3m1 0h1m2 0h1m1 0h1m1 0h1m2 0h1m4 0h2m2 0h2m2 0h4m2 0h1m4 0h1m1 0h1m1 0h1m1 0h1m4 0h1m1 0h1m1 0h4m1 0h17m1 0h2m1 0h5m1 0h1m1 0h18m1 0h5m1 0h1m2 0h2m1 0h2m1 0h1m16 0h1m18 0h1M496 209.5h1m2 0h2m5 0h1m3 0h1m4 0h6m1 0h1m3 0h1m1 0h1m2 0h4m1 0h2m1 0h3m2 0h1m2 0h1m1 0h1m1 0h2m2 0h5m1 0h1m1 0h6m1 0h11m1 0h5m1 0h8m1 0h21m1 0h2m1 0h2m2 0h1m1 0h1m19 0h1M495 210.5h2m1 0h2m6 0h2m1 0h2m1 0h2m1 0h2m2 0h5m1 0h1m2 0h1m1 0h1m2 0h1m2 0h1m2 0h1m1 0h2m1 0h2m2 0h1m1 0h2m1 0h3m2 0h1m1 0h1m1 0h1m1 0h20m1 0h10m1 0h3m2 0h9m1 0h7m2 0h1m1 0h7m1 0h1m2 0h1M495 211.5h1m1 0h1m1 0h3m3 0h1m2 0h1m2 0h1m4 0h3m1 0h1m1 0h1m1 0h1m3 0h2m1 0h1m8 0h2m13 0h4m1 0h6m1 0h9m1 0h6m1 0h30m1 0h3m1 0h1m4 0h2m1 0h4m1 0h2m4 0h1m1 0h1M496 212.5h2m2 0h1m1 0h2m1 0h3m1 0h1m1 0h1m2 0h3m1 0h3m1 0h2m1 0h1m1 0h2m1 0h1m1 0h1m2 0h3m2 0h1m6 0h1m3 0h2m1 0h1m1 0h1m2 0h3m1 0h1m1 0h2m2 0h5m1 0h11m1 0h27m1 0h8m1 0h2m3 0h1m3 0h1m2 0h2m1 0h1M494 213.5h3m4 0h2m5 0h2m1 0h4m1 0h1m2 0h1m3 0h3m1 0h4m2 0h2m2 0h1m2 0h1m1 0h1m2 0h2m2 0h1m1 0h1m4 0h1m2 0h1m1 0h12m1 0h22m1 0h1m1 0h2m2 0h1m1 0h3m1 0h1m1 0h4m1 0h3m2 0h3m1 0h2m1 0h1m1 0h1m1 0h1M497 214.5h2m4 0h3m1 0h2m1 0h1m1 0h2m5 0h7m1 0h1m2 0h3m5 0h1m1 0h2m8 0h1m1 0h2m1 0h5m1 0h2m1 0h2m1 0h7m1 0h6m1 0h23m1 0h8m2 0h2m1 0h9m2 0h1m12 0h1M495 215.5h1m5 0h1m2 0h1m2 0h2m1 0h1m1 0h1m2 0h1m1 0h2m1 0h2m6 0h2m1 0h2m4 0h1m2 0h2m1 0h1m2 0h1m1 0h1m1 0h2m5 0h1m3 0h5m1 0h13m1 0h28m2 0h3m1 0h1m3 0h3m1 0h1m1 0h1m1 0h1m13 0h1M494 216.5h1m2 0h1m1 0h2m1 0h1m3 0h1m3 0h2m3 0h3m6 0h2m3 0h2m1 0h1m6 0h1m1 0h1m2 0h1m10 0h1m3 0h1m2 0h1m1 0h1m3 0h13m1 0h2m1 0h32m1 0h1m1 0h7m3 0h2m2 0h1m3 0h1M496 217.5h4m1 0h1m2 0h3m1 0h1m3 0h1m2 0h1m1 0h1m7 0h1m9 0h1m2 0h2m4 0h2m3 0h1m1 0h1m5 0h2m1 0h2m5 0h4m2 0h2m1 0h4m3 0h4m1 0h1m1 0h2m1 0h14m1 0h4m1 0h4m2 0h1m2 0h1m1 0h2m1 0h2m1 0h2m11 0h1m1 0h1M495 218.5h1m4 0h1m7 0h2m5 0h1m2 0h2m5 0h1m1 0h1m1 0h1m7 0h1m5 0h1m2 0h1m10 0h1m1 0h6m1 0h7m2 0h13m1 0h1m1 0h1m1 0h1m1 0h11m1 0h4m1 0h1m1 0h1m1 0h1m2 0h2m1 0h4m5 0h1m1 0h1m1 0h1m1 0h1m1 0h1M272 441.5h1M259 445.5h1M265 449.5h1m104 0h1M289 452.5h1M294 458.5h1M268 459.5h1M341 460.5h1M267 463.5h1m50 0h1M248 464.5h1m44 0h1m34 0h1M269 465.5h1m23 0h1M294 467.5h1M322 469.5h1m2 0h1m5 0h1M290 470.5h1M261 471.5h1m43 0h1m49 0h1M250 472.5h1m76 0h1M271 473.5h1m16 0h1m30 0h1M252 474.5h1m51 0h1M353 475.5h1M278 476.5h1m11 0h1M246 477.5h1M238 478.5h1m54 0h1M292 479.5h1M281 480.5h1m15 0h1m44 0h1M338 481.5h1M248 482.5h1m30 0h1m5 0h1M265 483.5h1m79 0h1M279 484.5h1m5 0h1m18 0h1m4 0h1M246 485.5h1m7 0h1m5 0h1m5 0h1m7 0h1m61 0h1M278 486.5h1m6 0h1m31 0h1m19 0h1M260 487.5h1m5 0h2m21 0h1m29 0h1M263 488.5h2m4 0h2m6 0h1m2 0h1m5 0h1m49 0h1M242 489.5h1m10 0h2m12 0h1m2 0h3m10 0h1M245 490.5h1m3 0h1m8 0h1m3 0h2m3 0h1m1 0h1m3 0h2m4 0h1m3 0h1m2 0h1m3 0h1m20 0h1m2 0h1m10 0h1M240 491.5h1m8 0h2m2 0h2m3 0h1m4 0h2m1 0h1m2 0h1m2 0h3m3 0h1m5 0h1m19 0h1M260 492.5h3m1 0h1m1 0h1m4 0h1m3 0h1m5 0h2m3 0h1m9 0h1m20 0h1M245 493.5h1m7 0h2m3 0h1m1 0h1m1 0h1m1 0h2m1 0h1m4 0h1m1 0h1m2 0h1m2 0h1m1 0h1m1 0h1m23 0h1M248 494.5h4m2 0h2m1 0h1m3 0h3m1 0h2m5 0h1m2 0h2m12 0h1m15 0h1M241 495.5h1m9 0h2m3 0h1m1 0h13m5 0h1m1 0h1m3 0h1m101 0h1M248 496.5h1m3 0h1m1 0h3m1 0h2m1 0h1m1 0h4m1 0h1m1 0h3m1 0h1m1 0h1m1 0h1m2 0h2m2 0h1m8 0h1m5 0h1m22 0h1M244 497.5h1m10 0h1m1 0h13m1 0h3m1 0h8m5 0h1m8 0h1m3 0h1m1 0h1m4 0h1M244 498.5h2m1 0h1m2 0h1m4 0h2m1 0h12m1 0h8m2 0h2m1 0h1m2 0h1m3 0h1m4 0h1m27 0h1M239 499.5h1m7 0h2m3 0h1m1 0h13m1 0h1m1 0h3m1 0h3m1 0h1m1 0h2m2 0h1m3 0h1m5 0h2m4 0h1m13 0h1m9 0h1M243 500.5h3m1 0h2m2 0h1m1 0h1m1 0h13m1 0h8m1 0h3m1 0h2m2 0h1m1 0h1m9 0h1m17 0h1m27 0h1M238 501.5h2m7 0h3m1 0h2m1 0h19m1 0h6m1 0h4m5 0h1m2 0h1m6 0h1m11 0h1M242 502.5h1m1 0h1m1 0h3m1 0h5m1 0h18m2 0h5m1 0h1m3 0h1m1 0h1m3 0h1m5 0h1m44 0h1M240 503.5h1m3 0h3m3 0h2m1 0h11m1 0h22m1 0h2m5 0h1m7 0h1m10 0h1m23 0h1m1 0h1M239 504.5h2m2 0h5m1 0h23m1 0h1m1 0h1m1 0h2m1 0h1m2 0h4m1 0h1m9 0h1m6 0h1m2 0h1m12 0h1M239 505.5h4m2 0h2m2 0h4m1 0h31m1 0h1m1 0h2m1 0h5m1 0h1M239 506.5h2m2 0h44m2 0h1m3 0h2m4 0h1m3 0h1m1 0h1M243 507.5h2m1 0h1m1 0h2m2 0h2m1 0h12m1 0h16m1 0h4m1 0h5m34 0h1m23 0h1M243 508.5h12m1 0h33m3 0h1m1 0h1m1 0h1m10 0h1m16 0h1M239 509.5h1m2 0h1m1 0h1m1 0h4m1 0h42m2 0h2M239 510.5h1m1 0h2m1 0h39m1 0h8m2 0h3m5 0h1m2 0h1M240 511.5h1m2 0h4m1 0h25m1 0h18m3 0h1m1 0h1m29 0h1m3 0h1m15 0h1M243 512.5h44m1 0h2m1 0h3m6 0h1m42 0h1M239 513.5h1m1 0h4m1 0h12m1 0h27m1 0h6m1 0h2m1 0h1m6 0h1m1 0h2M239 514.5h2m1 0h2m1 0h12m1 0h25m1 0h3m2 0h8m2 0h1m16 0h1m5 0h1M238 515.5h8m2 0h43m1 0h2m1 0h3m10 0h2m31 0h1M238 516.5h1m1 0h56m1 0h1m4 0h1M238 517.5h1m1 0h1m2 0h44m1 0h8m16 0h1M238 518.5h1m1 0h2m1 0h45m1 0h3m1 0h1m6 0h1m2 0h1m1 0h1m48 0h1M238 519.5h5m1 0h47m6 0h1m1 0h2m3 0h2m16 0h1m11 0h1M244 520.5h45m1 0h4m1 0h1m1 0h3m1 0h2m8 0h1m1 0h1m6 0h1m1 0h1m6 0h1M238 521.5h2m1 0h29m1 0h1m1 0h19m1 0h4m1 0h2m1 0h1m1 0h2m2 0h1m1 0h1m33 0h1M240 522.5h40m1 0h2m1 0h3m2 0h1m2 0h2m1 0h1m2 0h1m1 0h1m19 0h1m40 0h1M238 523.5h1m1 0h1m2 0h2m1 0h46m1 0h4m3 0h2m16 0h1m5 0h1m14 0h1M239 524.5h53m1 0h2m7 0h2m2 0h1m1 0h1m2 0h1m11 0h1m9 0h1m16 0h1M238 525.5h2m1 0h7m1 0h33m1 0h9m1 0h1m1 0h3m1 0h1m2 0h1m2 0h1m3 0h1m2 0h2m1 0h1m1 0h2m6 0h1m8 0h1m1 0h1m7 0h1M239 526.5h6m1 0h3m1 0h39m1 0h6m4 0h1m1 0h1m10 0h1m4 0h1m2 0h1m17 0h1M241 527.5h2m1 0h48m1 0h1m2 0h1m2 0h2m2 0h1m2 0h1m2 0h2m3 0h1m3 0h2m2 0h1m1 0h1M238 528.5h2m1 0h1m1 0h3m1 0h18m1 0h23m1 0h2m1 0h3m2 0h1m1 0h1m2 0h1m1 0h1m2 0h1m1 0h1m2 0h1m2 0h5m1 0h2m2 0h3m1 0h1m1 0h1M238 529.5h4m1 0h3m1 0h10m1 0h36m1 0h2m1 0h2m1 0h1m2 0h5m1 0h1m2 0h1m3 0h1m1 0h4m1 0h2m17 0h1M238 530.5h4m1 0h47m1 0h4m3 0h4m1 0h1m1 0h1m1 0h2m1 0h7m2 0h3m3 0h2m1 0h2m3 0h1m1 0h1m17 0h1m11 0h1M238 531.5h1m3 0h2m2 0h6m1 0h9m1 0h26m2 0h1m1 0h4m1 0h7m1 0h1m1 0h4m1 0h1m1 0h1m1 0h1m1 0h2m2 0h5m1 0h1m1 0h1m7 0h1m2 0h1M238 532.5h1m2 0h5m1 0h20m1 0h20m1 0h5m4 0h3m1 0h2m1 0h2m1 0h12m1 0h4m1 0h1m1 0h1m2 0h1m1 0h1m1 0h1m21 0h1M239 533.5h1m1 0h1m1 0h1m2 0h8m1 0h22m1 0h1m1 0h9m1 0h2m1 0h6m1 0h18m1 0h2m1 0h1m1 0h3m1 0h2m2 0h1m11 0h1m3 0h1M242 534.5h4m1 0h4m1 0h36m1 0h2m1 0h5m1 0h17m1 0h5m1 0h2m5 0h1m1 0h3M241 535.5h2m3 0h4m1 0h9m1 0h14m1 0h10m2 0h2m2 0h9m1 0h21m1 0h5m1 0h2m1 0h2m3 0h1m10 0h1M241 536.5h1m1 0h8m1 0h33m1 0h4m1 0h1m1 0h21m1 0h7m1 0h1m1 0h1m1 0h2m1 0h3m2 0h3m3 0h1m10 0h1m34 0h1M241 537.5h1m1 0h1m4 0h8m1 0h4m1 0h17m1 0h21m1 0h28m2 0h1m4 0h1m6 0h1m2 0h1M241 538.5h1m1 0h1m3 0h1m2 0h9m1 0h10m1 0h12m1 0h4m1 0h5m1 0h24m1 0h1m1 0h8m1 0h1m1 0h1m3 0h1m1 0h1m5 0h1M243 539.5h1m1 0h1m1 0h2m1 0h7m1 0h1m1 0h1m1 0h44m1 0h7m1 0h14m2 0h5m1 0h3m1 0h2m5 0h1m1 0h1M241 540.5h1m6 0h6m1 0h4m1 0h11m1 0h2m1 0h2m2 0h13m1 0h33m1 0h2m1 0h9M243 541.5h1m2 0h7m2 0h5m1 0h2m1 0h4m1 0h3m1 0h14m1 0h11m1 0h27m2 0h1m1 0h1m2 0h3m1 0h1m5 0h1M244 542.5h3m1 0h2m2 0h9m1 0h8m1 0h4m1 0h13m1 0h44m1 0h2m3 0h1m4 0h1m2 0h1M242 543.5h2m6 0h4m1 0h3m2 0h1m1 0h3m1 0h6m3 0h9m1 0h45m1 0h5m1 0h4m1 0h1m1 0h1m2 0h1M247 544.5h3m2 0h1m1 0h11m1 0h1m1 0h3m1 0h1m1 0h3m1 0h59m1 0h1m1 0h2m4 0h1m4 0h1M245 545.5h3m1 0h3m2 0h3m1 0h1m3 0h2m2 0h1m1 0h1m3 0h1m2 0h12m2 0h47m1 0h8M241 546.5h3m2 0h3m2 0h4m1 0h3m1 0h6m1 0h7m2 0h59m1 0h4m1 0h1m1 0h2m1 0h1m5 0h1M243 547.5h1m2 0h1m1 0h1m5 0h2m2 0h2m4 0h1m3 0h4m1 0h2m1 0h61m1 0h4M243 548.5h1m1 0h1m5 0h1m2 0h2m1 0h1m1 0h3m1 0h7m1 0h2m1 0h5m1 0h6m1 0h36m1 0h5m1 0h3m1 0h3m1 0h1m1 0h2m5 0h1m3 0h1M241 549.5h1m3 0h1m6 0h1m1 0h2m1 0h3m2 0h4m1 0h10m1 0h24m1 0h36m1 0h4m1 0h1m11 0h1M241 550.5h1m1 0h3m3 0h1m2 0h3m3 0h2m2 0h1m3 0h1m3 0h1m3 0h57m1 0h5m1 0h2m2 0h1m1 0h2m3 0h2M241 551.5h1m4 0h1m3 0h1m2 0h2m4 0h1m1 0h5m2 0h2m1 0h1m1 0h2m1 0h7m1 0h49m1 0h4m1 0h3m10 0h1M238 552.5h3m1 0h1m2 0h2m1 0h1m1 0h1m3 0h1m1 0h1m2 0h5m1 0h2m1 0h1m1 0h1m1 0h3m1 0h1m2 0h3m1 0h2m1 0h44m2 0h2m1 0h6m12 0h3M239 553.5h1m3 0h2m3 0h3m1 0h1m2 0h2m4 0h3m1 0h7m1 0h2m1 0h2m1 0h2m1 0h56m1 0h1m1 0h2m2 0h2m1 0h1M239 554.5h2m3 0h1m2 0h3m1 0h4m1 0h1m4 0h2m1 0h1m1 0h1m2 0h2m3 0h3m2 0h1m1 0h55m1 0h3m1 0h1m3 0h3m8 0h1M241 555.5h2m1 0h2m3 0h1m1 0h4m1 0h1m3 0h1m1 0h1m2 0h3m1 0h1m4 0h1m1 0h1m2 0h59m3 0h2m1 0h2m1 0h1M242 556.5h2m2 0h2m1 0h1m1 0h1m3 0h1m3 0h1m1 0h3m1 0h2m1 0h1m1 0h1m2 0h5m1 0h1m2 0h5m1 0h47m1 0h3m1 0h2M238 557.5h2m1 0h1m4 0h2m3 0h2m2 0h4m1 0h1m2 0h1m5 0h3m1 0h3m3 0h1m1 0h4m1 0h1m1 0h48m2 0h2m7 0h1M240 558.5h1m2 0h1m1 0h2m2 0h1m1 0h1m2 0h1m3 0h2m4 0h7m1 0h2m1 0h7m1 0h11m1 0h38m1 0h2m2 0h3m1 0h1m1 0h1m2 0h1M239 559.5h1m3 0h2m1 0h1m1 0h2m1 0h1m3 0h2m1 0h1m2 0h1m2 0h1m5 0h1m2 0h20m1 0h34m1 0h3m2 0h6m1 0h2m1 0h2m1 0h1M243 560.5h1m5 0h2m2 0h1m7 0h1m2 0h1m1 0h2m2 0h1m1 0h1m2 0h1m1 0h1m3 0h2m1 0h11m1 0h33m1 0h6m1 0h2m1 0h1m5 0h1M240 561.5h1m1 0h2m1 0h2m3 0h2m2 0h3m9 0h1m1 0h2m6 0h2m1 0h2m1 0h6m1 0h44m1 0h1m1 0h6m12 0h1M238 562.5h1m1 0h2m1 0h1m12 0h2m3 0h1m4 0h2m1 0h1m1 0h1m2 0h4m2 0h6m1 0h4m1 0h14m1 0h17m1 0h8m2 0h1m1 0h3m2 0h1m3 0h1M239 563.5h2m1 0h2m1 0h1m1 0h1m1 0h1m1 0h1m6 0h1m2 0h2m1 0h1m1 0h3m1 0h1m7 0h2m2 0h10m1 0h33m1 0h6m1 0h1m1 0h1m1 0h2m1 0h1m4 0h1m9 0h1M241 564.5h2m1 0h4m1 0h2m1 0h3m2 0h3m2 0h1m6 0h1m8 0h1m1 0h7m1 0h3m1 0h2m1 0h20m1 0h18m1 0h1m6 0h1m7 0h1M243 565.5h1m2 0h2m1 0h1m1 0h1m2 0h1m5 0h1m5 0h1m1 0h1m8 0h1m1 0h1m2 0h1m3 0h1m2 0h2m1 0h4m1 0h29m1 0h6m1 0h1m4 0h2m1 0h1m1 0h1m5 0h1M240 566.5h5m1 0h1m7 0h2m2 0h1m2 0h7m8 0h2m1 0h1m1 0h1m1 0h1m1 0h3m1 0h3m1 0h1m1 0h12m1 0h8m1 0h1m1 0h6m1 0h5m1 0h1m4 0h2m1 0h1M240 567.5h2m2 0h2m4 0h1m1 0h1m1 0h1m3 0h1m2 0h1m1 0h1m4 0h1m3 0h1m8 0h1m2 0h4m1 0h3m1 0h2m1 0h2m3 0h19m1 0h7m2 0h1m6 0h1m1 0h1m1 0h1M238 568.5h1m3 0h1m2 0h1m1 0h2m1 0h1m2 0h1m9 0h4m1 0h2m1 0h2m3 0h1m3 0h2m1 0h3m5 0h3m1 0h4m1 0h2m1 0h10m2 0h5m1 0h3m3 0h2m1 0h1m1 0h1m1 0h1m6 0h1m16 0h1M242 569.5h1m1 0h1m6 0h1m3 0h5m3 0h1m6 0h2m3 0h1m1 0h3m7 0h2m1 0h1m1 0h1m1 0h11m1 0h7m1 0h3m1 0h4m3 0h1m1 0h1m2 0h2M238 570.5h1m10 0h6m1 0h5m2 0h3m1 0h1m2 0h1m5 0h2m3 0h1m9 0h2m1 0h1m2 0h2m1 0h8m1 0h8m1 0h3m1 0h2m1 0h2m2 0h1m5 0h1M238 571.5h1m7 0h1m4 0h5m8 0h2m13 0h1m1 0h1m3 0h3m1 0h1m1 0h2m1 0h3m3 0h4m2 0h1m1 0h1m1 0h1m1 0h3m1 0h2m4 0h1m1 0h1m1 0h1m3 0h1m4 0h1M245 572.5h1m2 0h1m3 0h1m5 0h1m2 0h1m2 0h3m8 0h1m2 0h1m1 0h1m5 0h1m4 0h1m2 0h1m4 0h1m2 0h1m2 0h5m2 0h4m3 0h1m1 0h3m1 0h1m1 0h1m22 0h1M238 573.5h1m1 0h2m7 0h6m5 0h1m3 0h1m2 0h1m1 0h2m1 0h1m15 0h1m4 0h1m2 0h1m2 0h2m5 0h2m1 0h1m4 0h1m1 0h1m3 0h1m12 0h1m14 0h1" stroke="#c8c8c8" stroke-width="1" fill="none"/></g>
<path d="M145.8 150.7L178.6 141.7L192.1 147.1L184.9 168.3L143.5 168.3L142.2 157L145.8 150.7" stroke="#111" stroke-width="1.2" fill="none"/><text x="53.8" y="117.6" font-size="11.9" fill="#1a1a1a" textLength="78" lengthAdjust="spacingAndGlyphs">P1 CD38++ PC</text><path d="M312 160.5C318 158.5 338 157.8 348 159.5C352 161 350 165 346 166.5C335 168.5 318 168.5 312 166.8C309 165.5 309 162 312 160.5Z" fill="none" stroke="#111" stroke-width="1.2"/><text x="243.6" y="79.7" font-size="11.9" fill="#1a1a1a" textLength="117.4" lengthAdjust="spacingAndGlyphs">P1 CD45 Lymphocytes</text><path d="M39.5 309.5L194.5 309.5" stroke="#111" stroke-width="1.0" fill="none"/><path d="M114.5 231.5L114.5 309.5" stroke="#111" stroke-width="1.0" fill="none"/><path d="M83.5 309.5L83.5 368.5" stroke="#111" stroke-width="1.0" fill="none"/><text x="44.8" y="249.7" font-size="11.9" fill="#1a1a1a" textLength="65.9" lengthAdjust="spacingAndGlyphs">Q1 CD56 PC</text><text x="136.6" y="282.6" font-size="11.9" fill="#1a1a1a" textLength="15.1" lengthAdjust="spacingAndGlyphs">Q2</text><text x="52.4" y="352.8" font-size="11.9" fill="#1a1a1a" textLength="15.1" lengthAdjust="spacingAndGlyphs">Q3</text><text x="125.2" y="360.7" font-size="11.9" fill="#1a1a1a" textLength="66" lengthAdjust="spacingAndGlyphs">Q4 CD19 PC</text><path d="M299.5 231.5L299.5 368.5" stroke="#111" stroke-width="1.0" fill="none"/><path d="M232.5 316.5L299.5 316.5" stroke="#111" stroke-width="1.0" fill="none"/><path d="M299.2 315.8L385.7 293.2" stroke="#111" stroke-width="1.1" fill="none"/><text x="233.4" y="252.2" font-size="11.9" fill="#1a1a1a" textLength="128.5" lengthAdjust="spacingAndGlyphs">Q1-1 CD19+ Lambda PC</text><text x="354.6" y="283.1" font-size="11.9" fill="#1a1a1a" textLength="23.6" lengthAdjust="spacingAndGlyphs">Q2-1</text><text x="239" y="364.2" font-size="11.9" fill="#1a1a1a" textLength="23.5" lengthAdjust="spacingAndGlyphs">Q3-1</text><text x="277.8" y="360.7" font-size="11.9" fill="#1a1a1a" textLength="118.4" lengthAdjust="spacingAndGlyphs" clip-path="url(#cD)">Q4-1 CD19+ Kappa PC</text><path d="M40.5 503.5L193.5 503.5" stroke="#111" stroke-width="1.0" fill="none"/><path d="M124.5 430.5L124.5 567.5" stroke="#111" stroke-width="1.0" fill="none"/><text x="42" y="456.1" font-size="11.9" fill="#1a1a1a" textLength="128" lengthAdjust="spacingAndGlyphs">Q1-2 CD56+ Lambda PC</text><text x="141" y="486.2" font-size="11.9" fill="#1a1a1a" textLength="24.8" lengthAdjust="spacingAndGlyphs">Q2-2</text><text x="81.4" y="531.7" font-size="11.9" fill="#1a1a1a" textLength="24.8" lengthAdjust="spacingAndGlyphs">Q3-2</text><text x="85.5" y="554.1" font-size="11.9" fill="#1a1a1a" textLength="118.4" lengthAdjust="spacingAndGlyphs" clip-path="url(#cE)">Q4-2 CD56+ Kappa PC</text><path d="M237.5 550.5L279.5 550.5L279.5 574.5" stroke="#111" stroke-width="1.0" fill="none"/><path d="M279.5 550.5L328 434.7" stroke="#111" stroke-width="1.1" fill="none"/><path d="M279.5 550.5L389.4 459.4" stroke="#111" stroke-width="1.1" fill="none"/><text x="237.8" y="475.6" font-size="11.9" fill="#1a1a1a" textLength="124.9" lengthAdjust="spacingAndGlyphs">Q1-3 CD19+ Lambda Ly</text><text x="355.4" y="452.5" font-size="11.9" fill="#1a1a1a" textLength="24.7" lengthAdjust="spacingAndGlyphs">Q2-3</text><text x="242.7" y="569.3" font-size="11.9" fill="#1a1a1a" textLength="24.8" lengthAdjust="spacingAndGlyphs">Q3-3</text><text x="283.9" y="567.2" font-size="11.9" fill="#1a1a1a" textLength="100.8" lengthAdjust="spacingAndGlyphs">Q4-3 CD19+ Kappa</text><path d="M493.5 187.5L541.5 187.5L541.5 219.5" stroke="#111" stroke-width="1.0" fill="none"/><path d="M541.8 187.3L671.8 28.8" stroke="#111" stroke-width="1.1" fill="none"/><path d="M541.8 187.3L702.5 57.8" stroke="#111" stroke-width="1.1" fill="none"/><text x="505.1" y="60.3" font-size="14.5" fill="#1a1a1a" textLength="33" lengthAdjust="spacingAndGlyphs" style="stroke-width:0.1px">Q1-4</text><text x="665.3" y="60.6" font-size="14.5" fill="#1a1a1a" textLength="32.9" lengthAdjust="spacingAndGlyphs" style="stroke-width:0.1px">Q2-4</text><text x="500.6" y="212.6" font-size="14.5" fill="#1a1a1a" textLength="33" lengthAdjust="spacingAndGlyphs" style="stroke-width:0.1px">Q3-4</text><text x="661.5" y="209.6" font-size="14.5" fill="#1a1a1a" textLength="32.5" lengthAdjust="spacingAndGlyphs" style="stroke-width:0.1px">Q4-4</text>
<rect x="41" y="28.5" width="157" height="141.5" stroke="#111" stroke-width="1.4" fill="none"/><rect x="238.5" y="30" width="152.5" height="139.5" stroke="#111" stroke-width="1.4" fill="none"/><rect x="39.5" y="231.8" width="154.5" height="136.59999999999997" stroke="#111" stroke-width="1.4" fill="none"/><rect x="232.6" y="231" width="153.1" height="137.39999999999998" stroke="#111" stroke-width="1.4" fill="none"/><rect x="40.7" y="430.6" width="152.60000000000002" height="136.39999999999998" stroke="#111" stroke-width="1.4" fill="none"/><rect x="237.1" y="434.7" width="152.29999999999998" height="139.59999999999997" stroke="#111" stroke-width="1.4" fill="none"/><rect x="493" y="28.8" width="209.5" height="190.5" stroke="#111" stroke-width="1.4" fill="none"/>
<text x="27.7" y="25.6" font-size="11" fill="#1a1a1a" textLength="152.9" lengthAdjust="spacingAndGlyphs">MM MRD assay-Tube_002 IC</text><line x1="42.4" y1="170" x2="42.4" y2="175.2" stroke="#111" stroke-width="1.0"/><line x1="48.7" y1="170" x2="48.7" y2="175.2" stroke="#111" stroke-width="1.0"/><line x1="52.3" y1="170" x2="52.3" y2="175.2" stroke="#111" stroke-width="1.0"/><line x1="54.9" y1="170" x2="54.9" y2="175.2" stroke="#111" stroke-width="1.0"/><line x1="56.9" y1="170" x2="56.9" y2="175.2" stroke="#111" stroke-width="1.0"/><line x1="58.6" y1="170" x2="58.6" y2="175.2" stroke="#111" stroke-width="1.0"/><line x1="60.0" y1="170" x2="60.0" y2="175.2" stroke="#111" stroke-width="1.0"/><line x1="61.2" y1="170" x2="61.2" y2="175.2" stroke="#111" stroke-width="1.0"/><line x1="62.2" y1="170" x2="62.2" y2="175.2" stroke="#111" stroke-width="1.0"/><line x1="63.2" y1="170" x2="63.2" y2="179.6" stroke="#111" stroke-width="1.1"/><line x1="75.0" y1="170" x2="75.0" y2="175.2" stroke="#111" stroke-width="1.0"/><line x1="81.9" y1="170" x2="81.9" y2="175.2" stroke="#111" stroke-width="1.0"/><line x1="86.8" y1="170" x2="86.8" y2="175.2" stroke="#111" stroke-width="1.0"/><line x1="90.6" y1="170" x2="90.6" y2="175.2" stroke="#111" stroke-width="1.0"/><line x1="93.7" y1="170" x2="93.7" y2="175.2" stroke="#111" stroke-width="1.0"/><line x1="96.3" y1="170" x2="96.3" y2="175.2" stroke="#111" stroke-width="1.0"/><line x1="98.6" y1="170" x2="98.6" y2="175.2" stroke="#111" stroke-width="1.0"/><line x1="100.6" y1="170" x2="100.6" y2="175.2" stroke="#111" stroke-width="1.0"/><line x1="102.4" y1="170" x2="102.4" y2="179.6" stroke="#111" stroke-width="1.1"/><line x1="114.2" y1="170" x2="114.2" y2="175.2" stroke="#111" stroke-width="1.0"/><line x1="121.1" y1="170" x2="121.1" y2="175.2" stroke="#111" stroke-width="1.0"/><line x1="126.0" y1="170" x2="126.0" y2="175.2" stroke="#111" stroke-width="1.0"/><line x1="129.8" y1="170" x2="129.8" y2="175.2" stroke="#111" stroke-width="1.0"/><line x1="132.9" y1="170" x2="132.9" y2="175.2" stroke="#111" stroke-width="1.0"/><line x1="135.5" y1="170" x2="135.5" y2="175.2" stroke="#111" stroke-width="1.0"/><line x1="137.8" y1="170" x2="137.8" y2="175.2" stroke="#111" stroke-width="1.0"/><line x1="139.8" y1="170" x2="139.8" y2="175.2" stroke="#111" stroke-width="1.0"/><line x1="141.6" y1="170" x2="141.6" y2="179.6" stroke="#111" stroke-width="1.1"/><line x1="153.4" y1="170" x2="153.4" y2="175.2" stroke="#111" stroke-width="1.0"/><line x1="160.3" y1="170" x2="160.3" y2="175.2" stroke="#111" stroke-width="1.0"/><line x1="165.2" y1="170" x2="165.2" y2="175.2" stroke="#111" stroke-width="1.0"/><line x1="169.0" y1="170" x2="169.0" y2="175.2" stroke="#111" stroke-width="1.0"/><line x1="172.1" y1="170" x2="172.1" y2="175.2" stroke="#111" stroke-width="1.0"/><line x1="174.7" y1="170" x2="174.7" y2="175.2" stroke="#111" stroke-width="1.0"/><line x1="177.0" y1="170" x2="177.0" y2="175.2" stroke="#111" stroke-width="1.0"/><line x1="179.0" y1="170" x2="179.0" y2="175.2" stroke="#111" stroke-width="1.0"/><line x1="180.8" y1="170" x2="180.8" y2="179.6" stroke="#111" stroke-width="1.1"/><line x1="192.6" y1="170" x2="192.6" y2="175.2" stroke="#111" stroke-width="1.0"/><text x="56.9" y="188.2" font-size="8.6" fill="#1a1a1a" textLength="8.2" lengthAdjust="spacingAndGlyphs">10</text><text x="65.3" y="183.6" font-size="7.31" fill="#1a1a1a">2</text><text x="96.1" y="188.2" font-size="8.6" fill="#1a1a1a" textLength="8.2" lengthAdjust="spacingAndGlyphs">10</text><text x="104.5" y="183.6" font-size="7.31" fill="#1a1a1a">3</text><text x="135.3" y="188.2" font-size="8.6" fill="#1a1a1a" textLength="8.2" lengthAdjust="spacingAndGlyphs">10</text><text x="143.7" y="183.6" font-size="7.31" fill="#1a1a1a">4</text><text x="174.5" y="188.2" font-size="8.6" fill="#1a1a1a" textLength="8.2" lengthAdjust="spacingAndGlyphs">10</text><text x="182.9" y="183.6" font-size="7.31" fill="#1a1a1a">5</text><line x1="36.5" y1="164.6" x2="41" y2="164.6" stroke="#111" stroke-width="1.0"/><line x1="36.5" y1="159.2" x2="41" y2="159.2" stroke="#111" stroke-width="1.0"/><line x1="36.5" y1="153.8" x2="41" y2="153.8" stroke="#111" stroke-width="1.0"/><line x1="36.5" y1="148.4" x2="41" y2="148.4" stroke="#111" stroke-width="1.0"/><line x1="34" y1="143.0" x2="41" y2="143.0" stroke="#111" stroke-width="1.1"/><text transform="translate(33.2 143.0) rotate(-90)" font-size="9" fill="#1a1a1a" text-anchor="middle">50</text><line x1="36.5" y1="137.6" x2="41" y2="137.6" stroke="#111" stroke-width="1.0"/><line x1="36.5" y1="132.2" x2="41" y2="132.2" stroke="#111" stroke-width="1.0"/><line x1="36.5" y1="126.8" x2="41" y2="126.8" stroke="#111" stroke-width="1.0"/><line x1="36.5" y1="121.4" x2="41" y2="121.4" stroke="#111" stroke-width="1.0"/><line x1="34" y1="116.0" x2="41" y2="116.0" stroke="#111" stroke-width="1.1"/><text transform="translate(33.2 116.0) rotate(-90)" font-size="9" fill="#1a1a1a" text-anchor="middle">100</text><line x1="36.5" y1="110.6" x2="41" y2="110.6" stroke="#111" stroke-width="1.0"/><line x1="36.5" y1="105.2" x2="41" y2="105.2" stroke="#111" stroke-width="1.0"/><line x1="36.5" y1="99.8" x2="41" y2="99.8" stroke="#111" stroke-width="1.0"/><line x1="36.5" y1="94.4" x2="41" y2="94.4" stroke="#111" stroke-width="1.0"/><line x1="34" y1="89.0" x2="41" y2="89.0" stroke="#111" stroke-width="1.1"/><text transform="translate(33.2 89.0) rotate(-90)" font-size="9" fill="#1a1a1a" text-anchor="middle">150</text><line x1="36.5" y1="83.6" x2="41" y2="83.6" stroke="#111" stroke-width="1.0"/><line x1="36.5" y1="78.2" x2="41" y2="78.2" stroke="#111" stroke-width="1.0"/><line x1="36.5" y1="72.8" x2="41" y2="72.8" stroke="#111" stroke-width="1.0"/><line x1="36.5" y1="67.4" x2="41" y2="67.4" stroke="#111" stroke-width="1.0"/><line x1="34" y1="62.0" x2="41" y2="62.0" stroke="#111" stroke-width="1.1"/><text transform="translate(33.2 62.0) rotate(-90)" font-size="9" fill="#1a1a1a" text-anchor="middle">200</text><line x1="36.5" y1="56.6" x2="41" y2="56.6" stroke="#111" stroke-width="1.0"/><line x1="36.5" y1="51.2" x2="41" y2="51.2" stroke="#111" stroke-width="1.0"/><line x1="36.5" y1="45.8" x2="41" y2="45.8" stroke="#111" stroke-width="1.0"/><line x1="36.5" y1="40.4" x2="41" y2="40.4" stroke="#111" stroke-width="1.0"/><line x1="34" y1="35.0" x2="41" y2="35.0" stroke="#111" stroke-width="1.1"/><text transform="translate(33.2 35.0) rotate(-90)" font-size="9" fill="#1a1a1a" text-anchor="middle">250</text><line x1="36.5" y1="29.6" x2="41" y2="29.6" stroke="#111" stroke-width="1.0"/><text x="79.1" y="197.4" font-size="10.8" fill="#1a1a1a" textLength="79.2" lengthAdjust="spacingAndGlyphs">CD38 PE-Cy7-A</text><text transform="translate(22.6 111.3) rotate(-90)" font-size="10.2" fill="#1a1a1a" textLength="31.7" lengthAdjust="spacingAndGlyphs">SSC-A</text><text transform="translate(22.6 62.1) rotate(-90)" font-size="9.5" fill="#1a1a1a" textLength="32.2" lengthAdjust="spacingAndGlyphs">(x 1,000)</text><text x="10.5" y="199.6" font-size="19" fill="#000" font-weight="bold" font-family="Liberation Serif" style="stroke-width:0.1px">A</text><text x="222.8" y="27.4" font-size="11" fill="#1a1a1a" textLength="152.9" lengthAdjust="spacingAndGlyphs">MM MRD assay-Tube_002 IC</text><line x1="239.7" y1="169.5" x2="239.7" y2="174.7" stroke="#111" stroke-width="1.0"/><line x1="245.8" y1="169.5" x2="245.8" y2="174.7" stroke="#111" stroke-width="1.0"/><line x1="249.4" y1="169.5" x2="249.4" y2="174.7" stroke="#111" stroke-width="1.0"/><line x1="251.9" y1="169.5" x2="251.9" y2="174.7" stroke="#111" stroke-width="1.0"/><line x1="253.9" y1="169.5" x2="253.9" y2="174.7" stroke="#111" stroke-width="1.0"/><line x1="255.5" y1="169.5" x2="255.5" y2="174.7" stroke="#111" stroke-width="1.0"/><line x1="256.9" y1="169.5" x2="256.9" y2="174.7" stroke="#111" stroke-width="1.0"/><line x1="258.0" y1="169.5" x2="258.0" y2="174.7" stroke="#111" stroke-width="1.0"/><line x1="259.1" y1="169.5" x2="259.1" y2="174.7" stroke="#111" stroke-width="1.0"/><line x1="260.0" y1="169.5" x2="260.0" y2="179.1" stroke="#111" stroke-width="1.1"/><line x1="271.5" y1="169.5" x2="271.5" y2="174.7" stroke="#111" stroke-width="1.0"/><line x1="278.3" y1="169.5" x2="278.3" y2="174.7" stroke="#111" stroke-width="1.0"/><line x1="283.1" y1="169.5" x2="283.1" y2="174.7" stroke="#111" stroke-width="1.0"/><line x1="286.8" y1="169.5" x2="286.8" y2="174.7" stroke="#111" stroke-width="1.0"/><line x1="289.8" y1="169.5" x2="289.8" y2="174.7" stroke="#111" stroke-width="1.0"/><line x1="292.4" y1="169.5" x2="292.4" y2="174.7" stroke="#111" stroke-width="1.0"/><line x1="294.6" y1="169.5" x2="294.6" y2="174.7" stroke="#111" stroke-width="1.0"/><line x1="296.5" y1="169.5" x2="296.5" y2="174.7" stroke="#111" stroke-width="1.0"/><line x1="298.3" y1="169.5" x2="298.3" y2="179.1" stroke="#111" stroke-width="1.1"/><line x1="309.8" y1="169.5" x2="309.8" y2="174.7" stroke="#111" stroke-width="1.0"/><line x1="316.6" y1="169.5" x2="316.6" y2="174.7" stroke="#111" stroke-width="1.0"/><line x1="321.4" y1="169.5" x2="321.4" y2="174.7" stroke="#111" stroke-width="1.0"/><line x1="325.1" y1="169.5" x2="325.1" y2="174.7" stroke="#111" stroke-width="1.0"/><line x1="328.1" y1="169.5" x2="328.1" y2="174.7" stroke="#111" stroke-width="1.0"/><line x1="330.7" y1="169.5" x2="330.7" y2="174.7" stroke="#111" stroke-width="1.0"/><line x1="332.9" y1="169.5" x2="332.9" y2="174.7" stroke="#111" stroke-width="1.0"/><line x1="334.8" y1="169.5" x2="334.8" y2="174.7" stroke="#111" stroke-width="1.0"/><line x1="336.6" y1="169.5" x2="336.6" y2="179.1" stroke="#111" stroke-width="1.1"/><line x1="348.1" y1="169.5" x2="348.1" y2="174.7" stroke="#111" stroke-width="1.0"/><line x1="354.9" y1="169.5" x2="354.9" y2="174.7" stroke="#111" stroke-width="1.0"/><line x1="359.7" y1="169.5" x2="359.7" y2="174.7" stroke="#111" stroke-width="1.0"/><line x1="363.4" y1="169.5" x2="363.4" y2="174.7" stroke="#111" stroke-width="1.0"/><line x1="366.4" y1="169.5" x2="366.4" y2="174.7" stroke="#111" stroke-width="1.0"/><line x1="369.0" y1="169.5" x2="369.0" y2="174.7" stroke="#111" stroke-width="1.0"/><line x1="371.2" y1="169.5" x2="371.2" y2="174.7" stroke="#111" stroke-width="1.0"/><line x1="373.1" y1="169.5" x2="373.1" y2="174.7" stroke="#111" stroke-width="1.0"/><line x1="374.9" y1="169.5" x2="374.9" y2="179.1" stroke="#111" stroke-width="1.1"/><line x1="386.4" y1="169.5" x2="386.4" y2="174.7" stroke="#111" stroke-width="1.0"/><text x="253.7" y="187.7" font-size="8.6" fill="#1a1a1a" textLength="8.2" lengthAdjust="spacingAndGlyphs">10</text><text x="262.1" y="183.1" font-size="7.31" fill="#1a1a1a">2</text><text x="292.0" y="187.7" font-size="8.6" fill="#1a1a1a" textLength="8.2" lengthAdjust="spacingAndGlyphs">10</text><text x="300.4" y="183.1" font-size="7.31" fill="#1a1a1a">3</text><text x="330.3" y="187.7" font-size="8.6" fill="#1a1a1a" textLength="8.2" lengthAdjust="spacingAndGlyphs">10</text><text x="338.7" y="183.1" font-size="7.31" fill="#1a1a1a">4</text><text x="368.6" y="187.7" font-size="8.6" fill="#1a1a1a" textLength="8.2" lengthAdjust="spacingAndGlyphs">10</text><text x="377.0" y="183.1" font-size="7.31" fill="#1a1a1a">5</text><line x1="234.0" y1="164.1" x2="238.5" y2="164.1" stroke="#111" stroke-width="1.0"/><line x1="234.0" y1="158.7" x2="238.5" y2="158.7" stroke="#111" stroke-width="1.0"/><line x1="234.0" y1="153.3" x2="238.5" y2="153.3" stroke="#111" stroke-width="1.0"/><line x1="234.0" y1="147.9" x2="238.5" y2="147.9" stroke="#111" stroke-width="1.0"/><line x1="231.5" y1="142.5" x2="238.5" y2="142.5" stroke="#111" stroke-width="1.1"/><text transform="translate(230.7 142.5) rotate(-90)" font-size="9" fill="#1a1a1a" text-anchor="middle">50</text><line x1="234.0" y1="137.1" x2="238.5" y2="137.1" stroke="#111" stroke-width="1.0"/><line x1="234.0" y1="131.7" x2="238.5" y2="131.7" stroke="#111" stroke-width="1.0"/><line x1="234.0" y1="126.3" x2="238.5" y2="126.3" stroke="#111" stroke-width="1.0"/><line x1="234.0" y1="120.9" x2="238.5" y2="120.9" stroke="#111" stroke-width="1.0"/><line x1="231.5" y1="115.5" x2="238.5" y2="115.5" stroke="#111" stroke-width="1.1"/><text transform="translate(230.7 115.5) rotate(-90)" font-size="9" fill="#1a1a1a" text-anchor="middle">100</text><line x1="234.0" y1="110.1" x2="238.5" y2="110.1" stroke="#111" stroke-width="1.0"/><line x1="234.0" y1="104.7" x2="238.5" y2="104.7" stroke="#111" stroke-width="1.0"/><line x1="234.0" y1="99.3" x2="238.5" y2="99.3" stroke="#111" stroke-width="1.0"/><line x1="234.0" y1="93.9" x2="238.5" y2="93.9" stroke="#111" stroke-width="1.0"/><line x1="231.5" y1="88.5" x2="238.5" y2="88.5" stroke="#111" stroke-width="1.1"/><text transform="translate(230.7 88.5) rotate(-90)" font-size="9" fill="#1a1a1a" text-anchor="middle">150</text><line x1="234.0" y1="83.1" x2="238.5" y2="83.1" stroke="#111" stroke-width="1.0"/><line x1="234.0" y1="77.7" x2="238.5" y2="77.7" stroke="#111" stroke-width="1.0"/><line x1="234.0" y1="72.3" x2="238.5" y2="72.3" stroke="#111" stroke-width="1.0"/><line x1="234.0" y1="66.9" x2="238.5" y2="66.9" stroke="#111" stroke-width="1.0"/><line x1="231.5" y1="61.5" x2="238.5" y2="61.5" stroke="#111" stroke-width="1.1"/><text transform="translate(230.7 61.5) rotate(-90)" font-size="9" fill="#1a1a1a" text-anchor="middle">200</text><line x1="234.0" y1="56.1" x2="238.5" y2="56.1" stroke="#111" stroke-width="1.0"/><line x1="234.0" y1="50.7" x2="238.5" y2="50.7" stroke="#111" stroke-width="1.0"/><line x1="234.0" y1="45.3" x2="238.5" y2="45.3" stroke="#111" stroke-width="1.0"/><line x1="234.0" y1="39.9" x2="238.5" y2="39.9" stroke="#111" stroke-width="1.0"/><line x1="231.5" y1="34.5" x2="238.5" y2="34.5" stroke="#111" stroke-width="1.1"/><text transform="translate(230.7 34.5) rotate(-90)" font-size="9" fill="#1a1a1a" text-anchor="middle">250</text><text x="271.7" y="198.5" font-size="10.8" fill="#1a1a1a" textLength="86.1" lengthAdjust="spacingAndGlyphs">CD45 APC-Cy7-A</text><text transform="translate(220.2 112.8) rotate(-90)" font-size="10.2" fill="#1a1a1a" textLength="31.7" lengthAdjust="spacingAndGlyphs">SSC-A</text><text transform="translate(220.2 63.6) rotate(-90)" font-size="9.5" fill="#1a1a1a" textLength="32.2" lengthAdjust="spacingAndGlyphs">(x 1,000)</text><text x="216.5" y="200.8" font-size="19" fill="#000" font-weight="bold" font-family="Liberation Serif" style="stroke-width:0.1px">B</text><text x="24.8" y="229.3" font-size="11" fill="#1a1a1a" textLength="152.9" lengthAdjust="spacingAndGlyphs">MM MRD assay-Tube_002 IC</text><line x1="41.2" y1="368.4" x2="41.2" y2="373.59999999999997" stroke="#111" stroke-width="1.0"/><line x1="47.3" y1="368.4" x2="47.3" y2="373.59999999999997" stroke="#111" stroke-width="1.0"/><line x1="50.9" y1="368.4" x2="50.9" y2="373.59999999999997" stroke="#111" stroke-width="1.0"/><line x1="53.5" y1="368.4" x2="53.5" y2="373.59999999999997" stroke="#111" stroke-width="1.0"/><line x1="55.5" y1="368.4" x2="55.5" y2="373.59999999999997" stroke="#111" stroke-width="1.0"/><line x1="57.1" y1="368.4" x2="57.1" y2="373.59999999999997" stroke="#111" stroke-width="1.0"/><line x1="58.4" y1="368.4" x2="58.4" y2="373.59999999999997" stroke="#111" stroke-width="1.0"/><line x1="59.6" y1="368.4" x2="59.6" y2="373.59999999999997" stroke="#111" stroke-width="1.0"/><line x1="60.7" y1="368.4" x2="60.7" y2="373.59999999999997" stroke="#111" stroke-width="1.0"/><line x1="61.6" y1="368.4" x2="61.6" y2="378.0" stroke="#111" stroke-width="1.1"/><line x1="73.2" y1="368.4" x2="73.2" y2="373.59999999999997" stroke="#111" stroke-width="1.0"/><line x1="80.0" y1="368.4" x2="80.0" y2="373.59999999999997" stroke="#111" stroke-width="1.0"/><line x1="84.8" y1="368.4" x2="84.8" y2="373.59999999999997" stroke="#111" stroke-width="1.0"/><line x1="88.5" y1="368.4" x2="88.5" y2="373.59999999999997" stroke="#111" stroke-width="1.0"/><line x1="91.6" y1="368.4" x2="91.6" y2="373.59999999999997" stroke="#111" stroke-width="1.0"/><line x1="94.2" y1="368.4" x2="94.2" y2="373.59999999999997" stroke="#111" stroke-width="1.0"/><line x1="96.4" y1="368.4" x2="96.4" y2="373.59999999999997" stroke="#111" stroke-width="1.0"/><line x1="98.4" y1="368.4" x2="98.4" y2="373.59999999999997" stroke="#111" stroke-width="1.0"/><line x1="100.1" y1="368.4" x2="100.1" y2="378.0" stroke="#111" stroke-width="1.1"/><line x1="111.7" y1="368.4" x2="111.7" y2="373.59999999999997" stroke="#111" stroke-width="1.0"/><line x1="118.5" y1="368.4" x2="118.5" y2="373.59999999999997" stroke="#111" stroke-width="1.0"/><line x1="123.3" y1="368.4" x2="123.3" y2="373.59999999999997" stroke="#111" stroke-width="1.0"/><line x1="127.1" y1="368.4" x2="127.1" y2="373.59999999999997" stroke="#111" stroke-width="1.0"/><line x1="130.1" y1="368.4" x2="130.1" y2="373.59999999999997" stroke="#111" stroke-width="1.0"/><line x1="132.7" y1="368.4" x2="132.7" y2="373.59999999999997" stroke="#111" stroke-width="1.0"/><line x1="134.9" y1="368.4" x2="134.9" y2="373.59999999999997" stroke="#111" stroke-width="1.0"/><line x1="136.9" y1="368.4" x2="136.9" y2="373.59999999999997" stroke="#111" stroke-width="1.0"/><line x1="138.7" y1="368.4" x2="138.7" y2="378.0" stroke="#111" stroke-width="1.1"/><line x1="150.3" y1="368.4" x2="150.3" y2="373.59999999999997" stroke="#111" stroke-width="1.0"/><line x1="157.1" y1="368.4" x2="157.1" y2="373.59999999999997" stroke="#111" stroke-width="1.0"/><line x1="161.9" y1="368.4" x2="161.9" y2="373.59999999999997" stroke="#111" stroke-width="1.0"/><line x1="165.6" y1="368.4" x2="165.6" y2="373.59999999999997" stroke="#111" stroke-width="1.0"/><line x1="168.7" y1="368.4" x2="168.7" y2="373.59999999999997" stroke="#111" stroke-width="1.0"/><line x1="171.2" y1="368.4" x2="171.2" y2="373.59999999999997" stroke="#111" stroke-width="1.0"/><line x1="173.5" y1="368.4" x2="173.5" y2="373.59999999999997" stroke="#111" stroke-width="1.0"/><line x1="175.4" y1="368.4" x2="175.4" y2="373.59999999999997" stroke="#111" stroke-width="1.0"/><line x1="177.2" y1="368.4" x2="177.2" y2="378.0" stroke="#111" stroke-width="1.1"/><line x1="188.8" y1="368.4" x2="188.8" y2="373.59999999999997" stroke="#111" stroke-width="1.0"/><text x="55.3" y="386.6" font-size="8.6" fill="#1a1a1a" textLength="8.2" lengthAdjust="spacingAndGlyphs">10</text><text x="63.7" y="382.0" font-size="7.31" fill="#1a1a1a">2</text><text x="93.8" y="386.6" font-size="8.6" fill="#1a1a1a" textLength="8.2" lengthAdjust="spacingAndGlyphs">10</text><text x="102.2" y="382.0" font-size="7.31" fill="#1a1a1a">3</text><text x="132.4" y="386.6" font-size="8.6" fill="#1a1a1a" textLength="8.2" lengthAdjust="spacingAndGlyphs">10</text><text x="140.8" y="382.0" font-size="7.31" fill="#1a1a1a">4</text><text x="170.9" y="386.6" font-size="8.6" fill="#1a1a1a" textLength="8.2" lengthAdjust="spacingAndGlyphs">10</text><text x="179.3" y="382.0" font-size="7.31" fill="#1a1a1a">5</text><line x1="34.7" y1="366.5" x2="39.5" y2="366.5" stroke="#111" stroke-width="1.0"/><line x1="34.7" y1="361.1" x2="39.5" y2="361.1" stroke="#111" stroke-width="1.0"/><line x1="34.7" y1="358.0" x2="39.5" y2="358.0" stroke="#111" stroke-width="1.0"/><line x1="34.7" y1="355.7" x2="39.5" y2="355.7" stroke="#111" stroke-width="1.0"/><line x1="34.7" y1="354.0" x2="39.5" y2="354.0" stroke="#111" stroke-width="1.0"/><line x1="34.7" y1="352.6" x2="39.5" y2="352.6" stroke="#111" stroke-width="1.0"/><line x1="34.7" y1="351.4" x2="39.5" y2="351.4" stroke="#111" stroke-width="1.0"/><line x1="34.7" y1="350.3" x2="39.5" y2="350.3" stroke="#111" stroke-width="1.0"/><line x1="34.7" y1="349.4" x2="39.5" y2="349.4" stroke="#111" stroke-width="1.0"/><line x1="30.1" y1="348.6" x2="39.5" y2="348.6" stroke="#111" stroke-width="1.1"/><line x1="34.7" y1="338.4" x2="39.5" y2="338.4" stroke="#111" stroke-width="1.0"/><line x1="34.7" y1="332.5" x2="39.5" y2="332.5" stroke="#111" stroke-width="1.0"/><line x1="34.7" y1="328.3" x2="39.5" y2="328.3" stroke="#111" stroke-width="1.0"/><line x1="34.7" y1="325.0" x2="39.5" y2="325.0" stroke="#111" stroke-width="1.0"/><line x1="34.7" y1="322.3" x2="39.5" y2="322.3" stroke="#111" stroke-width="1.0"/><line x1="34.7" y1="320.0" x2="39.5" y2="320.0" stroke="#111" stroke-width="1.0"/><line x1="34.7" y1="318.1" x2="39.5" y2="318.1" stroke="#111" stroke-width="1.0"/><line x1="34.7" y1="316.3" x2="39.5" y2="316.3" stroke="#111" stroke-width="1.0"/><line x1="30.1" y1="314.8" x2="39.5" y2="314.8" stroke="#111" stroke-width="1.1"/><line x1="34.7" y1="304.6" x2="39.5" y2="304.6" stroke="#111" stroke-width="1.0"/><line x1="34.7" y1="298.7" x2="39.5" y2="298.7" stroke="#111" stroke-width="1.0"/><line x1="34.7" y1="294.5" x2="39.5" y2="294.5" stroke="#111" stroke-width="1.0"/><line x1="34.7" y1="291.2" x2="39.5" y2="291.2" stroke="#111" stroke-width="1.0"/><line x1="34.7" y1="288.5" x2="39.5" y2="288.5" stroke="#111" stroke-width="1.0"/><line x1="34.7" y1="286.2" x2="39.5" y2="286.2" stroke="#111" stroke-width="1.0"/><line x1="34.7" y1="284.3" x2="39.5" y2="284.3" stroke="#111" stroke-width="1.0"/><line x1="34.7" y1="282.5" x2="39.5" y2="282.5" stroke="#111" stroke-width="1.0"/><line x1="30.1" y1="281.0" x2="39.5" y2="281.0" stroke="#111" stroke-width="1.1"/><line x1="34.7" y1="270.8" x2="39.5" y2="270.8" stroke="#111" stroke-width="1.0"/><line x1="34.7" y1="264.9" x2="39.5" y2="264.9" stroke="#111" stroke-width="1.0"/><line x1="34.7" y1="260.7" x2="39.5" y2="260.7" stroke="#111" stroke-width="1.0"/><line x1="34.7" y1="257.4" x2="39.5" y2="257.4" stroke="#111" stroke-width="1.0"/><line x1="34.7" y1="254.7" x2="39.5" y2="254.7" stroke="#111" stroke-width="1.0"/><line x1="34.7" y1="252.4" x2="39.5" y2="252.4" stroke="#111" stroke-width="1.0"/><line x1="34.7" y1="250.5" x2="39.5" y2="250.5" stroke="#111" stroke-width="1.0"/><line x1="34.7" y1="248.7" x2="39.5" y2="248.7" stroke="#111" stroke-width="1.0"/><line x1="30.1" y1="247.2" x2="39.5" y2="247.2" stroke="#111" stroke-width="1.1"/><line x1="34.7" y1="237.0" x2="39.5" y2="237.0" stroke="#111" stroke-width="1.0"/><text transform="translate(29.7 354.9) rotate(-90)" font-size="8.6" fill="#1a1a1a" textLength="8.2" lengthAdjust="spacingAndGlyphs">10</text><text transform="translate(25.8 345.5) rotate(-90)" font-size="7.74" fill="#1a1a1a">2</text><text transform="translate(29.7 321.1) rotate(-90)" font-size="8.6" fill="#1a1a1a" textLength="8.2" lengthAdjust="spacingAndGlyphs">10</text><text transform="translate(25.8 311.7) rotate(-90)" font-size="7.74" fill="#1a1a1a">3</text><text transform="translate(29.7 287.3) rotate(-90)" font-size="8.6" fill="#1a1a1a" textLength="8.2" lengthAdjust="spacingAndGlyphs">10</text><text transform="translate(25.8 277.9) rotate(-90)" font-size="7.74" fill="#1a1a1a">4</text><text transform="translate(29.7 253.5) rotate(-90)" font-size="8.6" fill="#1a1a1a" textLength="8.2" lengthAdjust="spacingAndGlyphs">10</text><text transform="translate(25.8 244.1) rotate(-90)" font-size="7.74" fill="#1a1a1a">5</text><text x="61.6" y="395" font-size="10.8" fill="#1a1a1a" textLength="108.8" lengthAdjust="spacingAndGlyphs">CD19 PerCP-Cy5-5-A</text><text transform="translate(16.5 328.8) rotate(-90)" font-size="10.2" fill="#1a1a1a" textLength="63.4" lengthAdjust="spacingAndGlyphs">CD56 APC-A</text><text x="9.8" y="403.2" font-size="19" fill="#000" font-weight="bold" font-family="Liberation Serif" style="stroke-width:0.1px">C</text><text x="217.6" y="228.5" font-size="11" fill="#1a1a1a" textLength="152.9" lengthAdjust="spacingAndGlyphs">MM MRD assay-Tube_002 IC</text><line x1="234.8" y1="368.4" x2="234.8" y2="373.59999999999997" stroke="#111" stroke-width="1.0"/><line x1="240.8" y1="368.4" x2="240.8" y2="373.59999999999997" stroke="#111" stroke-width="1.0"/><line x1="244.3" y1="368.4" x2="244.3" y2="373.59999999999997" stroke="#111" stroke-width="1.0"/><line x1="246.8" y1="368.4" x2="246.8" y2="373.59999999999997" stroke="#111" stroke-width="1.0"/><line x1="248.7" y1="368.4" x2="248.7" y2="373.59999999999997" stroke="#111" stroke-width="1.0"/><line x1="250.3" y1="368.4" x2="250.3" y2="373.59999999999997" stroke="#111" stroke-width="1.0"/><line x1="251.6" y1="368.4" x2="251.6" y2="373.59999999999997" stroke="#111" stroke-width="1.0"/><line x1="252.8" y1="368.4" x2="252.8" y2="373.59999999999997" stroke="#111" stroke-width="1.0"/><line x1="253.8" y1="368.4" x2="253.8" y2="373.59999999999997" stroke="#111" stroke-width="1.0"/><line x1="254.7" y1="368.4" x2="254.7" y2="378.0" stroke="#111" stroke-width="1.1"/><line x1="266.0" y1="368.4" x2="266.0" y2="373.59999999999997" stroke="#111" stroke-width="1.0"/><line x1="272.7" y1="368.4" x2="272.7" y2="373.59999999999997" stroke="#111" stroke-width="1.0"/><line x1="277.4" y1="368.4" x2="277.4" y2="373.59999999999997" stroke="#111" stroke-width="1.0"/><line x1="281.0" y1="368.4" x2="281.0" y2="373.59999999999997" stroke="#111" stroke-width="1.0"/><line x1="284.0" y1="368.4" x2="284.0" y2="373.59999999999997" stroke="#111" stroke-width="1.0"/><line x1="286.5" y1="368.4" x2="286.5" y2="373.59999999999997" stroke="#111" stroke-width="1.0"/><line x1="288.7" y1="368.4" x2="288.7" y2="373.59999999999997" stroke="#111" stroke-width="1.0"/><line x1="290.6" y1="368.4" x2="290.6" y2="373.59999999999997" stroke="#111" stroke-width="1.0"/><line x1="292.3" y1="368.4" x2="292.3" y2="378.0" stroke="#111" stroke-width="1.1"/><line x1="303.7" y1="368.4" x2="303.7" y2="373.59999999999997" stroke="#111" stroke-width="1.0"/><line x1="310.3" y1="368.4" x2="310.3" y2="373.59999999999997" stroke="#111" stroke-width="1.0"/><line x1="315.0" y1="368.4" x2="315.0" y2="373.59999999999997" stroke="#111" stroke-width="1.0"/><line x1="318.6" y1="368.4" x2="318.6" y2="373.59999999999997" stroke="#111" stroke-width="1.0"/><line x1="321.6" y1="368.4" x2="321.6" y2="373.59999999999997" stroke="#111" stroke-width="1.0"/><line x1="324.1" y1="368.4" x2="324.1" y2="373.59999999999997" stroke="#111" stroke-width="1.0"/><line x1="326.3" y1="368.4" x2="326.3" y2="373.59999999999997" stroke="#111" stroke-width="1.0"/><line x1="328.2" y1="368.4" x2="328.2" y2="373.59999999999997" stroke="#111" stroke-width="1.0"/><line x1="330.0" y1="368.4" x2="330.0" y2="378.0" stroke="#111" stroke-width="1.1"/><line x1="341.3" y1="368.4" x2="341.3" y2="373.59999999999997" stroke="#111" stroke-width="1.0"/><line x1="347.9" y1="368.4" x2="347.9" y2="373.59999999999997" stroke="#111" stroke-width="1.0"/><line x1="352.6" y1="368.4" x2="352.6" y2="373.59999999999997" stroke="#111" stroke-width="1.0"/><line x1="356.3" y1="368.4" x2="356.3" y2="373.59999999999997" stroke="#111" stroke-width="1.0"/><line x1="359.3" y1="368.4" x2="359.3" y2="373.59999999999997" stroke="#111" stroke-width="1.0"/><line x1="361.8" y1="368.4" x2="361.8" y2="373.59999999999997" stroke="#111" stroke-width="1.0"/><line x1="364.0" y1="368.4" x2="364.0" y2="373.59999999999997" stroke="#111" stroke-width="1.0"/><line x1="365.9" y1="368.4" x2="365.9" y2="373.59999999999997" stroke="#111" stroke-width="1.0"/><line x1="367.6" y1="368.4" x2="367.6" y2="378.0" stroke="#111" stroke-width="1.1"/><line x1="378.9" y1="368.4" x2="378.9" y2="373.59999999999997" stroke="#111" stroke-width="1.0"/><text x="248.4" y="386.6" font-size="8.6" fill="#1a1a1a" textLength="8.2" lengthAdjust="spacingAndGlyphs">10</text><text x="256.8" y="382.0" font-size="7.31" fill="#1a1a1a">2</text><text x="286.0" y="386.6" font-size="8.6" fill="#1a1a1a" textLength="8.2" lengthAdjust="spacingAndGlyphs">10</text><text x="294.4" y="382.0" font-size="7.31" fill="#1a1a1a">3</text><text x="323.7" y="386.6" font-size="8.6" fill="#1a1a1a" textLength="8.2" lengthAdjust="spacingAndGlyphs">10</text><text x="332.1" y="382.0" font-size="7.31" fill="#1a1a1a">4</text><text x="361.3" y="386.6" font-size="8.6" fill="#1a1a1a" textLength="8.2" lengthAdjust="spacingAndGlyphs">10</text><text x="369.7" y="382.0" font-size="7.31" fill="#1a1a1a">5</text><line x1="227.79999999999998" y1="367.3" x2="232.6" y2="367.3" stroke="#111" stroke-width="1.0"/><line x1="227.79999999999998" y1="361.9" x2="232.6" y2="361.9" stroke="#111" stroke-width="1.0"/><line x1="227.79999999999998" y1="358.7" x2="232.6" y2="358.7" stroke="#111" stroke-width="1.0"/><line x1="227.79999999999998" y1="356.5" x2="232.6" y2="356.5" stroke="#111" stroke-width="1.0"/><line x1="227.79999999999998" y1="354.7" x2="232.6" y2="354.7" stroke="#111" stroke-width="1.0"/><line x1="227.79999999999998" y1="353.3" x2="232.6" y2="353.3" stroke="#111" stroke-width="1.0"/><line x1="227.79999999999998" y1="352.1" x2="232.6" y2="352.1" stroke="#111" stroke-width="1.0"/><line x1="227.79999999999998" y1="351.0" x2="232.6" y2="351.0" stroke="#111" stroke-width="1.0"/><line x1="227.79999999999998" y1="350.1" x2="232.6" y2="350.1" stroke="#111" stroke-width="1.0"/><line x1="223.2" y1="349.3" x2="232.6" y2="349.3" stroke="#111" stroke-width="1.1"/><line x1="227.79999999999998" y1="339.1" x2="232.6" y2="339.1" stroke="#111" stroke-width="1.0"/><line x1="227.79999999999998" y1="333.1" x2="232.6" y2="333.1" stroke="#111" stroke-width="1.0"/><line x1="227.79999999999998" y1="328.8" x2="232.6" y2="328.8" stroke="#111" stroke-width="1.0"/><line x1="227.79999999999998" y1="325.5" x2="232.6" y2="325.5" stroke="#111" stroke-width="1.0"/><line x1="227.79999999999998" y1="322.8" x2="232.6" y2="322.8" stroke="#111" stroke-width="1.0"/><line x1="227.79999999999998" y1="320.5" x2="232.6" y2="320.5" stroke="#111" stroke-width="1.0"/><line x1="227.79999999999998" y1="318.6" x2="232.6" y2="318.6" stroke="#111" stroke-width="1.0"/><line x1="227.79999999999998" y1="316.8" x2="232.6" y2="316.8" stroke="#111" stroke-width="1.0"/><line x1="223.2" y1="315.3" x2="232.6" y2="315.3" stroke="#111" stroke-width="1.1"/><line x1="227.79999999999998" y1="305.0" x2="232.6" y2="305.0" stroke="#111" stroke-width="1.0"/><line x1="227.79999999999998" y1="299.0" x2="232.6" y2="299.0" stroke="#111" stroke-width="1.0"/><line x1="227.79999999999998" y1="294.8" x2="232.6" y2="294.8" stroke="#111" stroke-width="1.0"/><line x1="227.79999999999998" y1="291.5" x2="232.6" y2="291.5" stroke="#111" stroke-width="1.0"/><line x1="227.79999999999998" y1="288.8" x2="232.6" y2="288.8" stroke="#111" stroke-width="1.0"/><line x1="227.79999999999998" y1="286.5" x2="232.6" y2="286.5" stroke="#111" stroke-width="1.0"/><line x1="227.79999999999998" y1="284.5" x2="232.6" y2="284.5" stroke="#111" stroke-width="1.0"/><line x1="227.79999999999998" y1="282.8" x2="232.6" y2="282.8" stroke="#111" stroke-width="1.0"/><line x1="223.2" y1="281.2" x2="232.6" y2="281.2" stroke="#111" stroke-width="1.1"/><line x1="227.79999999999998" y1="271.0" x2="232.6" y2="271.0" stroke="#111" stroke-width="1.0"/><line x1="227.79999999999998" y1="265.0" x2="232.6" y2="265.0" stroke="#111" stroke-width="1.0"/><line x1="227.79999999999998" y1="260.7" x2="232.6" y2="260.7" stroke="#111" stroke-width="1.0"/><line x1="227.79999999999998" y1="257.4" x2="232.6" y2="257.4" stroke="#111" stroke-width="1.0"/><line x1="227.79999999999998" y1="254.8" x2="232.6" y2="254.8" stroke="#111" stroke-width="1.0"/><line x1="227.79999999999998" y1="252.5" x2="232.6" y2="252.5" stroke="#111" stroke-width="1.0"/><line x1="227.79999999999998" y1="250.5" x2="232.6" y2="250.5" stroke="#111" stroke-width="1.0"/><line x1="227.79999999999998" y1="248.8" x2="232.6" y2="248.8" stroke="#111" stroke-width="1.0"/><line x1="223.2" y1="247.2" x2="232.6" y2="247.2" stroke="#111" stroke-width="1.1"/><line x1="227.79999999999998" y1="237.0" x2="232.6" y2="237.0" stroke="#111" stroke-width="1.0"/><text transform="translate(222.8 355.6) rotate(-90)" font-size="8.6" fill="#1a1a1a" textLength="8.2" lengthAdjust="spacingAndGlyphs">10</text><text transform="translate(218.9 346.2) rotate(-90)" font-size="7.74" fill="#1a1a1a">2</text><text transform="translate(222.8 321.6) rotate(-90)" font-size="8.6" fill="#1a1a1a" textLength="8.2" lengthAdjust="spacingAndGlyphs">10</text><text transform="translate(218.9 312.2) rotate(-90)" font-size="7.74" fill="#1a1a1a">3</text><text transform="translate(222.8 287.5) rotate(-90)" font-size="8.6" fill="#1a1a1a" textLength="8.2" lengthAdjust="spacingAndGlyphs">10</text><text transform="translate(218.9 278.1) rotate(-90)" font-size="7.74" fill="#1a1a1a">4</text><text transform="translate(222.8 253.5) rotate(-90)" font-size="8.6" fill="#1a1a1a" textLength="8.2" lengthAdjust="spacingAndGlyphs">10</text><text transform="translate(218.9 244.1) rotate(-90)" font-size="7.74" fill="#1a1a1a">5</text><text x="277" y="395.3" font-size="10.8" fill="#1a1a1a" textLength="63.7" lengthAdjust="spacingAndGlyphs">KAPPA PE-A</text><text transform="translate(208.5 338.5) rotate(-90)" font-size="10.2" fill="#1a1a1a" textLength="84" lengthAdjust="spacingAndGlyphs">LAMBDA FITC-A</text><text x="216.3" y="403.2" font-size="19" fill="#000" font-weight="bold" font-family="Liberation Serif" style="stroke-width:0.1px">D</text><text x="25.7" y="427.7" font-size="11" fill="#1a1a1a" textLength="152.9" lengthAdjust="spacingAndGlyphs">MM MRD assay-Tube_002 IC</text><line x1="42.3" y1="567" x2="42.3" y2="572.2" stroke="#111" stroke-width="1.0"/><line x1="48.4" y1="567" x2="48.4" y2="572.2" stroke="#111" stroke-width="1.0"/><line x1="52.0" y1="567" x2="52.0" y2="572.2" stroke="#111" stroke-width="1.0"/><line x1="54.6" y1="567" x2="54.6" y2="572.2" stroke="#111" stroke-width="1.0"/><line x1="56.6" y1="567" x2="56.6" y2="572.2" stroke="#111" stroke-width="1.0"/><line x1="58.2" y1="567" x2="58.2" y2="572.2" stroke="#111" stroke-width="1.0"/><line x1="59.5" y1="567" x2="59.5" y2="572.2" stroke="#111" stroke-width="1.0"/><line x1="60.7" y1="567" x2="60.7" y2="572.2" stroke="#111" stroke-width="1.0"/><line x1="61.8" y1="567" x2="61.8" y2="572.2" stroke="#111" stroke-width="1.0"/><line x1="62.7" y1="567" x2="62.7" y2="576.6" stroke="#111" stroke-width="1.1"/><line x1="74.3" y1="567" x2="74.3" y2="572.2" stroke="#111" stroke-width="1.0"/><line x1="81.1" y1="567" x2="81.1" y2="572.2" stroke="#111" stroke-width="1.0"/><line x1="85.9" y1="567" x2="85.9" y2="572.2" stroke="#111" stroke-width="1.0"/><line x1="89.6" y1="567" x2="89.6" y2="572.2" stroke="#111" stroke-width="1.0"/><line x1="92.7" y1="567" x2="92.7" y2="572.2" stroke="#111" stroke-width="1.0"/><line x1="95.3" y1="567" x2="95.3" y2="572.2" stroke="#111" stroke-width="1.0"/><line x1="97.5" y1="567" x2="97.5" y2="572.2" stroke="#111" stroke-width="1.0"/><line x1="99.5" y1="567" x2="99.5" y2="572.2" stroke="#111" stroke-width="1.0"/><line x1="101.2" y1="567" x2="101.2" y2="576.6" stroke="#111" stroke-width="1.1"/><line x1="112.8" y1="567" x2="112.8" y2="572.2" stroke="#111" stroke-width="1.0"/><line x1="119.6" y1="567" x2="119.6" y2="572.2" stroke="#111" stroke-width="1.0"/><line x1="124.4" y1="567" x2="124.4" y2="572.2" stroke="#111" stroke-width="1.0"/><line x1="128.2" y1="567" x2="128.2" y2="572.2" stroke="#111" stroke-width="1.0"/><line x1="131.2" y1="567" x2="131.2" y2="572.2" stroke="#111" stroke-width="1.0"/><line x1="133.8" y1="567" x2="133.8" y2="572.2" stroke="#111" stroke-width="1.0"/><line x1="136.0" y1="567" x2="136.0" y2="572.2" stroke="#111" stroke-width="1.0"/><line x1="138.0" y1="567" x2="138.0" y2="572.2" stroke="#111" stroke-width="1.0"/><line x1="139.8" y1="567" x2="139.8" y2="576.6" stroke="#111" stroke-width="1.1"/><line x1="151.4" y1="567" x2="151.4" y2="572.2" stroke="#111" stroke-width="1.0"/><line x1="158.2" y1="567" x2="158.2" y2="572.2" stroke="#111" stroke-width="1.0"/><line x1="163.0" y1="567" x2="163.0" y2="572.2" stroke="#111" stroke-width="1.0"/><line x1="166.7" y1="567" x2="166.7" y2="572.2" stroke="#111" stroke-width="1.0"/><line x1="169.8" y1="567" x2="169.8" y2="572.2" stroke="#111" stroke-width="1.0"/><line x1="172.3" y1="567" x2="172.3" y2="572.2" stroke="#111" stroke-width="1.0"/><line x1="174.6" y1="567" x2="174.6" y2="572.2" stroke="#111" stroke-width="1.0"/><line x1="176.5" y1="567" x2="176.5" y2="572.2" stroke="#111" stroke-width="1.0"/><line x1="178.3" y1="567" x2="178.3" y2="576.6" stroke="#111" stroke-width="1.1"/><line x1="189.9" y1="567" x2="189.9" y2="572.2" stroke="#111" stroke-width="1.0"/><text x="56.4" y="585.2" font-size="8.6" fill="#1a1a1a" textLength="8.2" lengthAdjust="spacingAndGlyphs">10</text><text x="64.8" y="580.6" font-size="7.31" fill="#1a1a1a">2</text><text x="94.9" y="585.2" font-size="8.6" fill="#1a1a1a" textLength="8.2" lengthAdjust="spacingAndGlyphs">10</text><text x="103.3" y="580.6" font-size="7.31" fill="#1a1a1a">3</text><text x="133.5" y="585.2" font-size="8.6" fill="#1a1a1a" textLength="8.2" lengthAdjust="spacingAndGlyphs">10</text><text x="141.9" y="580.6" font-size="7.31" fill="#1a1a1a">4</text><text x="172.0" y="585.2" font-size="8.6" fill="#1a1a1a" textLength="8.2" lengthAdjust="spacingAndGlyphs">10</text><text x="180.4" y="580.6" font-size="7.31" fill="#1a1a1a">5</text><line x1="35.900000000000006" y1="566.0" x2="40.7" y2="566.0" stroke="#111" stroke-width="1.0"/><line x1="35.900000000000006" y1="560.6" x2="40.7" y2="560.6" stroke="#111" stroke-width="1.0"/><line x1="35.900000000000006" y1="557.4" x2="40.7" y2="557.4" stroke="#111" stroke-width="1.0"/><line x1="35.900000000000006" y1="555.2" x2="40.7" y2="555.2" stroke="#111" stroke-width="1.0"/><line x1="35.900000000000006" y1="553.4" x2="40.7" y2="553.4" stroke="#111" stroke-width="1.0"/><line x1="35.900000000000006" y1="552.0" x2="40.7" y2="552.0" stroke="#111" stroke-width="1.0"/><line x1="35.900000000000006" y1="550.8" x2="40.7" y2="550.8" stroke="#111" stroke-width="1.0"/><line x1="35.900000000000006" y1="549.7" x2="40.7" y2="549.7" stroke="#111" stroke-width="1.0"/><line x1="35.900000000000006" y1="548.8" x2="40.7" y2="548.8" stroke="#111" stroke-width="1.0"/><line x1="31.300000000000004" y1="548.0" x2="40.7" y2="548.0" stroke="#111" stroke-width="1.1"/><line x1="35.900000000000006" y1="537.8" x2="40.7" y2="537.8" stroke="#111" stroke-width="1.0"/><line x1="35.900000000000006" y1="531.8" x2="40.7" y2="531.8" stroke="#111" stroke-width="1.0"/><line x1="35.900000000000006" y1="527.6" x2="40.7" y2="527.6" stroke="#111" stroke-width="1.0"/><line x1="35.900000000000006" y1="524.3" x2="40.7" y2="524.3" stroke="#111" stroke-width="1.0"/><line x1="35.900000000000006" y1="521.6" x2="40.7" y2="521.6" stroke="#111" stroke-width="1.0"/><line x1="35.900000000000006" y1="519.3" x2="40.7" y2="519.3" stroke="#111" stroke-width="1.0"/><line x1="35.900000000000006" y1="517.3" x2="40.7" y2="517.3" stroke="#111" stroke-width="1.0"/><line x1="35.900000000000006" y1="515.6" x2="40.7" y2="515.6" stroke="#111" stroke-width="1.0"/><line x1="31.300000000000004" y1="514.0" x2="40.7" y2="514.0" stroke="#111" stroke-width="1.1"/><line x1="35.900000000000006" y1="503.8" x2="40.7" y2="503.8" stroke="#111" stroke-width="1.0"/><line x1="35.900000000000006" y1="497.8" x2="40.7" y2="497.8" stroke="#111" stroke-width="1.0"/><line x1="35.900000000000006" y1="493.6" x2="40.7" y2="493.6" stroke="#111" stroke-width="1.0"/><line x1="35.900000000000006" y1="490.3" x2="40.7" y2="490.3" stroke="#111" stroke-width="1.0"/><line x1="35.900000000000006" y1="487.6" x2="40.7" y2="487.6" stroke="#111" stroke-width="1.0"/><line x1="35.900000000000006" y1="485.3" x2="40.7" y2="485.3" stroke="#111" stroke-width="1.0"/><line x1="35.900000000000006" y1="483.4" x2="40.7" y2="483.4" stroke="#111" stroke-width="1.0"/><line x1="35.900000000000006" y1="481.6" x2="40.7" y2="481.6" stroke="#111" stroke-width="1.0"/><line x1="31.300000000000004" y1="480.1" x2="40.7" y2="480.1" stroke="#111" stroke-width="1.1"/><line x1="35.900000000000006" y1="469.8" x2="40.7" y2="469.8" stroke="#111" stroke-width="1.0"/><line x1="35.900000000000006" y1="463.9" x2="40.7" y2="463.9" stroke="#111" stroke-width="1.0"/><line x1="35.900000000000006" y1="459.6" x2="40.7" y2="459.6" stroke="#111" stroke-width="1.0"/><line x1="35.900000000000006" y1="456.3" x2="40.7" y2="456.3" stroke="#111" stroke-width="1.0"/><line x1="35.900000000000006" y1="453.6" x2="40.7" y2="453.6" stroke="#111" stroke-width="1.0"/><line x1="35.900000000000006" y1="451.4" x2="40.7" y2="451.4" stroke="#111" stroke-width="1.0"/><line x1="35.900000000000006" y1="449.4" x2="40.7" y2="449.4" stroke="#111" stroke-width="1.0"/><line x1="35.900000000000006" y1="447.7" x2="40.7" y2="447.7" stroke="#111" stroke-width="1.0"/><line x1="31.300000000000004" y1="446.1" x2="40.7" y2="446.1" stroke="#111" stroke-width="1.1"/><line x1="35.900000000000006" y1="435.9" x2="40.7" y2="435.9" stroke="#111" stroke-width="1.0"/><text transform="translate(30.9 554.3) rotate(-90)" font-size="8.6" fill="#1a1a1a" textLength="8.2" lengthAdjust="spacingAndGlyphs">10</text><text transform="translate(27.0 544.9) rotate(-90)" font-size="7.74" fill="#1a1a1a">2</text><text transform="translate(30.9 520.3) rotate(-90)" font-size="8.6" fill="#1a1a1a" textLength="8.2" lengthAdjust="spacingAndGlyphs">10</text><text transform="translate(27.0 510.9) rotate(-90)" font-size="7.74" fill="#1a1a1a">3</text><text transform="translate(30.9 486.4) rotate(-90)" font-size="8.6" fill="#1a1a1a" textLength="8.2" lengthAdjust="spacingAndGlyphs">10</text><text transform="translate(27.0 477.0) rotate(-90)" font-size="7.74" fill="#1a1a1a">4</text><text transform="translate(30.9 452.4) rotate(-90)" font-size="8.6" fill="#1a1a1a" textLength="8.2" lengthAdjust="spacingAndGlyphs">10</text><text transform="translate(27.0 443.0) rotate(-90)" font-size="7.74" fill="#1a1a1a">5</text><text x="84.6" y="594.5" font-size="10.8" fill="#1a1a1a" textLength="63.4" lengthAdjust="spacingAndGlyphs">KAPPA PE-A</text><text transform="translate(18.1 537.6) rotate(-90)" font-size="10.2" fill="#1a1a1a" textLength="83.6" lengthAdjust="spacingAndGlyphs">LAMBDA FITC-A</text><text x="10.5" y="601.5" font-size="19" fill="#000" font-weight="bold" font-family="Liberation Serif" style="stroke-width:0.1px">E</text><text x="222" y="432.1" font-size="11" fill="#1a1a1a" textLength="152.9" lengthAdjust="spacingAndGlyphs">MM MRD assay-Tube_002 IC</text><line x1="241.1" y1="574.3" x2="241.1" y2="579.5" stroke="#111" stroke-width="1.0"/><line x1="244.8" y1="574.3" x2="244.8" y2="579.5" stroke="#111" stroke-width="1.0"/><line x1="247.4" y1="574.3" x2="247.4" y2="579.5" stroke="#111" stroke-width="1.0"/><line x1="249.4" y1="574.3" x2="249.4" y2="579.5" stroke="#111" stroke-width="1.0"/><line x1="251.1" y1="574.3" x2="251.1" y2="579.5" stroke="#111" stroke-width="1.0"/><line x1="252.5" y1="574.3" x2="252.5" y2="579.5" stroke="#111" stroke-width="1.0"/><line x1="253.7" y1="574.3" x2="253.7" y2="579.5" stroke="#111" stroke-width="1.0"/><line x1="254.7" y1="574.3" x2="254.7" y2="579.5" stroke="#111" stroke-width="1.0"/><line x1="255.7" y1="574.3" x2="255.7" y2="583.9" stroke="#111" stroke-width="1.1"/><line x1="267.6" y1="574.3" x2="267.6" y2="579.5" stroke="#111" stroke-width="1.0"/><line x1="274.5" y1="574.3" x2="274.5" y2="579.5" stroke="#111" stroke-width="1.0"/><line x1="279.5" y1="574.3" x2="279.5" y2="579.5" stroke="#111" stroke-width="1.0"/><line x1="283.3" y1="574.3" x2="283.3" y2="579.5" stroke="#111" stroke-width="1.0"/><line x1="286.4" y1="574.3" x2="286.4" y2="579.5" stroke="#111" stroke-width="1.0"/><line x1="289.1" y1="574.3" x2="289.1" y2="579.5" stroke="#111" stroke-width="1.0"/><line x1="291.4" y1="574.3" x2="291.4" y2="579.5" stroke="#111" stroke-width="1.0"/><line x1="293.4" y1="574.3" x2="293.4" y2="579.5" stroke="#111" stroke-width="1.0"/><line x1="295.2" y1="574.3" x2="295.2" y2="583.9" stroke="#111" stroke-width="1.1"/><line x1="307.1" y1="574.3" x2="307.1" y2="579.5" stroke="#111" stroke-width="1.0"/><line x1="314.0" y1="574.3" x2="314.0" y2="579.5" stroke="#111" stroke-width="1.0"/><line x1="319.0" y1="574.3" x2="319.0" y2="579.5" stroke="#111" stroke-width="1.0"/><line x1="322.8" y1="574.3" x2="322.8" y2="579.5" stroke="#111" stroke-width="1.0"/><line x1="325.9" y1="574.3" x2="325.9" y2="579.5" stroke="#111" stroke-width="1.0"/><line x1="328.6" y1="574.3" x2="328.6" y2="579.5" stroke="#111" stroke-width="1.0"/><line x1="330.9" y1="574.3" x2="330.9" y2="579.5" stroke="#111" stroke-width="1.0"/><line x1="332.9" y1="574.3" x2="332.9" y2="579.5" stroke="#111" stroke-width="1.0"/><line x1="334.7" y1="574.3" x2="334.7" y2="583.9" stroke="#111" stroke-width="1.1"/><line x1="346.6" y1="574.3" x2="346.6" y2="579.5" stroke="#111" stroke-width="1.0"/><line x1="353.5" y1="574.3" x2="353.5" y2="579.5" stroke="#111" stroke-width="1.0"/><line x1="358.5" y1="574.3" x2="358.5" y2="579.5" stroke="#111" stroke-width="1.0"/><line x1="362.3" y1="574.3" x2="362.3" y2="579.5" stroke="#111" stroke-width="1.0"/><line x1="365.4" y1="574.3" x2="365.4" y2="579.5" stroke="#111" stroke-width="1.0"/><line x1="368.1" y1="574.3" x2="368.1" y2="579.5" stroke="#111" stroke-width="1.0"/><line x1="370.4" y1="574.3" x2="370.4" y2="579.5" stroke="#111" stroke-width="1.0"/><line x1="372.4" y1="574.3" x2="372.4" y2="579.5" stroke="#111" stroke-width="1.0"/><line x1="374.2" y1="574.3" x2="374.2" y2="583.9" stroke="#111" stroke-width="1.1"/><line x1="386.1" y1="574.3" x2="386.1" y2="579.5" stroke="#111" stroke-width="1.0"/><text x="249.4" y="592.5" font-size="8.6" fill="#1a1a1a" textLength="8.2" lengthAdjust="spacingAndGlyphs">10</text><text x="257.8" y="587.9" font-size="7.31" fill="#1a1a1a">2</text><text x="288.9" y="592.5" font-size="8.6" fill="#1a1a1a" textLength="8.2" lengthAdjust="spacingAndGlyphs">10</text><text x="297.3" y="587.9" font-size="7.31" fill="#1a1a1a">3</text><text x="328.4" y="592.5" font-size="8.6" fill="#1a1a1a" textLength="8.2" lengthAdjust="spacingAndGlyphs">10</text><text x="336.8" y="587.9" font-size="7.31" fill="#1a1a1a">4</text><text x="367.9" y="592.5" font-size="8.6" fill="#1a1a1a" textLength="8.2" lengthAdjust="spacingAndGlyphs">10</text><text x="376.3" y="587.9" font-size="7.31" fill="#1a1a1a">5</text><line x1="232.29999999999998" y1="570.9" x2="237.1" y2="570.9" stroke="#111" stroke-width="1.0"/><line x1="232.29999999999998" y1="565.5" x2="237.1" y2="565.5" stroke="#111" stroke-width="1.0"/><line x1="232.29999999999998" y1="562.3" x2="237.1" y2="562.3" stroke="#111" stroke-width="1.0"/><line x1="232.29999999999998" y1="560.1" x2="237.1" y2="560.1" stroke="#111" stroke-width="1.0"/><line x1="232.29999999999998" y1="558.3" x2="237.1" y2="558.3" stroke="#111" stroke-width="1.0"/><line x1="232.29999999999998" y1="556.9" x2="237.1" y2="556.9" stroke="#111" stroke-width="1.0"/><line x1="232.29999999999998" y1="555.7" x2="237.1" y2="555.7" stroke="#111" stroke-width="1.0"/><line x1="232.29999999999998" y1="554.6" x2="237.1" y2="554.6" stroke="#111" stroke-width="1.0"/><line x1="232.29999999999998" y1="553.7" x2="237.1" y2="553.7" stroke="#111" stroke-width="1.0"/><line x1="227.7" y1="552.9" x2="237.1" y2="552.9" stroke="#111" stroke-width="1.1"/><line x1="232.29999999999998" y1="542.7" x2="237.1" y2="542.7" stroke="#111" stroke-width="1.0"/><line x1="232.29999999999998" y1="536.7" x2="237.1" y2="536.7" stroke="#111" stroke-width="1.0"/><line x1="232.29999999999998" y1="532.4" x2="237.1" y2="532.4" stroke="#111" stroke-width="1.0"/><line x1="232.29999999999998" y1="529.1" x2="237.1" y2="529.1" stroke="#111" stroke-width="1.0"/><line x1="232.29999999999998" y1="526.4" x2="237.1" y2="526.4" stroke="#111" stroke-width="1.0"/><line x1="232.29999999999998" y1="524.1" x2="237.1" y2="524.1" stroke="#111" stroke-width="1.0"/><line x1="232.29999999999998" y1="522.2" x2="237.1" y2="522.2" stroke="#111" stroke-width="1.0"/><line x1="232.29999999999998" y1="520.4" x2="237.1" y2="520.4" stroke="#111" stroke-width="1.0"/><line x1="227.7" y1="518.9" x2="237.1" y2="518.9" stroke="#111" stroke-width="1.1"/><line x1="232.29999999999998" y1="508.6" x2="237.1" y2="508.6" stroke="#111" stroke-width="1.0"/><line x1="232.29999999999998" y1="502.6" x2="237.1" y2="502.6" stroke="#111" stroke-width="1.0"/><line x1="232.29999999999998" y1="498.4" x2="237.1" y2="498.4" stroke="#111" stroke-width="1.0"/><line x1="232.29999999999998" y1="495.1" x2="237.1" y2="495.1" stroke="#111" stroke-width="1.0"/><line x1="232.29999999999998" y1="492.4" x2="237.1" y2="492.4" stroke="#111" stroke-width="1.0"/><line x1="232.29999999999998" y1="490.1" x2="237.1" y2="490.1" stroke="#111" stroke-width="1.0"/><line x1="232.29999999999998" y1="488.1" x2="237.1" y2="488.1" stroke="#111" stroke-width="1.0"/><line x1="232.29999999999998" y1="486.4" x2="237.1" y2="486.4" stroke="#111" stroke-width="1.0"/><line x1="227.7" y1="484.8" x2="237.1" y2="484.8" stroke="#111" stroke-width="1.1"/><line x1="232.29999999999998" y1="474.6" x2="237.1" y2="474.6" stroke="#111" stroke-width="1.0"/><line x1="232.29999999999998" y1="468.6" x2="237.1" y2="468.6" stroke="#111" stroke-width="1.0"/><line x1="232.29999999999998" y1="464.3" x2="237.1" y2="464.3" stroke="#111" stroke-width="1.0"/><line x1="232.29999999999998" y1="461.0" x2="237.1" y2="461.0" stroke="#111" stroke-width="1.0"/><line x1="232.29999999999998" y1="458.4" x2="237.1" y2="458.4" stroke="#111" stroke-width="1.0"/><line x1="232.29999999999998" y1="456.1" x2="237.1" y2="456.1" stroke="#111" stroke-width="1.0"/><line x1="232.29999999999998" y1="454.1" x2="237.1" y2="454.1" stroke="#111" stroke-width="1.0"/><line x1="232.29999999999998" y1="452.4" x2="237.1" y2="452.4" stroke="#111" stroke-width="1.0"/><line x1="227.7" y1="450.8" x2="237.1" y2="450.8" stroke="#111" stroke-width="1.1"/><line x1="232.29999999999998" y1="440.6" x2="237.1" y2="440.6" stroke="#111" stroke-width="1.0"/><text transform="translate(227.3 559.2) rotate(-90)" font-size="8.6" fill="#1a1a1a" textLength="8.2" lengthAdjust="spacingAndGlyphs">10</text><text transform="translate(223.4 549.8) rotate(-90)" font-size="7.74" fill="#1a1a1a">2</text><text transform="translate(227.3 525.2) rotate(-90)" font-size="8.6" fill="#1a1a1a" textLength="8.2" lengthAdjust="spacingAndGlyphs">10</text><text transform="translate(223.4 515.8) rotate(-90)" font-size="7.74" fill="#1a1a1a">3</text><text transform="translate(227.3 491.1) rotate(-90)" font-size="8.6" fill="#1a1a1a" textLength="8.2" lengthAdjust="spacingAndGlyphs">10</text><text transform="translate(223.4 481.7) rotate(-90)" font-size="7.74" fill="#1a1a1a">4</text><text transform="translate(227.3 457.1) rotate(-90)" font-size="8.6" fill="#1a1a1a" textLength="8.2" lengthAdjust="spacingAndGlyphs">10</text><text transform="translate(223.4 447.7) rotate(-90)" font-size="7.74" fill="#1a1a1a">5</text><text x="280.8" y="600" font-size="10.8" fill="#1a1a1a" textLength="62.7" lengthAdjust="spacingAndGlyphs">KAPPA PE-A</text><text transform="translate(214.8 542.8) rotate(-90)" font-size="10.2" fill="#1a1a1a" textLength="82.7" lengthAdjust="spacingAndGlyphs">LAMBDA FITC-A</text><text x="217" y="605.6" font-size="19" fill="#000" font-weight="bold" font-family="Liberation Serif" style="stroke-width:0.1px">F</text><text x="473.4" y="24.4" font-size="14.5" fill="#1a1a1a" textLength="208.2" lengthAdjust="spacingAndGlyphs" style="stroke-width:0.1px">MM MRD assay-Tube_002 IC</text><line x1="494.5" y1="219.3" x2="494.5" y2="226.372" stroke="#111" stroke-width="1.0"/><line x1="502.8" y1="219.3" x2="502.8" y2="226.372" stroke="#111" stroke-width="1.0"/><line x1="507.7" y1="219.3" x2="507.7" y2="226.372" stroke="#111" stroke-width="1.0"/><line x1="511.2" y1="219.3" x2="511.2" y2="226.372" stroke="#111" stroke-width="1.0"/><line x1="513.9" y1="219.3" x2="513.9" y2="226.372" stroke="#111" stroke-width="1.0"/><line x1="516.1" y1="219.3" x2="516.1" y2="226.372" stroke="#111" stroke-width="1.0"/><line x1="517.9" y1="219.3" x2="517.9" y2="226.372" stroke="#111" stroke-width="1.0"/><line x1="519.5" y1="219.3" x2="519.5" y2="226.372" stroke="#111" stroke-width="1.0"/><line x1="520.9" y1="219.3" x2="520.9" y2="226.372" stroke="#111" stroke-width="1.0"/><line x1="522.2" y1="219.3" x2="522.2" y2="232.35600000000002" stroke="#111" stroke-width="1.1"/><line x1="537.9" y1="219.3" x2="537.9" y2="226.372" stroke="#111" stroke-width="1.0"/><line x1="547.1" y1="219.3" x2="547.1" y2="226.372" stroke="#111" stroke-width="1.0"/><line x1="553.6" y1="219.3" x2="553.6" y2="226.372" stroke="#111" stroke-width="1.0"/><line x1="558.7" y1="219.3" x2="558.7" y2="226.372" stroke="#111" stroke-width="1.0"/><line x1="562.8" y1="219.3" x2="562.8" y2="226.372" stroke="#111" stroke-width="1.0"/><line x1="566.3" y1="219.3" x2="566.3" y2="226.372" stroke="#111" stroke-width="1.0"/><line x1="569.4" y1="219.3" x2="569.4" y2="226.372" stroke="#111" stroke-width="1.0"/><line x1="572.0" y1="219.3" x2="572.0" y2="226.372" stroke="#111" stroke-width="1.0"/><line x1="574.4" y1="219.3" x2="574.4" y2="232.35600000000002" stroke="#111" stroke-width="1.1"/><line x1="590.2" y1="219.3" x2="590.2" y2="226.372" stroke="#111" stroke-width="1.0"/><line x1="599.4" y1="219.3" x2="599.4" y2="226.372" stroke="#111" stroke-width="1.0"/><line x1="605.9" y1="219.3" x2="605.9" y2="226.372" stroke="#111" stroke-width="1.0"/><line x1="610.9" y1="219.3" x2="610.9" y2="226.372" stroke="#111" stroke-width="1.0"/><line x1="615.1" y1="219.3" x2="615.1" y2="226.372" stroke="#111" stroke-width="1.0"/><line x1="618.6" y1="219.3" x2="618.6" y2="226.372" stroke="#111" stroke-width="1.0"/><line x1="621.6" y1="219.3" x2="621.6" y2="226.372" stroke="#111" stroke-width="1.0"/><line x1="624.3" y1="219.3" x2="624.3" y2="226.372" stroke="#111" stroke-width="1.0"/><line x1="626.7" y1="219.3" x2="626.7" y2="232.35600000000002" stroke="#111" stroke-width="1.1"/><line x1="642.4" y1="219.3" x2="642.4" y2="226.372" stroke="#111" stroke-width="1.0"/><line x1="651.6" y1="219.3" x2="651.6" y2="226.372" stroke="#111" stroke-width="1.0"/><line x1="658.1" y1="219.3" x2="658.1" y2="226.372" stroke="#111" stroke-width="1.0"/><line x1="663.2" y1="219.3" x2="663.2" y2="226.372" stroke="#111" stroke-width="1.0"/><line x1="667.3" y1="219.3" x2="667.3" y2="226.372" stroke="#111" stroke-width="1.0"/><line x1="670.8" y1="219.3" x2="670.8" y2="226.372" stroke="#111" stroke-width="1.0"/><line x1="673.8" y1="219.3" x2="673.8" y2="226.372" stroke="#111" stroke-width="1.0"/><line x1="676.5" y1="219.3" x2="676.5" y2="226.372" stroke="#111" stroke-width="1.0"/><line x1="678.9" y1="219.3" x2="678.9" y2="232.35600000000002" stroke="#111" stroke-width="1.1"/><line x1="694.6" y1="219.3" x2="694.6" y2="226.372" stroke="#111" stroke-width="1.0"/><text x="513.6" y="244.1" font-size="11.696" fill="#1a1a1a" textLength="11.2" lengthAdjust="spacingAndGlyphs">10</text><text x="525.1" y="237.8" font-size="9.9416" fill="#1a1a1a">2</text><text x="565.9" y="244.1" font-size="11.696" fill="#1a1a1a" textLength="11.2" lengthAdjust="spacingAndGlyphs">10</text><text x="577.3" y="237.8" font-size="9.9416" fill="#1a1a1a">3</text><text x="618.1" y="244.1" font-size="11.696" fill="#1a1a1a" textLength="11.2" lengthAdjust="spacingAndGlyphs">10</text><text x="629.5" y="237.8" font-size="9.9416" fill="#1a1a1a">4</text><text x="670.3" y="244.1" font-size="11.696" fill="#1a1a1a" textLength="11.2" lengthAdjust="spacingAndGlyphs">10</text><text x="681.8" y="237.8" font-size="9.9416" fill="#1a1a1a">5</text><line x1="486.472" y1="216.2" x2="493" y2="216.2" stroke="#111" stroke-width="1.0"/><line x1="486.472" y1="208.6" x2="493" y2="208.6" stroke="#111" stroke-width="1.0"/><line x1="486.472" y1="204.2" x2="493" y2="204.2" stroke="#111" stroke-width="1.0"/><line x1="486.472" y1="201.0" x2="493" y2="201.0" stroke="#111" stroke-width="1.0"/><line x1="486.472" y1="198.6" x2="493" y2="198.6" stroke="#111" stroke-width="1.0"/><line x1="486.472" y1="196.6" x2="493" y2="196.6" stroke="#111" stroke-width="1.0"/><line x1="486.472" y1="194.9" x2="493" y2="194.9" stroke="#111" stroke-width="1.0"/><line x1="486.472" y1="193.4" x2="493" y2="193.4" stroke="#111" stroke-width="1.0"/><line x1="486.472" y1="192.2" x2="493" y2="192.2" stroke="#111" stroke-width="1.0"/><line x1="480.216" y1="191.0" x2="493" y2="191.0" stroke="#111" stroke-width="1.1"/><line x1="486.472" y1="176.7" x2="493" y2="176.7" stroke="#111" stroke-width="1.0"/><line x1="486.472" y1="168.3" x2="493" y2="168.3" stroke="#111" stroke-width="1.0"/><line x1="486.472" y1="162.4" x2="493" y2="162.4" stroke="#111" stroke-width="1.0"/><line x1="486.472" y1="157.8" x2="493" y2="157.8" stroke="#111" stroke-width="1.0"/><line x1="486.472" y1="154.0" x2="493" y2="154.0" stroke="#111" stroke-width="1.0"/><line x1="486.472" y1="150.8" x2="493" y2="150.8" stroke="#111" stroke-width="1.0"/><line x1="486.472" y1="148.1" x2="493" y2="148.1" stroke="#111" stroke-width="1.0"/><line x1="486.472" y1="145.6" x2="493" y2="145.6" stroke="#111" stroke-width="1.0"/><line x1="480.216" y1="143.5" x2="493" y2="143.5" stroke="#111" stroke-width="1.1"/><line x1="486.472" y1="129.2" x2="493" y2="129.2" stroke="#111" stroke-width="1.0"/><line x1="486.472" y1="120.8" x2="493" y2="120.8" stroke="#111" stroke-width="1.0"/><line x1="486.472" y1="114.8" x2="493" y2="114.8" stroke="#111" stroke-width="1.0"/><line x1="486.472" y1="110.2" x2="493" y2="110.2" stroke="#111" stroke-width="1.0"/><line x1="486.472" y1="106.5" x2="493" y2="106.5" stroke="#111" stroke-width="1.0"/><line x1="486.472" y1="103.3" x2="493" y2="103.3" stroke="#111" stroke-width="1.0"/><line x1="486.472" y1="100.5" x2="493" y2="100.5" stroke="#111" stroke-width="1.0"/><line x1="486.472" y1="98.1" x2="493" y2="98.1" stroke="#111" stroke-width="1.0"/><line x1="480.216" y1="95.9" x2="493" y2="95.9" stroke="#111" stroke-width="1.1"/><line x1="486.472" y1="81.6" x2="493" y2="81.6" stroke="#111" stroke-width="1.0"/><line x1="486.472" y1="73.3" x2="493" y2="73.3" stroke="#111" stroke-width="1.0"/><line x1="486.472" y1="67.3" x2="493" y2="67.3" stroke="#111" stroke-width="1.0"/><line x1="486.472" y1="62.7" x2="493" y2="62.7" stroke="#111" stroke-width="1.0"/><line x1="486.472" y1="58.9" x2="493" y2="58.9" stroke="#111" stroke-width="1.0"/><line x1="486.472" y1="55.8" x2="493" y2="55.8" stroke="#111" stroke-width="1.0"/><line x1="486.472" y1="53.0" x2="493" y2="53.0" stroke="#111" stroke-width="1.0"/><line x1="486.472" y1="50.6" x2="493" y2="50.6" stroke="#111" stroke-width="1.0"/><line x1="480.216" y1="48.4" x2="493" y2="48.4" stroke="#111" stroke-width="1.1"/><line x1="486.472" y1="34.1" x2="493" y2="34.1" stroke="#111" stroke-width="1.0"/><text transform="translate(479.7 199.6) rotate(-90)" font-size="11.696" fill="#1a1a1a" textLength="11.2" lengthAdjust="spacingAndGlyphs">10</text><text transform="translate(474.4 186.8) rotate(-90)" font-size="10.5264" fill="#1a1a1a">2</text><text transform="translate(479.7 152.0) rotate(-90)" font-size="11.696" fill="#1a1a1a" textLength="11.2" lengthAdjust="spacingAndGlyphs">10</text><text transform="translate(474.4 139.3) rotate(-90)" font-size="10.5264" fill="#1a1a1a">3</text><text transform="translate(479.7 104.5) rotate(-90)" font-size="11.696" fill="#1a1a1a" textLength="11.2" lengthAdjust="spacingAndGlyphs">10</text><text transform="translate(474.4 91.7) rotate(-90)" font-size="10.5264" fill="#1a1a1a">4</text><text transform="translate(479.7 57.0) rotate(-90)" font-size="11.696" fill="#1a1a1a" textLength="11.2" lengthAdjust="spacingAndGlyphs">10</text><text transform="translate(474.4 44.2) rotate(-90)" font-size="10.5264" fill="#1a1a1a">5</text><text x="553.4" y="256.4" font-size="14.5" fill="#1a1a1a" textLength="86.6" lengthAdjust="spacingAndGlyphs" style="stroke-width:0.1px">KAPPA PE-A</text><text transform="translate(463 174.6) rotate(-90)" font-size="13.5" fill="#1a1a1a" textLength="112" lengthAdjust="spacingAndGlyphs" style="stroke-width:0.1px">LAMBDA FITC-A</text><text x="451" y="262.2" font-size="19" fill="#000" font-weight="bold" font-family="Liberation Serif" style="stroke-width:0.1px">G</text>
<g class="tb"><text x="421.7" y="301.7" font-size="10.2" fill="#111">Tube:</text><text x="455.1" y="301.7" font-size="10.2" fill="#111" textLength="55.3" lengthAdjust="spacingAndGlyphs">Tube_002 IC</text><text x="416.6" y="323" font-size="10.2" fill="#111">Population</text><text x="683" y="323" font-size="10.2" fill="#111" text-anchor="end">#Events</text><text x="730" y="323" font-size="10.2" fill="#111" text-anchor="end">%Parent</text><text x="768" y="323" font-size="10.2" fill="#111" text-anchor="end">%Total</text><line x1="414" y1="326.3" x2="771" y2="326.3" stroke="#e4e4e4" stroke-width="1"/><rect x="414.5" y="339.3" width="356" height="11.4" fill="#ececec"/><rect x="414.5" y="363.4" width="356" height="11.4" fill="#ececec"/><rect x="414.5" y="387.5" width="356" height="11.4" fill="#ececec"/><rect x="414.5" y="411.6" width="356" height="11.4" fill="#ececec"/><rect x="414.5" y="435.7" width="356" height="11.4" fill="#ececec"/><rect x="414.5" y="459.7" width="356" height="11.4" fill="#ececec"/><rect x="414.5" y="483.8" width="356" height="11.4" fill="#ececec"/><rect x="414.5" y="507.9" width="356" height="11.4" fill="#ececec"/><rect x="414.5" y="532.0" width="356" height="11.4" fill="#ececec"/><rect x="414.5" y="556.1" width="356" height="11.4" fill="#ececec"/><line x1="686.5" y1="326.5" x2="686.5" y2="568" stroke="#8a8a8a" stroke-width="1"/><line x1="732.7" y1="326.5" x2="732.7" y2="568" stroke="#8a8a8a" stroke-width="1"/><line x1="421.4" y1="344.9" x2="432.4" y2="344.9" stroke="#9a9a9a" stroke-width="1" stroke-dasharray="1 1"/><line x1="439.0" y1="357.0" x2="450.0" y2="357.0" stroke="#9a9a9a" stroke-width="1" stroke-dasharray="1 1"/><line x1="456.6" y1="369.0" x2="467.6" y2="369.0" stroke="#9a9a9a" stroke-width="1" stroke-dasharray="1 1"/><line x1="456.6" y1="381.1" x2="467.6" y2="381.1" stroke="#9a9a9a" stroke-width="1" stroke-dasharray="1 1"/><line x1="456.6" y1="393.1" x2="467.6" y2="393.1" stroke="#9a9a9a" stroke-width="1" stroke-dasharray="1 1"/><line x1="456.6" y1="405.1" x2="467.6" y2="405.1" stroke="#9a9a9a" stroke-width="1" stroke-dasharray="1 1"/><line x1="439.0" y1="417.2" x2="450.0" y2="417.2" stroke="#9a9a9a" stroke-width="1" stroke-dasharray="1 1"/><line x1="439.0" y1="429.2" x2="450.0" y2="429.2" stroke="#9a9a9a" stroke-width="1" stroke-dasharray="1 1"/><line x1="439.0" y1="441.3" x2="450.0" y2="441.3" stroke="#9a9a9a" stroke-width="1" stroke-dasharray="1 1"/><line x1="456.6" y1="453.3" x2="467.6" y2="453.3" stroke="#9a9a9a" stroke-width="1" stroke-dasharray="1 1"/><line x1="456.6" y1="465.3" x2="467.6" y2="465.3" stroke="#9a9a9a" stroke-width="1" stroke-dasharray="1 1"/><line x1="456.6" y1="477.4" x2="467.6" y2="477.4" stroke="#9a9a9a" stroke-width="1" stroke-dasharray="1 1"/><line x1="456.6" y1="489.4" x2="467.6" y2="489.4" stroke="#9a9a9a" stroke-width="1" stroke-dasharray="1 1"/><line x1="421.4" y1="501.5" x2="432.4" y2="501.5" stroke="#9a9a9a" stroke-width="1" stroke-dasharray="1 1"/><line x1="439.0" y1="513.5" x2="450.0" y2="513.5" stroke="#9a9a9a" stroke-width="1" stroke-dasharray="1 1"/><line x1="456.6" y1="525.5" x2="467.6" y2="525.5" stroke="#9a9a9a" stroke-width="1" stroke-dasharray="1 1"/><line x1="456.6" y1="537.6" x2="467.6" y2="537.6" stroke="#9a9a9a" stroke-width="1" stroke-dasharray="1 1"/><line x1="456.6" y1="549.6" x2="467.6" y2="549.6" stroke="#9a9a9a" stroke-width="1" stroke-dasharray="1 1"/><line x1="456.6" y1="561.7" x2="467.6" y2="561.7" stroke="#9a9a9a" stroke-width="1" stroke-dasharray="1 1"/><line x1="421.3" y1="337.8" x2="421.3" y2="501.5" stroke="#9a9a9a" stroke-width="1" stroke-dasharray="1 1"/><line x1="438.9" y1="349.8" x2="438.9" y2="441.3" stroke="#9a9a9a" stroke-width="1" stroke-dasharray="1 1"/><line x1="456.5" y1="361.9" x2="456.5" y2="405.1" stroke="#9a9a9a" stroke-width="1" stroke-dasharray="1 1"/><line x1="456.5" y1="446.2" x2="456.5" y2="489.4" stroke="#9a9a9a" stroke-width="1" stroke-dasharray="1 1"/><line x1="438.9" y1="506.4" x2="438.9" y2="513.5" stroke="#9a9a9a" stroke-width="1" stroke-dasharray="1 1"/><line x1="456.5" y1="518.4" x2="456.5" y2="561.7" stroke="#9a9a9a" stroke-width="1" stroke-dasharray="1 1"/><rect x="415.3" y="329.1" width="8.8" height="8.8" fill="#7a7a7a" stroke="#333" stroke-width="1"/><text x="428.8" y="336.5" font-size="10.2" fill="#111" textLength="43.1" lengthAdjust="spacingAndGlyphs">All Events</text><text x="683.5" y="336.5" font-size="10.2" fill="#111" text-anchor="end">2,050,583</text><text x="730.4" y="336.5" font-size="10.2" fill="#111" text-anchor="end">####</text><text x="768.2" y="336.5" font-size="10.2" fill="#111" text-anchor="end">100.0</text><rect x="432.9" y="341.1" width="8.8" height="8.8" fill="#7a7a7a" stroke="#333" stroke-width="1"/><text x="446.4" y="348.5" font-size="10.2" fill="#111" textLength="66.8" lengthAdjust="spacingAndGlyphs">P1 CD38++ PC</text><text x="683.5" y="348.5" font-size="10.2" fill="#111" text-anchor="end">20,335</text><text x="730.4" y="348.5" font-size="10.2" fill="#111" text-anchor="end">1.0</text><text x="768.2" y="348.5" font-size="10.2" fill="#111" text-anchor="end">1.0</text><rect x="450.5" y="353.2" width="8.8" height="8.8" fill="#1cc4ee" stroke="#333" stroke-width="1"/><text x="464.0" y="360.6" font-size="10.2" fill="#111" textLength="56.5" lengthAdjust="spacingAndGlyphs">Q1 CD56 PC</text><text x="683.5" y="360.6" font-size="10.2" fill="#111" text-anchor="end">14,961</text><text x="730.4" y="360.6" font-size="10.2" fill="#111" text-anchor="end">73.6</text><text x="768.2" y="360.6" font-size="10.2" fill="#111" text-anchor="end">0.7</text><rect x="468.1" y="365.2" width="8.5" height="8.5" fill="#fff" stroke="#222" stroke-width="1"/><path d="M469.1 366.2l6.5 6.5M475.6 366.2l-6.5 6.5" stroke="#222" stroke-width="0.9"/><text x="481.6" y="372.6" font-size="10.2" fill="#111" textLength="126.6" lengthAdjust="spacingAndGlyphs">Q1-2 CD56 cy-Ig Lambda PC</text><text x="683.5" y="372.6" font-size="10.2" fill="#111" text-anchor="end">14,018</text><text x="730.4" y="372.6" font-size="10.2" fill="#111" text-anchor="end">93.7</text><text x="768.2" y="372.6" font-size="10.2" fill="#111" text-anchor="end">0.7</text><rect x="468.1" y="377.3" width="8.5" height="8.5" fill="#fff" stroke="#222" stroke-width="1"/><path d="M469.1 378.3l6.5 6.5M475.6 378.3l-6.5 6.5" stroke="#222" stroke-width="0.9"/><text x="481.6" y="384.7" font-size="10.2" fill="#111" textLength="21.5" lengthAdjust="spacingAndGlyphs">Q2-2</text><text x="683.5" y="384.7" font-size="10.2" fill="#111" text-anchor="end">640</text><text x="730.4" y="384.7" font-size="10.2" fill="#111" text-anchor="end">4.3</text><text x="768.2" y="384.7" font-size="10.2" fill="#111" text-anchor="end">0.0</text><rect x="468.1" y="389.3" width="8.5" height="8.5" fill="#fff" stroke="#222" stroke-width="1"/><path d="M469.1 390.3l6.5 6.5M475.6 390.3l-6.5 6.5" stroke="#222" stroke-width="0.9"/><text x="481.6" y="396.7" font-size="10.2" fill="#111" textLength="21.5" lengthAdjust="spacingAndGlyphs">Q3-2</text><text x="683.5" y="396.7" font-size="10.2" fill="#111" text-anchor="end">67</text><text x="730.4" y="396.7" font-size="10.2" fill="#111" text-anchor="end">0.4</text><text x="768.2" y="396.7" font-size="10.2" fill="#111" text-anchor="end">0.0</text><rect x="468.1" y="401.3" width="8.5" height="8.5" fill="#fff" stroke="#222" stroke-width="1"/><path d="M469.1 402.3l6.5 6.5M475.6 402.3l-6.5 6.5" stroke="#222" stroke-width="0.9"/><text x="481.6" y="408.7" font-size="10.2" fill="#111" textLength="119.6" lengthAdjust="spacingAndGlyphs">Q4-2 CD56 cy-Ig Kappa PC</text><text x="683.5" y="408.7" font-size="10.2" fill="#111" text-anchor="end">236</text><text x="730.4" y="408.7" font-size="10.2" fill="#111" text-anchor="end">1.6</text><text x="768.2" y="408.7" font-size="10.2" fill="#111" text-anchor="end">0.0</text><rect x="450.5" y="413.4" width="8.5" height="8.5" fill="#fff" stroke="#222" stroke-width="1"/><path d="M451.5 414.4l6.5 6.5M458.0 414.4l-6.5 6.5" stroke="#222" stroke-width="0.9"/><text x="464.0" y="420.8" font-size="10.2" fill="#111" textLength="12.9" lengthAdjust="spacingAndGlyphs">Q2</text><text x="683.5" y="420.8" font-size="10.2" fill="#111" text-anchor="end">221</text><text x="730.4" y="420.8" font-size="10.2" fill="#111" text-anchor="end">1.1</text><text x="768.2" y="420.8" font-size="10.2" fill="#111" text-anchor="end">0.0</text><rect x="450.5" y="425.4" width="8.5" height="8.5" fill="#fff" stroke="#222" stroke-width="1"/><path d="M451.5 426.4l6.5 6.5M458.0 426.4l-6.5 6.5" stroke="#222" stroke-width="0.9"/><text x="464.0" y="432.8" font-size="10.2" fill="#111" textLength="12.9" lengthAdjust="spacingAndGlyphs">Q3</text><text x="683.5" y="432.8" font-size="10.2" fill="#111" text-anchor="end">524</text><text x="730.4" y="432.8" font-size="10.2" fill="#111" text-anchor="end">2.6</text><text x="768.2" y="432.8" font-size="10.2" fill="#111" text-anchor="end">0.0</text><rect x="450.5" y="437.5" width="8.8" height="8.8" fill="#5f9a10" stroke="#333" stroke-width="1"/><text x="464.0" y="444.9" font-size="10.2" fill="#111" textLength="56.5" lengthAdjust="spacingAndGlyphs">Q4 CD19 PC</text><text x="683.5" y="444.9" font-size="10.2" fill="#111" text-anchor="end">4,629</text><text x="730.4" y="444.9" font-size="10.2" fill="#111" text-anchor="end">22.8</text><text x="768.2" y="444.9" font-size="10.2" fill="#111" text-anchor="end">0.2</text><rect x="468.1" y="449.5" width="8.5" height="8.5" fill="#fff" stroke="#222" stroke-width="1"/><path d="M469.1 450.5l6.5 6.5M475.6 450.5l-6.5 6.5" stroke="#222" stroke-width="0.9"/><text x="481.6" y="456.9" font-size="10.2" fill="#111" textLength="126.6" lengthAdjust="spacingAndGlyphs">Q1-1 CD19 cy-Ig Lambda PC</text><text x="683.5" y="456.9" font-size="10.2" fill="#111" text-anchor="end">1,443</text><text x="730.4" y="456.9" font-size="10.2" fill="#111" text-anchor="end">31.2</text><text x="768.2" y="456.9" font-size="10.2" fill="#111" text-anchor="end">0.1</text><rect x="468.1" y="461.5" width="8.5" height="8.5" fill="#fff" stroke="#222" stroke-width="1"/><path d="M469.1 462.5l6.5 6.5M475.6 462.5l-6.5 6.5" stroke="#222" stroke-width="0.9"/><text x="481.6" y="468.9" font-size="10.2" fill="#111" textLength="21.5" lengthAdjust="spacingAndGlyphs">Q2-1</text><text x="683.5" y="468.9" font-size="10.2" fill="#111" text-anchor="end">392</text><text x="730.4" y="468.9" font-size="10.2" fill="#111" text-anchor="end">8.5</text><text x="768.2" y="468.9" font-size="10.2" fill="#111" text-anchor="end">0.0</text><rect x="468.1" y="473.6" width="8.5" height="8.5" fill="#fff" stroke="#222" stroke-width="1"/><path d="M469.1 474.6l6.5 6.5M475.6 474.6l-6.5 6.5" stroke="#222" stroke-width="0.9"/><text x="481.6" y="481.0" font-size="10.2" fill="#111" textLength="21.5" lengthAdjust="spacingAndGlyphs">Q3-1</text><text x="683.5" y="481.0" font-size="10.2" fill="#111" text-anchor="end">71</text><text x="730.4" y="481.0" font-size="10.2" fill="#111" text-anchor="end">1.5</text><text x="768.2" y="481.0" font-size="10.2" fill="#111" text-anchor="end">0.0</text><rect x="468.1" y="485.6" width="8.5" height="8.5" fill="#fff" stroke="#222" stroke-width="1"/><path d="M469.1 486.6l6.5 6.5M475.6 486.6l-6.5 6.5" stroke="#222" stroke-width="0.9"/><text x="481.6" y="493.0" font-size="10.2" fill="#111" textLength="119.6" lengthAdjust="spacingAndGlyphs">Q4-1 CD19 cy-Ig Kappa PC</text><text x="683.5" y="493.0" font-size="10.2" fill="#111" text-anchor="end">2,723</text><text x="730.4" y="493.0" font-size="10.2" fill="#111" text-anchor="end">58.8</text><text x="768.2" y="493.0" font-size="10.2" fill="#111" text-anchor="end">0.1</text><rect x="432.9" y="497.7" width="8.8" height="8.8" fill="#7a7a7a" stroke="#333" stroke-width="1"/><text x="446.4" y="505.1" font-size="10.2" fill="#111" textLength="98.7" lengthAdjust="spacingAndGlyphs">P1 CD45 Lymphocytes</text><text x="683.5" y="505.1" font-size="10.2" fill="#111" text-anchor="end">406,301</text><text x="730.4" y="505.1" font-size="10.2" fill="#111" text-anchor="end">19.8</text><text x="768.2" y="505.1" font-size="10.2" fill="#111" text-anchor="end">19.8</text><rect x="450.5" y="509.7" width="8.8" height="8.8" fill="#c8c8c8" stroke="#333" stroke-width="1"/><text x="464.0" y="517.1" font-size="10.2" fill="#111" textLength="98.7" lengthAdjust="spacingAndGlyphs">P1 CD19 Lymphocytes</text><text x="683.5" y="517.1" font-size="10.2" fill="#111" text-anchor="end">17,482</text><text x="730.4" y="517.1" font-size="10.2" fill="#111" text-anchor="end">4.3</text><text x="768.2" y="517.1" font-size="10.2" fill="#111" text-anchor="end">0.9</text><rect x="468.1" y="521.7" width="8.5" height="8.5" fill="#fff" stroke="#222" stroke-width="1"/><path d="M469.1 522.7l6.5 6.5M475.6 522.7l-6.5 6.5" stroke="#222" stroke-width="0.9"/><text x="481.6" y="529.1" font-size="10.2" fill="#111" textLength="95.5" lengthAdjust="spacingAndGlyphs">Q1-3 cy-Ig Lambda Ly</text><text x="683.5" y="529.1" font-size="10.2" fill="#111" text-anchor="end">5,838</text><text x="730.4" y="529.1" font-size="10.2" fill="#111" text-anchor="end">33.4</text><text x="768.2" y="529.1" font-size="10.2" fill="#111" text-anchor="end">0.3</text><rect x="468.1" y="533.8" width="8.5" height="8.5" fill="#fff" stroke="#222" stroke-width="1"/><path d="M469.1 534.8l6.5 6.5M475.6 534.8l-6.5 6.5" stroke="#222" stroke-width="0.9"/><text x="481.6" y="541.2" font-size="10.2" fill="#111" textLength="21.5" lengthAdjust="spacingAndGlyphs">Q2-3</text><text x="683.5" y="541.2" font-size="10.2" fill="#111" text-anchor="end">396</text><text x="730.4" y="541.2" font-size="10.2" fill="#111" text-anchor="end">2.3</text><text x="768.2" y="541.2" font-size="10.2" fill="#111" text-anchor="end">0.0</text><rect x="468.1" y="545.8" width="8.5" height="8.5" fill="#fff" stroke="#222" stroke-width="1"/><path d="M469.1 546.8l6.5 6.5M475.6 546.8l-6.5 6.5" stroke="#222" stroke-width="0.9"/><text x="481.6" y="553.2" font-size="10.2" fill="#111" textLength="21.5" lengthAdjust="spacingAndGlyphs">Q3-3</text><text x="683.5" y="553.2" font-size="10.2" fill="#111" text-anchor="end">417</text><text x="730.4" y="553.2" font-size="10.2" fill="#111" text-anchor="end">2.4</text><text x="768.2" y="553.2" font-size="10.2" fill="#111" text-anchor="end">0.0</text><rect x="468.1" y="557.9" width="8.5" height="8.5" fill="#fff" stroke="#222" stroke-width="1"/><path d="M469.1 558.9l6.5 6.5M475.6 558.9l-6.5 6.5" stroke="#222" stroke-width="0.9"/><text x="481.6" y="565.3" font-size="10.2" fill="#111" textLength="88.5" lengthAdjust="spacingAndGlyphs">Q4-3 cy-Ig Kappa Ly</text><text x="683.5" y="565.3" font-size="10.2" fill="#111" text-anchor="end">10,831</text><text x="730.4" y="565.3" font-size="10.2" fill="#111" text-anchor="end">62.0</text><text x="768.2" y="565.3" font-size="10.2" fill="#111" text-anchor="end">0.5</text><text x="415" y="568.8" font-size="19" font-family="Liberation Serif" font-weight="bold" fill="#000">H</text></g>
<rect x="1.5" y="1.5" width="400.8" height="610.5" fill="none" stroke="#000" stroke-width="1.8"/><rect x="441.8" y="1.8" width="270.8" height="268.8" fill="none" stroke="#000" stroke-width="1.6"/><rect x="408.8" y="286.6" width="367.8" height="286.8" fill="none" stroke="#222" stroke-width="1.4"/>
</svg></body></html>
